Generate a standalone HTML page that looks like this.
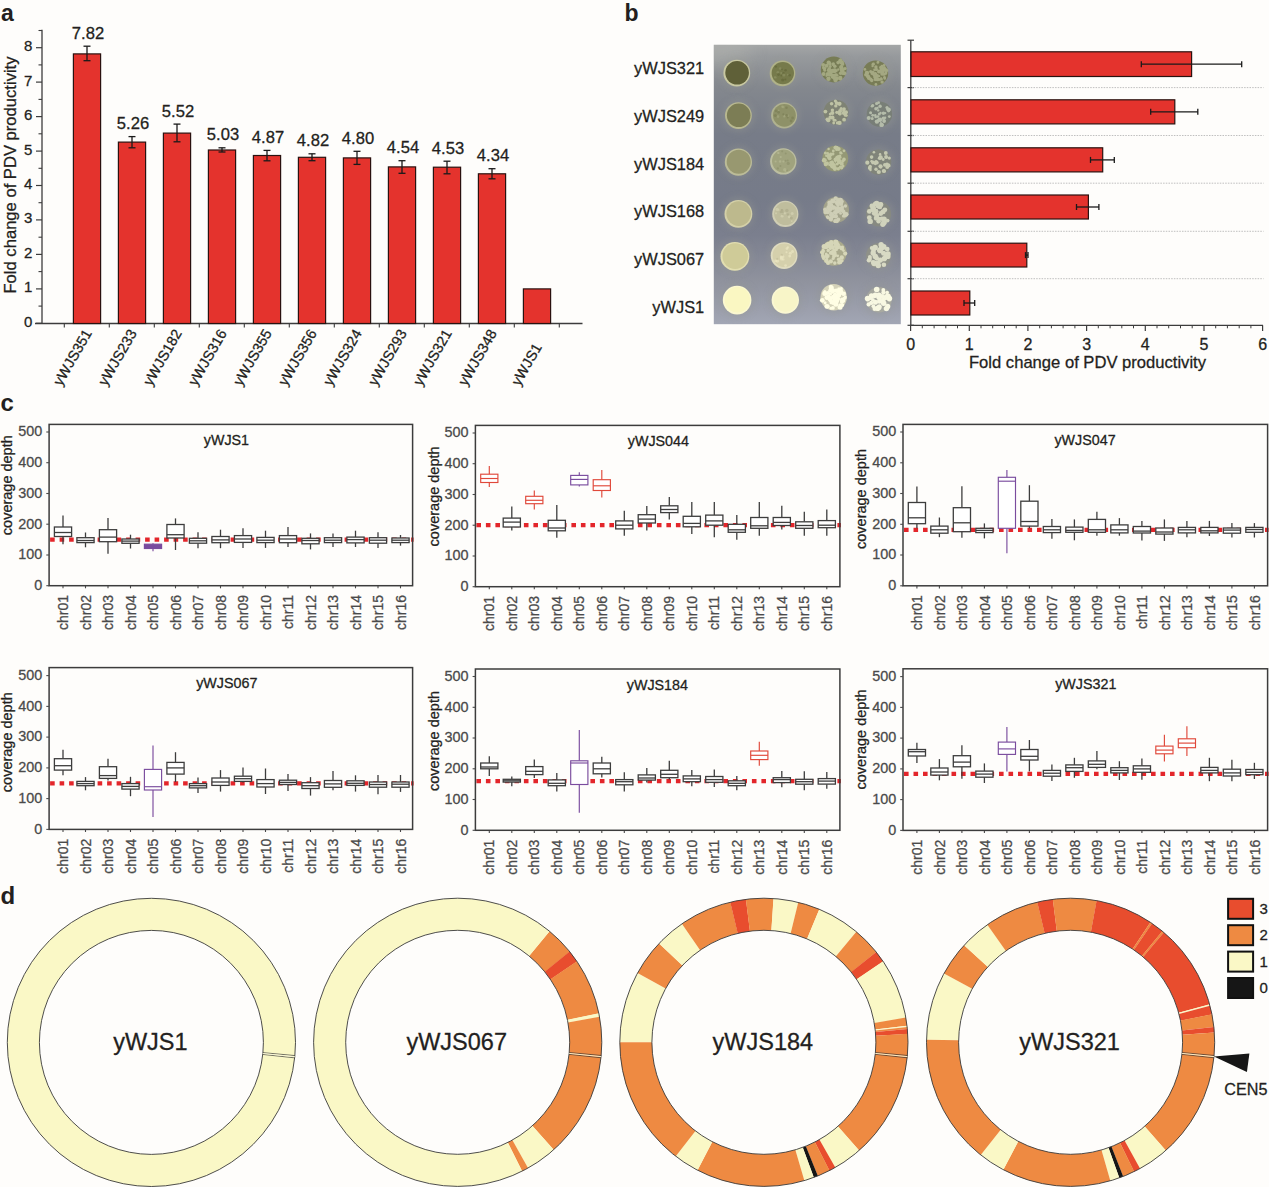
<!DOCTYPE html>
<html><head><meta charset="utf-8"><title>Figure</title>
<style>
html,body{margin:0;padding:0;background:#fefdfb;}
body{width:1269px;height:1187px;overflow:hidden;}
svg{display:block;font-family:"Liberation Sans", sans-serif;}
</style></head><body>
<svg width="1269" height="1187" viewBox="0 0 1269 1187">
<text x="1" y="20.8" font-size="23" font-weight="bold" fill="#231f20">a</text>
<line x1="42" y1="29.7" x2="42" y2="323.5" stroke="#3c3c3c" stroke-width="1.3"/>
<line x1="36" y1="323.3" x2="42" y2="323.3" stroke="#3c3c3c" stroke-width="1.2"/>
<text x="32.3" y="326.8" font-size="15" text-anchor="end" fill="#231f20" stroke="#231f20" stroke-width="0.28">0</text>
<line x1="38.5" y1="306.1" x2="42" y2="306.1" stroke="#3c3c3c" stroke-width="1.1"/>
<line x1="36" y1="288.9" x2="42" y2="288.9" stroke="#3c3c3c" stroke-width="1.2"/>
<text x="32.3" y="292.4" font-size="15" text-anchor="end" fill="#231f20" stroke="#231f20" stroke-width="0.28">1</text>
<line x1="38.5" y1="271.6" x2="42" y2="271.6" stroke="#3c3c3c" stroke-width="1.1"/>
<line x1="36" y1="254.4" x2="42" y2="254.4" stroke="#3c3c3c" stroke-width="1.2"/>
<text x="32.3" y="257.9" font-size="15" text-anchor="end" fill="#231f20" stroke="#231f20" stroke-width="0.28">2</text>
<line x1="38.5" y1="237.2" x2="42" y2="237.2" stroke="#3c3c3c" stroke-width="1.1"/>
<line x1="36" y1="219.9" x2="42" y2="219.9" stroke="#3c3c3c" stroke-width="1.2"/>
<text x="32.3" y="223.4" font-size="15" text-anchor="end" fill="#231f20" stroke="#231f20" stroke-width="0.28">3</text>
<line x1="38.5" y1="202.7" x2="42" y2="202.7" stroke="#3c3c3c" stroke-width="1.1"/>
<line x1="36" y1="185.5" x2="42" y2="185.5" stroke="#3c3c3c" stroke-width="1.2"/>
<text x="32.3" y="189.0" font-size="15" text-anchor="end" fill="#231f20" stroke="#231f20" stroke-width="0.28">4</text>
<line x1="38.5" y1="168.3" x2="42" y2="168.3" stroke="#3c3c3c" stroke-width="1.1"/>
<line x1="36" y1="151.1" x2="42" y2="151.1" stroke="#3c3c3c" stroke-width="1.2"/>
<text x="32.3" y="154.6" font-size="15" text-anchor="end" fill="#231f20" stroke="#231f20" stroke-width="0.28">5</text>
<line x1="38.5" y1="133.8" x2="42" y2="133.8" stroke="#3c3c3c" stroke-width="1.1"/>
<line x1="36" y1="116.6" x2="42" y2="116.6" stroke="#3c3c3c" stroke-width="1.2"/>
<text x="32.3" y="120.1" font-size="15" text-anchor="end" fill="#231f20" stroke="#231f20" stroke-width="0.28">6</text>
<line x1="38.5" y1="99.4" x2="42" y2="99.4" stroke="#3c3c3c" stroke-width="1.1"/>
<line x1="36" y1="82.1" x2="42" y2="82.1" stroke="#3c3c3c" stroke-width="1.2"/>
<text x="32.3" y="85.6" font-size="15" text-anchor="end" fill="#231f20" stroke="#231f20" stroke-width="0.28">7</text>
<line x1="38.5" y1="64.9" x2="42" y2="64.9" stroke="#3c3c3c" stroke-width="1.1"/>
<line x1="36" y1="47.7" x2="42" y2="47.7" stroke="#3c3c3c" stroke-width="1.2"/>
<text x="32.3" y="51.2" font-size="15" text-anchor="end" fill="#231f20" stroke="#231f20" stroke-width="0.28">8</text>
<line x1="38.5" y1="30.5" x2="42" y2="30.5" stroke="#3c3c3c" stroke-width="1.1"/>
<text transform="translate(15.5,175) rotate(-90)" font-size="16.6" text-anchor="middle" fill="#231f20" stroke="#231f20" stroke-width="0.28">Fold change of PDV productivity</text>
<line x1="35" y1="323.5" x2="582.5" y2="323.5" stroke="#3c3c3c" stroke-width="1.4"/>
<rect x="73.4" y="53.9" width="27.2" height="269.6" fill="#e4332d" stroke="#2a1210" stroke-width="1.2"/>
<line x1="87.0" y1="46.2" x2="87.0" y2="60.7" stroke="#1a1a1a" stroke-width="1.3"/>
<line x1="83.5" y1="46.2" x2="90.5" y2="46.2" stroke="#1a1a1a" stroke-width="1.3"/>
<line x1="83.5" y1="60.7" x2="90.5" y2="60.7" stroke="#1a1a1a" stroke-width="1.3"/>
<text x="88.0" y="38.7" font-size="16.6" text-anchor="middle" fill="#231f20" stroke="#231f20" stroke-width="0.28">7.82</text>
<text transform="translate(61.3,386.7) rotate(-60)" font-size="14.5" text-anchor="start" fill="#231f20" stroke="#231f20" stroke-width="0.28">yWJS351</text>
<rect x="118.4" y="142.1" width="27.2" height="181.4" fill="#e4332d" stroke="#2a1210" stroke-width="1.2"/>
<line x1="132.0" y1="136.6" x2="132.0" y2="147.8" stroke="#1a1a1a" stroke-width="1.3"/>
<line x1="128.5" y1="136.6" x2="135.5" y2="136.6" stroke="#1a1a1a" stroke-width="1.3"/>
<line x1="128.5" y1="147.8" x2="135.5" y2="147.8" stroke="#1a1a1a" stroke-width="1.3"/>
<text x="133.0" y="129.1" font-size="16.6" text-anchor="middle" fill="#231f20" stroke="#231f20" stroke-width="0.28">5.26</text>
<text transform="translate(106.3,386.7) rotate(-60)" font-size="14.5" text-anchor="start" fill="#231f20" stroke="#231f20" stroke-width="0.28">yWJS233</text>
<rect x="163.4" y="133.1" width="27.2" height="190.4" fill="#e4332d" stroke="#2a1210" stroke-width="1.2"/>
<line x1="177.0" y1="124.1" x2="177.0" y2="141.8" stroke="#1a1a1a" stroke-width="1.3"/>
<line x1="173.5" y1="124.1" x2="180.5" y2="124.1" stroke="#1a1a1a" stroke-width="1.3"/>
<line x1="173.5" y1="141.8" x2="180.5" y2="141.8" stroke="#1a1a1a" stroke-width="1.3"/>
<text x="178.0" y="116.6" font-size="16.6" text-anchor="middle" fill="#231f20" stroke="#231f20" stroke-width="0.28">5.52</text>
<text transform="translate(151.3,386.7) rotate(-60)" font-size="14.5" text-anchor="start" fill="#231f20" stroke="#231f20" stroke-width="0.28">yWJS182</text>
<rect x="208.4" y="150.0" width="27.2" height="173.5" fill="#e4332d" stroke="#2a1210" stroke-width="1.2"/>
<line x1="222.0" y1="147.8" x2="222.0" y2="152.0" stroke="#1a1a1a" stroke-width="1.3"/>
<line x1="218.5" y1="147.8" x2="225.5" y2="147.8" stroke="#1a1a1a" stroke-width="1.3"/>
<line x1="218.5" y1="152.0" x2="225.5" y2="152.0" stroke="#1a1a1a" stroke-width="1.3"/>
<text x="223.0" y="140.3" font-size="16.6" text-anchor="middle" fill="#231f20" stroke="#231f20" stroke-width="0.28">5.03</text>
<text transform="translate(196.3,386.7) rotate(-60)" font-size="14.5" text-anchor="start" fill="#231f20" stroke="#231f20" stroke-width="0.28">yWJS316</text>
<rect x="253.4" y="155.5" width="27.2" height="168.0" fill="#e4332d" stroke="#2a1210" stroke-width="1.2"/>
<line x1="267.0" y1="150.4" x2="267.0" y2="160.8" stroke="#1a1a1a" stroke-width="1.3"/>
<line x1="263.5" y1="150.4" x2="270.5" y2="150.4" stroke="#1a1a1a" stroke-width="1.3"/>
<line x1="263.5" y1="160.8" x2="270.5" y2="160.8" stroke="#1a1a1a" stroke-width="1.3"/>
<text x="268.0" y="142.9" font-size="16.6" text-anchor="middle" fill="#231f20" stroke="#231f20" stroke-width="0.28">4.87</text>
<text transform="translate(241.3,386.7) rotate(-60)" font-size="14.5" text-anchor="start" fill="#231f20" stroke="#231f20" stroke-width="0.28">yWJS355</text>
<rect x="298.4" y="157.3" width="27.2" height="166.2" fill="#e4332d" stroke="#2a1210" stroke-width="1.2"/>
<line x1="312.0" y1="153.8" x2="312.0" y2="160.7" stroke="#1a1a1a" stroke-width="1.3"/>
<line x1="308.5" y1="153.8" x2="315.5" y2="153.8" stroke="#1a1a1a" stroke-width="1.3"/>
<line x1="308.5" y1="160.7" x2="315.5" y2="160.7" stroke="#1a1a1a" stroke-width="1.3"/>
<text x="313.0" y="146.3" font-size="16.6" text-anchor="middle" fill="#231f20" stroke="#231f20" stroke-width="0.28">4.82</text>
<text transform="translate(286.3,386.7) rotate(-60)" font-size="14.5" text-anchor="start" fill="#231f20" stroke="#231f20" stroke-width="0.28">yWJS356</text>
<rect x="343.4" y="157.9" width="27.2" height="165.6" fill="#e4332d" stroke="#2a1210" stroke-width="1.2"/>
<line x1="357.0" y1="151.3" x2="357.0" y2="164.4" stroke="#1a1a1a" stroke-width="1.3"/>
<line x1="353.5" y1="151.3" x2="360.5" y2="151.3" stroke="#1a1a1a" stroke-width="1.3"/>
<line x1="353.5" y1="164.4" x2="360.5" y2="164.4" stroke="#1a1a1a" stroke-width="1.3"/>
<text x="358.0" y="143.8" font-size="16.6" text-anchor="middle" fill="#231f20" stroke="#231f20" stroke-width="0.28">4.80</text>
<text transform="translate(331.3,386.7) rotate(-60)" font-size="14.5" text-anchor="start" fill="#231f20" stroke="#231f20" stroke-width="0.28">yWJS324</text>
<rect x="388.4" y="166.9" width="27.2" height="156.6" fill="#e4332d" stroke="#2a1210" stroke-width="1.2"/>
<line x1="402.0" y1="160.7" x2="402.0" y2="173.3" stroke="#1a1a1a" stroke-width="1.3"/>
<line x1="398.5" y1="160.7" x2="405.5" y2="160.7" stroke="#1a1a1a" stroke-width="1.3"/>
<line x1="398.5" y1="173.3" x2="405.5" y2="173.3" stroke="#1a1a1a" stroke-width="1.3"/>
<text x="403.0" y="153.2" font-size="16.6" text-anchor="middle" fill="#231f20" stroke="#231f20" stroke-width="0.28">4.54</text>
<text transform="translate(376.3,386.7) rotate(-60)" font-size="14.5" text-anchor="start" fill="#231f20" stroke="#231f20" stroke-width="0.28">yWJS293</text>
<rect x="433.4" y="167.2" width="27.2" height="156.3" fill="#e4332d" stroke="#2a1210" stroke-width="1.2"/>
<line x1="447.0" y1="161.2" x2="447.0" y2="173.8" stroke="#1a1a1a" stroke-width="1.3"/>
<line x1="443.5" y1="161.2" x2="450.5" y2="161.2" stroke="#1a1a1a" stroke-width="1.3"/>
<line x1="443.5" y1="173.8" x2="450.5" y2="173.8" stroke="#1a1a1a" stroke-width="1.3"/>
<text x="448.0" y="153.7" font-size="16.6" text-anchor="middle" fill="#231f20" stroke="#231f20" stroke-width="0.28">4.53</text>
<text transform="translate(421.3,386.7) rotate(-60)" font-size="14.5" text-anchor="start" fill="#231f20" stroke="#231f20" stroke-width="0.28">yWJS321</text>
<rect x="478.4" y="173.8" width="27.2" height="149.7" fill="#e4332d" stroke="#2a1210" stroke-width="1.2"/>
<line x1="492.0" y1="168.7" x2="492.0" y2="178.8" stroke="#1a1a1a" stroke-width="1.3"/>
<line x1="488.5" y1="168.7" x2="495.5" y2="168.7" stroke="#1a1a1a" stroke-width="1.3"/>
<line x1="488.5" y1="178.8" x2="495.5" y2="178.8" stroke="#1a1a1a" stroke-width="1.3"/>
<text x="493.0" y="161.2" font-size="16.6" text-anchor="middle" fill="#231f20" stroke="#231f20" stroke-width="0.28">4.34</text>
<text transform="translate(466.3,386.7) rotate(-60)" font-size="14.5" text-anchor="start" fill="#231f20" stroke="#231f20" stroke-width="0.28">yWJS348</text>
<rect x="523.4" y="288.9" width="27.2" height="34.6" fill="#e4332d" stroke="#2a1210" stroke-width="1.2"/>
<text transform="translate(519.4,386.7) rotate(-60)" font-size="14.5" text-anchor="start" fill="#231f20" stroke="#231f20" stroke-width="0.28">yWJS1</text>
<line x1="64.3" y1="323.5" x2="64.3" y2="327.5" stroke="#3c3c3c" stroke-width="1.1"/>
<line x1="109.3" y1="323.5" x2="109.3" y2="327.5" stroke="#3c3c3c" stroke-width="1.1"/>
<line x1="154.3" y1="323.5" x2="154.3" y2="327.5" stroke="#3c3c3c" stroke-width="1.1"/>
<line x1="199.3" y1="323.5" x2="199.3" y2="327.5" stroke="#3c3c3c" stroke-width="1.1"/>
<line x1="244.3" y1="323.5" x2="244.3" y2="327.5" stroke="#3c3c3c" stroke-width="1.1"/>
<line x1="289.3" y1="323.5" x2="289.3" y2="327.5" stroke="#3c3c3c" stroke-width="1.1"/>
<line x1="334.3" y1="323.5" x2="334.3" y2="327.5" stroke="#3c3c3c" stroke-width="1.1"/>
<line x1="379.3" y1="323.5" x2="379.3" y2="327.5" stroke="#3c3c3c" stroke-width="1.1"/>
<line x1="424.3" y1="323.5" x2="424.3" y2="327.5" stroke="#3c3c3c" stroke-width="1.1"/>
<line x1="469.3" y1="323.5" x2="469.3" y2="327.5" stroke="#3c3c3c" stroke-width="1.1"/>
<line x1="514.3" y1="323.5" x2="514.3" y2="327.5" stroke="#3c3c3c" stroke-width="1.1"/>
<line x1="559.3" y1="323.5" x2="559.3" y2="327.5" stroke="#3c3c3c" stroke-width="1.1"/>
<text x="624.5" y="20.7" font-size="23" font-weight="bold" fill="#231f20">b</text>
<defs><filter id="blur3" x="-50%" y="-50%" width="200%" height="200%"><feGaussianBlur stdDeviation="3"/></filter><filter id="blur8" x="-50%" y="-50%" width="200%" height="200%"><feGaussianBlur stdDeviation="8"/></filter><filter id="blur05" x="-50%" y="-50%" width="200%" height="200%"><feGaussianBlur stdDeviation="0.4"/></filter><filter id="blur07" x="-50%" y="-50%" width="200%" height="200%"><feGaussianBlur stdDeviation="0.7"/></filter><clipPath id="photoclip"><rect x="713.8" y="44.8" width="187" height="279.4"/></clipPath><linearGradient id="bgv" x1="0" y1="0" x2="0" y2="1"><stop offset="0" stop-color="#a4a6a6"/><stop offset="0.04" stop-color="#979a9d"/><stop offset="0.15" stop-color="#84888e"/><stop offset="0.32" stop-color="#777c88"/><stop offset="0.55" stop-color="#767b89"/><stop offset="0.68" stop-color="#7b7f8e"/><stop offset="0.85" stop-color="#90939e"/><stop offset="1" stop-color="#a2a6b4"/></linearGradient></defs>
<rect x="713.8" y="44.8" width="187" height="279.4" fill="url(#bgv)"/>
<g clip-path="url(#photoclip)">
<ellipse cx="722" cy="52" rx="30" ry="14" fill="#b4b5b0" opacity="0.5" filter="url(#blur8)"/>
<circle cx="736.8" cy="73.1" r="16.4" fill="#959892" opacity="0.35" filter="url(#blur3)"/>
<circle cx="782.5" cy="73.4" r="15.8" fill="#959892" opacity="0.35" filter="url(#blur3)"/>
<circle cx="833.7" cy="69.5" r="16.4" fill="#959892" opacity="0.35" filter="url(#blur3)"/>
<circle cx="875.5" cy="73.1" r="16.2" fill="#959892" opacity="0.35" filter="url(#blur3)"/>
<circle cx="738.4" cy="115.6" r="16.4" fill="#959892" opacity="0.35" filter="url(#blur3)"/>
<circle cx="784.1" cy="115.6" r="16" fill="#959892" opacity="0.35" filter="url(#blur3)"/>
<circle cx="836.1" cy="112.2" r="16" fill="#959892" opacity="0.35" filter="url(#blur3)"/>
<circle cx="879.4" cy="114.1" r="16.2" fill="#959892" opacity="0.35" filter="url(#blur3)"/>
<circle cx="738.4" cy="162.1" r="16.6" fill="#959892" opacity="0.35" filter="url(#blur3)"/>
<circle cx="783.3" cy="161.4" r="16.2" fill="#959892" opacity="0.35" filter="url(#blur3)"/>
<circle cx="835.3" cy="158.6" r="16.4" fill="#959892" opacity="0.35" filter="url(#blur3)"/>
<circle cx="878.6" cy="162.1" r="16.2" fill="#959892" opacity="0.35" filter="url(#blur3)"/>
<circle cx="738.4" cy="213.9" r="16.9" fill="#959892" opacity="0.35" filter="url(#blur3)"/>
<circle cx="785.3" cy="213.9" r="16.1" fill="#959892" opacity="0.35" filter="url(#blur3)"/>
<circle cx="836.1" cy="209.9" r="16.4" fill="#959892" opacity="0.35" filter="url(#blur3)"/>
<circle cx="878.6" cy="213.9" r="16" fill="#959892" opacity="0.35" filter="url(#blur3)"/>
<circle cx="734.9" cy="256.4" r="17.4" fill="#959892" opacity="0.35" filter="url(#blur3)"/>
<circle cx="784.1" cy="255.6" r="16.4" fill="#959892" opacity="0.35" filter="url(#blur3)"/>
<circle cx="833.7" cy="252.8" r="16.4" fill="#959892" opacity="0.35" filter="url(#blur3)"/>
<circle cx="878.6" cy="255.6" r="16" fill="#959892" opacity="0.35" filter="url(#blur3)"/>
<circle cx="737.1" cy="300.1" r="17.3" fill="#959892" opacity="0.35" filter="url(#blur3)"/>
<circle cx="785.3" cy="300.1" r="16.7" fill="#959892" opacity="0.35" filter="url(#blur3)"/>
<circle cx="833.7" cy="297.2" r="16.7" fill="#959892" opacity="0.35" filter="url(#blur3)"/>
<circle cx="879" cy="299.8" r="16.3" fill="#959892" opacity="0.35" filter="url(#blur3)"/>
<circle cx="736.8" cy="73.1" r="13.4" fill="#c9c9a2" filter="url(#blur05)"/>
<circle cx="737.0999999999999" cy="72.8" r="11.8" fill="#5f6039" filter="url(#blur05)"/>
<circle cx="782.5" cy="73.4" r="12.8" fill="#b0b288" filter="url(#blur05)"/>
<circle cx="782.8" cy="73.10000000000001" r="11.200000000000001" fill="#767a4c" filter="url(#blur05)"/>
<circle cx="781.3" cy="75.7" r="0.9" fill="#64683a" opacity="0.7" filter="url(#blur05)"/>
<circle cx="777.8" cy="72.3" r="1.3" fill="#8c9062" opacity="0.7" filter="url(#blur05)"/>
<circle cx="787.8" cy="74.7" r="0.9" fill="#8c9062" opacity="0.7" filter="url(#blur05)"/>
<circle cx="774.9" cy="77.3" r="1.0" fill="#8c9062" opacity="0.7" filter="url(#blur05)"/>
<circle cx="775.9" cy="66.6" r="1.2" fill="#64683a" opacity="0.7" filter="url(#blur05)"/>
<circle cx="783.6" cy="73.2" r="1.1" fill="#64683a" opacity="0.7" filter="url(#blur05)"/>
<circle cx="783.9" cy="75.1" r="1.5" fill="#8c9062" opacity="0.7" filter="url(#blur05)"/>
<circle cx="785.3" cy="79.5" r="1.1" fill="#64683a" opacity="0.7" filter="url(#blur05)"/>
<circle cx="781.2" cy="73.0" r="1.0" fill="#8c9062" opacity="0.7" filter="url(#blur05)"/>
<circle cx="780.2" cy="68.5" r="1.3" fill="#8c9062" opacity="0.7" filter="url(#blur05)"/>
<circle cx="778.5" cy="74.6" r="1.4" fill="#64683a" opacity="0.7" filter="url(#blur05)"/>
<circle cx="782.7" cy="80.0" r="1.6" fill="#64683a" opacity="0.7" filter="url(#blur05)"/>
<circle cx="782.0" cy="69.3" r="0.9" fill="#64683a" opacity="0.7" filter="url(#blur05)"/>
<circle cx="775.5" cy="77.4" r="1.2" fill="#8c9062" opacity="0.7" filter="url(#blur05)"/>
<circle cx="789.7" cy="75.2" r="1.3" fill="#64683a" opacity="0.7" filter="url(#blur05)"/>
<circle cx="785.6" cy="70.3" r="1.3" fill="#64683a" opacity="0.7" filter="url(#blur05)"/>
<circle cx="833.7" cy="69.5" r="12.9" fill="#777c54" filter="url(#blur05)"/>
<circle cx="826.7" cy="65.7" r="2.0" fill="#a3a880" filter="url(#blur05)"/>
<circle cx="841.3" cy="66.7" r="1.8" fill="#a3a880" filter="url(#blur05)"/>
<circle cx="842.9" cy="73.2" r="1.8" fill="#a3a880" filter="url(#blur05)"/>
<circle cx="844.4" cy="69.0" r="1.4" fill="#a3a880" filter="url(#blur05)"/>
<circle cx="826.4" cy="75.8" r="1.1" fill="#a3a880" filter="url(#blur05)"/>
<circle cx="829.0" cy="70.7" r="1.2" fill="#a3a880" filter="url(#blur05)"/>
<circle cx="843.3" cy="73.2" r="1.2" fill="#a3a880" filter="url(#blur05)"/>
<circle cx="833.8" cy="76.9" r="2.1" fill="#a3a880" filter="url(#blur05)"/>
<circle cx="840.6" cy="73.3" r="1.7" fill="#a3a880" filter="url(#blur05)"/>
<circle cx="841.6" cy="62.4" r="2.1" fill="#a3a880" filter="url(#blur05)"/>
<circle cx="832.3" cy="77.0" r="1.5" fill="#a3a880" filter="url(#blur05)"/>
<circle cx="842.3" cy="61.8" r="1.3" fill="#a3a880" filter="url(#blur05)"/>
<circle cx="836.2" cy="74.6" r="1.4" fill="#a3a880" filter="url(#blur05)"/>
<circle cx="824.7" cy="70.4" r="1.4" fill="#a3a880" filter="url(#blur05)"/>
<circle cx="841.3" cy="69.7" r="1.5" fill="#a3a880" filter="url(#blur05)"/>
<circle cx="823.2" cy="64.8" r="1.9" fill="#a3a880" filter="url(#blur05)"/>
<circle cx="824.5" cy="68.6" r="1.8" fill="#a3a880" filter="url(#blur05)"/>
<circle cx="844.3" cy="73.2" r="2.0" fill="#a3a880" filter="url(#blur05)"/>
<circle cx="841.1" cy="62.0" r="1.5" fill="#a3a880" filter="url(#blur05)"/>
<circle cx="830.6" cy="71.8" r="1.8" fill="#a3a880" filter="url(#blur05)"/>
<circle cx="836.5" cy="70.7" r="1.3" fill="#a3a880" filter="url(#blur05)"/>
<circle cx="837.3" cy="75.4" r="1.2" fill="#a3a880" filter="url(#blur05)"/>
<circle cx="838.3" cy="69.5" r="1.2" fill="#a3a880" filter="url(#blur05)"/>
<circle cx="832.5" cy="70.9" r="2.1" fill="#a3a880" filter="url(#blur05)"/>
<circle cx="830.3" cy="66.5" r="1.4" fill="#a3a880" filter="url(#blur05)"/>
<circle cx="829.6" cy="75.3" r="1.2" fill="#a3a880" filter="url(#blur05)"/>
<circle cx="840.5" cy="59.9" r="1.6" fill="#a3a880" filter="url(#blur05)"/>
<circle cx="830.3" cy="69.9" r="1.2" fill="#a3a880" filter="url(#blur05)"/>
<circle cx="830.4" cy="74.6" r="2.0" fill="#a3a880" filter="url(#blur05)"/>
<circle cx="834.6" cy="71.0" r="2.1" fill="#a3a880" filter="url(#blur05)"/>
<circle cx="829.3" cy="68.7" r="1.7" fill="#a3a880" filter="url(#blur05)"/>
<circle cx="842.2" cy="71.0" r="2.2" fill="#a3a880" filter="url(#blur05)"/>
<circle cx="840.1" cy="62.0" r="1.4" fill="#a3a880" filter="url(#blur05)"/>
<circle cx="830.5" cy="73.1" r="1.9" fill="#a3a880" filter="url(#blur05)"/>
<circle cx="823.5" cy="67.4" r="1.5" fill="#a3a880" filter="url(#blur05)"/>
<circle cx="835.5" cy="80.0" r="2.2" fill="#a3a880" filter="url(#blur05)"/>
<circle cx="840.1" cy="61.0" r="2.0" fill="#a3a880" filter="url(#blur05)"/>
<circle cx="833.3" cy="63.9" r="1.7" fill="#a3a880" filter="url(#blur05)"/>
<circle cx="832.5" cy="71.1" r="1.1" fill="#a3a880" filter="url(#blur05)"/>
<circle cx="832.6" cy="75.4" r="1.9" fill="#a3a880" filter="url(#blur05)"/>
<circle cx="841.3" cy="67.4" r="2.1" fill="#a3a880" filter="url(#blur05)"/>
<circle cx="845.2" cy="68.6" r="1.5" fill="#a3a880" filter="url(#blur05)"/>
<circle cx="834.7" cy="75.0" r="1.3" fill="#a3a880" filter="url(#blur05)"/>
<circle cx="836.3" cy="78.4" r="2.1" fill="#a3a880" filter="url(#blur05)"/>
<circle cx="838.1" cy="62.6" r="1.8" fill="#a3a880" filter="url(#blur05)"/>
<circle cx="834.8" cy="66.2" r="1.8" fill="#a3a880" filter="url(#blur05)"/>
<circle cx="842.5" cy="63.9" r="1.9" fill="#a3a880" filter="url(#blur05)"/>
<circle cx="828.8" cy="70.2" r="2.0" fill="#a3a880" filter="url(#blur05)"/>
<circle cx="828.5" cy="78.7" r="2.2" fill="#a3a880" filter="url(#blur05)"/>
<circle cx="827.8" cy="74.1" r="2.1" fill="#a3a880" filter="url(#blur05)"/>
<circle cx="832.9" cy="64.7" r="1.2" fill="#a3a880" filter="url(#blur05)"/>
<circle cx="840.2" cy="78.6" r="2.0" fill="#a3a880" filter="url(#blur05)"/>
<circle cx="840.2" cy="78.0" r="2.2" fill="#a3a880" filter="url(#blur05)"/>
<circle cx="829.9" cy="63.7" r="1.7" fill="#a3a880" filter="url(#blur05)"/>
<circle cx="834.7" cy="70.5" r="2.2" fill="#a3a880" filter="url(#blur05)"/>
<circle cx="828.7" cy="62.6" r="2.1" fill="#a3a880" filter="url(#blur05)"/>
<circle cx="823.6" cy="74.0" r="2.0" fill="#a3a880" filter="url(#blur05)"/>
<circle cx="835.1" cy="75.2" r="1.4" fill="#a3a880" filter="url(#blur05)"/>
<circle cx="834.2" cy="78.5" r="1.4" fill="#a3a880" filter="url(#blur05)"/>
<circle cx="830.0" cy="71.6" r="2.1" fill="#a3a880" filter="url(#blur05)"/>
<circle cx="875.5" cy="73.1" r="12.7" fill="#787c56" filter="url(#blur05)"/>
<circle cx="870.7" cy="79.3" r="1.7" fill="#a4a882" filter="url(#blur05)"/>
<circle cx="881.7" cy="68.8" r="2.1" fill="#a4a882" filter="url(#blur05)"/>
<circle cx="867.0" cy="73.0" r="1.7" fill="#a4a882" filter="url(#blur05)"/>
<circle cx="883.1" cy="74.0" r="1.3" fill="#a4a882" filter="url(#blur05)"/>
<circle cx="885.9" cy="73.4" r="1.3" fill="#a4a882" filter="url(#blur05)"/>
<circle cx="865.8" cy="74.7" r="1.7" fill="#a4a882" filter="url(#blur05)"/>
<circle cx="871.7" cy="80.5" r="1.7" fill="#a4a882" filter="url(#blur05)"/>
<circle cx="876.3" cy="69.4" r="1.7" fill="#a4a882" filter="url(#blur05)"/>
<circle cx="875.6" cy="79.2" r="1.9" fill="#a4a882" filter="url(#blur05)"/>
<circle cx="866.8" cy="72.7" r="1.9" fill="#a4a882" filter="url(#blur05)"/>
<circle cx="882.1" cy="69.1" r="1.8" fill="#a4a882" filter="url(#blur05)"/>
<circle cx="867.2" cy="72.8" r="1.9" fill="#a4a882" filter="url(#blur05)"/>
<circle cx="867.4" cy="75.6" r="1.6" fill="#a4a882" filter="url(#blur05)"/>
<circle cx="884.6" cy="69.6" r="2.1" fill="#a4a882" filter="url(#blur05)"/>
<circle cx="881.0" cy="71.0" r="1.7" fill="#a4a882" filter="url(#blur05)"/>
<circle cx="885.5" cy="69.4" r="1.3" fill="#a4a882" filter="url(#blur05)"/>
<circle cx="881.1" cy="78.4" r="1.2" fill="#a4a882" filter="url(#blur05)"/>
<circle cx="875.7" cy="76.2" r="1.8" fill="#a4a882" filter="url(#blur05)"/>
<circle cx="877.8" cy="62.4" r="1.3" fill="#a4a882" filter="url(#blur05)"/>
<circle cx="873.5" cy="63.9" r="1.3" fill="#a4a882" filter="url(#blur05)"/>
<circle cx="884.0" cy="65.4" r="1.3" fill="#a4a882" filter="url(#blur05)"/>
<circle cx="882.5" cy="70.9" r="1.6" fill="#a4a882" filter="url(#blur05)"/>
<circle cx="886.1" cy="72.4" r="1.3" fill="#a4a882" filter="url(#blur05)"/>
<circle cx="867.9" cy="76.6" r="1.5" fill="#a4a882" filter="url(#blur05)"/>
<circle cx="877.7" cy="79.3" r="1.9" fill="#a4a882" filter="url(#blur05)"/>
<circle cx="884.1" cy="74.2" r="1.6" fill="#a4a882" filter="url(#blur05)"/>
<circle cx="882.1" cy="73.9" r="1.8" fill="#a4a882" filter="url(#blur05)"/>
<circle cx="872.6" cy="72.9" r="2.2" fill="#a4a882" filter="url(#blur05)"/>
<circle cx="878.2" cy="62.0" r="1.2" fill="#a4a882" filter="url(#blur05)"/>
<circle cx="875.3" cy="75.4" r="2.0" fill="#a4a882" filter="url(#blur05)"/>
<circle cx="875.0" cy="77.2" r="1.6" fill="#a4a882" filter="url(#blur05)"/>
<circle cx="884.4" cy="67.6" r="1.4" fill="#a4a882" filter="url(#blur05)"/>
<circle cx="882.1" cy="82.1" r="1.7" fill="#a4a882" filter="url(#blur05)"/>
<circle cx="874.4" cy="69.8" r="1.2" fill="#a4a882" filter="url(#blur05)"/>
<circle cx="872.6" cy="66.1" r="1.2" fill="#a4a882" filter="url(#blur05)"/>
<circle cx="884.1" cy="69.6" r="2.0" fill="#a4a882" filter="url(#blur05)"/>
<circle cx="884.8" cy="78.5" r="1.2" fill="#a4a882" filter="url(#blur05)"/>
<circle cx="880.6" cy="67.2" r="1.5" fill="#a4a882" filter="url(#blur05)"/>
<circle cx="864.9" cy="69.4" r="1.4" fill="#a4a882" filter="url(#blur05)"/>
<circle cx="881.3" cy="79.2" r="1.4" fill="#a4a882" filter="url(#blur05)"/>
<circle cx="879.1" cy="76.1" r="1.2" fill="#a4a882" filter="url(#blur05)"/>
<circle cx="877.4" cy="79.3" r="1.4" fill="#a4a882" filter="url(#blur05)"/>
<circle cx="875.9" cy="66.9" r="1.7" fill="#a4a882" filter="url(#blur05)"/>
<circle cx="878.5" cy="79.2" r="1.1" fill="#a4a882" filter="url(#blur05)"/>
<circle cx="875.5" cy="74.5" r="1.9" fill="#a4a882" filter="url(#blur05)"/>
<circle cx="870.7" cy="71.5" r="1.6" fill="#a4a882" filter="url(#blur05)"/>
<circle cx="879.0" cy="71.6" r="2.0" fill="#a4a882" filter="url(#blur05)"/>
<circle cx="868.1" cy="76.5" r="2.0" fill="#a4a882" filter="url(#blur05)"/>
<circle cx="869.0" cy="78.2" r="1.9" fill="#a4a882" filter="url(#blur05)"/>
<circle cx="882.2" cy="72.4" r="2.0" fill="#a4a882" filter="url(#blur05)"/>
<circle cx="873.0" cy="64.2" r="1.5" fill="#a4a882" filter="url(#blur05)"/>
<circle cx="873.9" cy="75.3" r="1.2" fill="#a4a882" filter="url(#blur05)"/>
<circle cx="884.5" cy="77.4" r="1.4" fill="#a4a882" filter="url(#blur05)"/>
<circle cx="877.2" cy="76.0" r="2.0" fill="#a4a882" filter="url(#blur05)"/>
<circle cx="882.0" cy="66.2" r="1.4" fill="#a4a882" filter="url(#blur05)"/>
<circle cx="875.8" cy="79.4" r="1.6" fill="#a4a882" filter="url(#blur05)"/>
<circle cx="879.8" cy="79.6" r="1.4" fill="#a4a882" filter="url(#blur05)"/>
<circle cx="886.6" cy="70.4" r="1.7" fill="#a4a882" filter="url(#blur05)"/>
<circle cx="875.9" cy="84.5" r="1.4" fill="#a4a882" filter="url(#blur05)"/>
<circle cx="875.3" cy="73.4" r="1.5" fill="#a4a882" filter="url(#blur05)"/>
<circle cx="738.4" cy="115.6" r="13.4" fill="#b8b890" filter="url(#blur05)"/>
<circle cx="738.6999999999999" cy="115.3" r="11.8" fill="#7c7d55" filter="url(#blur05)"/>
<circle cx="784.1" cy="115.6" r="13" fill="#b0b290" filter="url(#blur05)"/>
<circle cx="784.4" cy="115.3" r="11.4" fill="#8e9168" filter="url(#blur05)"/>
<circle cx="778.0" cy="116.6" r="1.3" fill="#a4a77e" opacity="0.7" filter="url(#blur05)"/>
<circle cx="788.0" cy="115.7" r="1.2" fill="#a4a77e" opacity="0.7" filter="url(#blur05)"/>
<circle cx="784.8" cy="115.8" r="1.0" fill="#a4a77e" opacity="0.7" filter="url(#blur05)"/>
<circle cx="778.6" cy="112.3" r="1.4" fill="#7c7f56" opacity="0.7" filter="url(#blur05)"/>
<circle cx="782.2" cy="106.7" r="1.1" fill="#a4a77e" opacity="0.7" filter="url(#blur05)"/>
<circle cx="786.7" cy="115.3" r="1.4" fill="#7c7f56" opacity="0.7" filter="url(#blur05)"/>
<circle cx="792.6" cy="118.0" r="1.4" fill="#7c7f56" opacity="0.7" filter="url(#blur05)"/>
<circle cx="783.2" cy="107.0" r="1.3" fill="#a4a77e" opacity="0.7" filter="url(#blur05)"/>
<circle cx="775.3" cy="115.4" r="1.5" fill="#7c7f56" opacity="0.7" filter="url(#blur05)"/>
<circle cx="776.1" cy="110.9" r="1.4" fill="#7c7f56" opacity="0.7" filter="url(#blur05)"/>
<circle cx="784.2" cy="116.5" r="1.1" fill="#a4a77e" opacity="0.7" filter="url(#blur05)"/>
<circle cx="791.1" cy="121.0" r="1.4" fill="#7c7f56" opacity="0.7" filter="url(#blur05)"/>
<circle cx="778.7" cy="110.2" r="0.8" fill="#a4a77e" opacity="0.7" filter="url(#blur05)"/>
<circle cx="786.5" cy="107.8" r="1.3" fill="#7c7f56" opacity="0.7" filter="url(#blur05)"/>
<circle cx="783.3" cy="114.3" r="1.0" fill="#7c7f56" opacity="0.7" filter="url(#blur05)"/>
<circle cx="787.6" cy="117.4" r="1.0" fill="#7c7f56" opacity="0.7" filter="url(#blur05)"/>
<circle cx="836.1" cy="112.2" r="12.5" fill="#7a7e60" opacity="0.55" filter="url(#blur05)"/>
<circle cx="835.4" cy="101.0" r="1.6" fill="#bec2a4" filter="url(#blur05)"/>
<circle cx="830.3" cy="117.5" r="1.9" fill="#bec2a4" filter="url(#blur05)"/>
<circle cx="837.1" cy="103.3" r="1.8" fill="#bec2a4" filter="url(#blur05)"/>
<circle cx="840.0" cy="114.2" r="1.4" fill="#bec2a4" filter="url(#blur05)"/>
<circle cx="835.8" cy="105.9" r="1.7" fill="#bec2a4" filter="url(#blur05)"/>
<circle cx="838.9" cy="112.4" r="1.4" fill="#bec2a4" filter="url(#blur05)"/>
<circle cx="831.6" cy="103.8" r="1.8" fill="#bec2a4" filter="url(#blur05)"/>
<circle cx="834.0" cy="120.1" r="1.6" fill="#bec2a4" filter="url(#blur05)"/>
<circle cx="832.3" cy="113.0" r="2.1" fill="#bec2a4" filter="url(#blur05)"/>
<circle cx="839.6" cy="122.9" r="2.1" fill="#bec2a4" filter="url(#blur05)"/>
<circle cx="843.8" cy="113.0" r="2.0" fill="#bec2a4" filter="url(#blur05)"/>
<circle cx="843.6" cy="110.7" r="1.4" fill="#bec2a4" filter="url(#blur05)"/>
<circle cx="838.9" cy="122.9" r="1.3" fill="#bec2a4" filter="url(#blur05)"/>
<circle cx="832.4" cy="110.1" r="1.7" fill="#bec2a4" filter="url(#blur05)"/>
<circle cx="840.1" cy="111.0" r="2.0" fill="#bec2a4" filter="url(#blur05)"/>
<circle cx="825.4" cy="111.6" r="1.9" fill="#bec2a4" filter="url(#blur05)"/>
<circle cx="837.4" cy="122.9" r="1.6" fill="#bec2a4" filter="url(#blur05)"/>
<circle cx="836.8" cy="112.3" r="1.6" fill="#bec2a4" filter="url(#blur05)"/>
<circle cx="830.1" cy="114.1" r="1.3" fill="#bec2a4" filter="url(#blur05)"/>
<circle cx="832.5" cy="117.5" r="2.0" fill="#bec2a4" filter="url(#blur05)"/>
<circle cx="846.0" cy="112.3" r="2.0" fill="#bec2a4" filter="url(#blur05)"/>
<circle cx="844.1" cy="119.7" r="1.9" fill="#bec2a4" filter="url(#blur05)"/>
<circle cx="841.1" cy="108.6" r="1.5" fill="#bec2a4" filter="url(#blur05)"/>
<circle cx="827.2" cy="119.3" r="1.7" fill="#bec2a4" filter="url(#blur05)"/>
<circle cx="831.3" cy="117.9" r="1.4" fill="#bec2a4" filter="url(#blur05)"/>
<circle cx="839.6" cy="113.3" r="2.0" fill="#bec2a4" filter="url(#blur05)"/>
<circle cx="833.7" cy="123.0" r="1.4" fill="#bec2a4" filter="url(#blur05)"/>
<circle cx="835.3" cy="120.3" r="1.3" fill="#bec2a4" filter="url(#blur05)"/>
<circle cx="828.3" cy="120.2" r="2.1" fill="#bec2a4" filter="url(#blur05)"/>
<circle cx="839.5" cy="103.8" r="2.1" fill="#bec2a4" filter="url(#blur05)"/>
<circle cx="844.0" cy="109.1" r="1.9" fill="#bec2a4" filter="url(#blur05)"/>
<circle cx="845.4" cy="115.2" r="1.6" fill="#bec2a4" filter="url(#blur05)"/>
<circle cx="836.3" cy="103.0" r="1.4" fill="#bec2a4" filter="url(#blur05)"/>
<circle cx="846.6" cy="115.5" r="1.2" fill="#bec2a4" filter="url(#blur05)"/>
<circle cx="879.4" cy="114.1" r="12.7" fill="#707866" opacity="0.55" filter="url(#blur05)"/>
<circle cx="872.7" cy="115.3" r="1.4" fill="#b4bcaa" filter="url(#blur05)"/>
<circle cx="878.6" cy="102.7" r="1.4" fill="#b4bcaa" filter="url(#blur05)"/>
<circle cx="875.9" cy="108.8" r="1.7" fill="#b4bcaa" filter="url(#blur05)"/>
<circle cx="875.7" cy="117.0" r="1.3" fill="#b4bcaa" filter="url(#blur05)"/>
<circle cx="882.3" cy="124.8" r="1.6" fill="#b4bcaa" filter="url(#blur05)"/>
<circle cx="881.5" cy="124.9" r="2.2" fill="#b4bcaa" filter="url(#blur05)"/>
<circle cx="875.3" cy="115.4" r="1.3" fill="#b4bcaa" filter="url(#blur05)"/>
<circle cx="885.1" cy="117.8" r="1.2" fill="#b4bcaa" filter="url(#blur05)"/>
<circle cx="879.8" cy="120.0" r="1.7" fill="#b4bcaa" filter="url(#blur05)"/>
<circle cx="887.0" cy="107.6" r="1.6" fill="#b4bcaa" filter="url(#blur05)"/>
<circle cx="872.2" cy="118.4" r="1.5" fill="#b4bcaa" filter="url(#blur05)"/>
<circle cx="877.9" cy="116.6" r="1.4" fill="#b4bcaa" filter="url(#blur05)"/>
<circle cx="883.4" cy="113.3" r="1.7" fill="#b4bcaa" filter="url(#blur05)"/>
<circle cx="872.0" cy="106.3" r="1.3" fill="#b4bcaa" filter="url(#blur05)"/>
<circle cx="878.6" cy="119.8" r="1.5" fill="#b4bcaa" filter="url(#blur05)"/>
<circle cx="868.7" cy="117.9" r="2.0" fill="#b4bcaa" filter="url(#blur05)"/>
<circle cx="880.6" cy="112.9" r="1.1" fill="#b4bcaa" filter="url(#blur05)"/>
<circle cx="876.6" cy="103.5" r="1.6" fill="#b4bcaa" filter="url(#blur05)"/>
<circle cx="879.3" cy="114.0" r="1.5" fill="#b4bcaa" filter="url(#blur05)"/>
<circle cx="888.8" cy="109.4" r="2.0" fill="#b4bcaa" filter="url(#blur05)"/>
<circle cx="885.1" cy="113.1" r="1.2" fill="#b4bcaa" filter="url(#blur05)"/>
<circle cx="884.1" cy="121.0" r="1.9" fill="#b4bcaa" filter="url(#blur05)"/>
<circle cx="888.6" cy="110.6" r="1.8" fill="#b4bcaa" filter="url(#blur05)"/>
<circle cx="880.1" cy="106.3" r="1.7" fill="#b4bcaa" filter="url(#blur05)"/>
<circle cx="889.3" cy="116.6" r="1.4" fill="#b4bcaa" filter="url(#blur05)"/>
<circle cx="887.6" cy="109.6" r="1.4" fill="#b4bcaa" filter="url(#blur05)"/>
<circle cx="883.4" cy="118.3" r="1.8" fill="#b4bcaa" filter="url(#blur05)"/>
<circle cx="878.2" cy="110.4" r="1.2" fill="#b4bcaa" filter="url(#blur05)"/>
<circle cx="870.6" cy="112.7" r="1.5" fill="#b4bcaa" filter="url(#blur05)"/>
<circle cx="880.9" cy="123.0" r="1.1" fill="#b4bcaa" filter="url(#blur05)"/>
<circle cx="876.9" cy="121.6" r="2.2" fill="#b4bcaa" filter="url(#blur05)"/>
<circle cx="872.7" cy="105.5" r="1.6" fill="#b4bcaa" filter="url(#blur05)"/>
<circle cx="880.0" cy="119.8" r="2.2" fill="#b4bcaa" filter="url(#blur05)"/>
<circle cx="877.6" cy="107.9" r="1.1" fill="#b4bcaa" filter="url(#blur05)"/>
<circle cx="738.4" cy="162.1" r="13.6" fill="#bcbc98" filter="url(#blur05)"/>
<circle cx="738.6999999999999" cy="161.79999999999998" r="12.0" fill="#989870" filter="url(#blur05)"/>
<circle cx="783.3" cy="161.4" r="13.2" fill="#bcbea0" filter="url(#blur05)"/>
<circle cx="783.5999999999999" cy="161.1" r="11.6" fill="#a0a37e" filter="url(#blur05)"/>
<circle cx="775.6" cy="161.5" r="1.0" fill="#b6b994" opacity="0.7" filter="url(#blur05)"/>
<circle cx="778.5" cy="153.0" r="0.8" fill="#b6b994" opacity="0.7" filter="url(#blur05)"/>
<circle cx="780.4" cy="166.1" r="1.0" fill="#8e916c" opacity="0.7" filter="url(#blur05)"/>
<circle cx="785.7" cy="153.5" r="1.0" fill="#8e916c" opacity="0.7" filter="url(#blur05)"/>
<circle cx="787.7" cy="160.6" r="1.0" fill="#8e916c" opacity="0.7" filter="url(#blur05)"/>
<circle cx="784.8" cy="169.7" r="1.7" fill="#b6b994" opacity="0.7" filter="url(#blur05)"/>
<circle cx="780.1" cy="161.5" r="1.2" fill="#b6b994" opacity="0.7" filter="url(#blur05)"/>
<circle cx="778.3" cy="152.9" r="1.2" fill="#b6b994" opacity="0.7" filter="url(#blur05)"/>
<circle cx="785.6" cy="171.1" r="0.8" fill="#b6b994" opacity="0.7" filter="url(#blur05)"/>
<circle cx="788.2" cy="163.4" r="1.6" fill="#8e916c" opacity="0.7" filter="url(#blur05)"/>
<circle cx="782.2" cy="151.3" r="1.1" fill="#8e916c" opacity="0.7" filter="url(#blur05)"/>
<circle cx="787.1" cy="170.3" r="0.8" fill="#8e916c" opacity="0.7" filter="url(#blur05)"/>
<circle cx="780.7" cy="157.0" r="1.1" fill="#b6b994" opacity="0.7" filter="url(#blur05)"/>
<circle cx="783.4" cy="161.5" r="1.1" fill="#b6b994" opacity="0.7" filter="url(#blur05)"/>
<circle cx="785.6" cy="160.7" r="1.0" fill="#8e916c" opacity="0.7" filter="url(#blur05)"/>
<circle cx="777.8" cy="168.4" r="1.2" fill="#8e916c" opacity="0.7" filter="url(#blur05)"/>
<circle cx="835.3" cy="158.6" r="12.9" fill="#949874" filter="url(#blur05)"/>
<circle cx="843.0" cy="161.1" r="1.5" fill="#c0c4a0" filter="url(#blur05)"/>
<circle cx="839.8" cy="156.1" r="1.5" fill="#c0c4a0" filter="url(#blur05)"/>
<circle cx="836.9" cy="157.4" r="1.6" fill="#c0c4a0" filter="url(#blur05)"/>
<circle cx="839.2" cy="149.0" r="1.1" fill="#c0c4a0" filter="url(#blur05)"/>
<circle cx="838.2" cy="159.2" r="2.1" fill="#c0c4a0" filter="url(#blur05)"/>
<circle cx="834.9" cy="168.8" r="2.1" fill="#c0c4a0" filter="url(#blur05)"/>
<circle cx="832.0" cy="163.8" r="2.2" fill="#c0c4a0" filter="url(#blur05)"/>
<circle cx="830.8" cy="154.5" r="1.9" fill="#c0c4a0" filter="url(#blur05)"/>
<circle cx="832.8" cy="164.3" r="1.1" fill="#c0c4a0" filter="url(#blur05)"/>
<circle cx="835.7" cy="147.3" r="1.8" fill="#c0c4a0" filter="url(#blur05)"/>
<circle cx="837.0" cy="158.0" r="1.4" fill="#c0c4a0" filter="url(#blur05)"/>
<circle cx="823.9" cy="160.4" r="2.1" fill="#c0c4a0" filter="url(#blur05)"/>
<circle cx="830.8" cy="162.5" r="1.6" fill="#c0c4a0" filter="url(#blur05)"/>
<circle cx="823.9" cy="159.1" r="1.3" fill="#c0c4a0" filter="url(#blur05)"/>
<circle cx="838.6" cy="149.0" r="2.0" fill="#c0c4a0" filter="url(#blur05)"/>
<circle cx="836.6" cy="149.5" r="1.5" fill="#c0c4a0" filter="url(#blur05)"/>
<circle cx="832.3" cy="165.0" r="2.0" fill="#c0c4a0" filter="url(#blur05)"/>
<circle cx="839.9" cy="161.1" r="1.9" fill="#c0c4a0" filter="url(#blur05)"/>
<circle cx="835.4" cy="161.6" r="1.1" fill="#c0c4a0" filter="url(#blur05)"/>
<circle cx="828.9" cy="156.4" r="2.2" fill="#c0c4a0" filter="url(#blur05)"/>
<circle cx="844.0" cy="150.8" r="1.4" fill="#c0c4a0" filter="url(#blur05)"/>
<circle cx="838.5" cy="160.4" r="1.6" fill="#c0c4a0" filter="url(#blur05)"/>
<circle cx="833.3" cy="151.0" r="1.4" fill="#c0c4a0" filter="url(#blur05)"/>
<circle cx="827.2" cy="163.2" r="1.8" fill="#c0c4a0" filter="url(#blur05)"/>
<circle cx="835.2" cy="147.7" r="1.8" fill="#c0c4a0" filter="url(#blur05)"/>
<circle cx="843.1" cy="166.1" r="1.4" fill="#c0c4a0" filter="url(#blur05)"/>
<circle cx="828.7" cy="155.7" r="1.9" fill="#c0c4a0" filter="url(#blur05)"/>
<circle cx="837.1" cy="164.2" r="1.4" fill="#c0c4a0" filter="url(#blur05)"/>
<circle cx="841.6" cy="167.7" r="1.7" fill="#c0c4a0" filter="url(#blur05)"/>
<circle cx="831.9" cy="165.2" r="2.2" fill="#c0c4a0" filter="url(#blur05)"/>
<circle cx="829.6" cy="158.3" r="2.0" fill="#c0c4a0" filter="url(#blur05)"/>
<circle cx="828.6" cy="149.0" r="1.2" fill="#c0c4a0" filter="url(#blur05)"/>
<circle cx="824.8" cy="160.3" r="2.0" fill="#c0c4a0" filter="url(#blur05)"/>
<circle cx="837.3" cy="157.4" r="1.4" fill="#c0c4a0" filter="url(#blur05)"/>
<circle cx="839.1" cy="162.1" r="2.2" fill="#c0c4a0" filter="url(#blur05)"/>
<circle cx="825.4" cy="152.9" r="1.5" fill="#c0c4a0" filter="url(#blur05)"/>
<circle cx="840.6" cy="152.7" r="1.4" fill="#c0c4a0" filter="url(#blur05)"/>
<circle cx="837.3" cy="147.3" r="1.2" fill="#c0c4a0" filter="url(#blur05)"/>
<circle cx="827.7" cy="153.3" r="1.3" fill="#c0c4a0" filter="url(#blur05)"/>
<circle cx="832.3" cy="161.9" r="1.3" fill="#c0c4a0" filter="url(#blur05)"/>
<circle cx="835.0" cy="167.7" r="1.8" fill="#c0c4a0" filter="url(#blur05)"/>
<circle cx="835.7" cy="159.8" r="1.5" fill="#c0c4a0" filter="url(#blur05)"/>
<circle cx="833.1" cy="154.0" r="1.4" fill="#c0c4a0" filter="url(#blur05)"/>
<circle cx="838.3" cy="168.7" r="1.7" fill="#c0c4a0" filter="url(#blur05)"/>
<circle cx="838.8" cy="160.1" r="1.5" fill="#c0c4a0" filter="url(#blur05)"/>
<circle cx="826.3" cy="155.7" r="1.2" fill="#c0c4a0" filter="url(#blur05)"/>
<circle cx="840.4" cy="167.0" r="1.6" fill="#c0c4a0" filter="url(#blur05)"/>
<circle cx="833.9" cy="165.0" r="2.1" fill="#c0c4a0" filter="url(#blur05)"/>
<circle cx="831.9" cy="166.8" r="1.5" fill="#c0c4a0" filter="url(#blur05)"/>
<circle cx="825.8" cy="164.1" r="2.2" fill="#c0c4a0" filter="url(#blur05)"/>
<circle cx="831.9" cy="162.6" r="1.9" fill="#c0c4a0" filter="url(#blur05)"/>
<circle cx="835.6" cy="159.5" r="2.1" fill="#c0c4a0" filter="url(#blur05)"/>
<circle cx="825.8" cy="163.5" r="1.5" fill="#c0c4a0" filter="url(#blur05)"/>
<circle cx="841.2" cy="153.2" r="1.3" fill="#c0c4a0" filter="url(#blur05)"/>
<circle cx="844.0" cy="159.4" r="1.8" fill="#c0c4a0" filter="url(#blur05)"/>
<circle cx="838.3" cy="156.7" r="1.8" fill="#c0c4a0" filter="url(#blur05)"/>
<circle cx="829.5" cy="164.7" r="1.3" fill="#c0c4a0" filter="url(#blur05)"/>
<circle cx="833.5" cy="166.9" r="2.1" fill="#c0c4a0" filter="url(#blur05)"/>
<circle cx="841.7" cy="163.8" r="2.0" fill="#c0c4a0" filter="url(#blur05)"/>
<circle cx="840.4" cy="157.5" r="1.2" fill="#c0c4a0" filter="url(#blur05)"/>
<circle cx="878.6" cy="162.1" r="12.7" fill="#80846c" opacity="0.55" filter="url(#blur05)"/>
<circle cx="889.3" cy="158.1" r="1.6" fill="#c4c8b0" filter="url(#blur05)"/>
<circle cx="889.1" cy="165.8" r="1.5" fill="#c4c8b0" filter="url(#blur05)"/>
<circle cx="886.1" cy="156.9" r="2.0" fill="#c4c8b0" filter="url(#blur05)"/>
<circle cx="884.1" cy="170.8" r="1.3" fill="#c4c8b0" filter="url(#blur05)"/>
<circle cx="869.8" cy="168.1" r="2.0" fill="#c4c8b0" filter="url(#blur05)"/>
<circle cx="880.8" cy="167.0" r="1.5" fill="#c4c8b0" filter="url(#blur05)"/>
<circle cx="871.5" cy="161.3" r="1.2" fill="#c4c8b0" filter="url(#blur05)"/>
<circle cx="878.8" cy="172.0" r="2.1" fill="#c4c8b0" filter="url(#blur05)"/>
<circle cx="887.0" cy="164.3" r="1.9" fill="#c4c8b0" filter="url(#blur05)"/>
<circle cx="888.9" cy="164.6" r="1.2" fill="#c4c8b0" filter="url(#blur05)"/>
<circle cx="871.6" cy="157.1" r="1.8" fill="#c4c8b0" filter="url(#blur05)"/>
<circle cx="876.0" cy="169.2" r="1.7" fill="#c4c8b0" filter="url(#blur05)"/>
<circle cx="870.2" cy="166.3" r="1.6" fill="#c4c8b0" filter="url(#blur05)"/>
<circle cx="877.0" cy="162.8" r="1.8" fill="#c4c8b0" filter="url(#blur05)"/>
<circle cx="873.0" cy="162.5" r="1.9" fill="#c4c8b0" filter="url(#blur05)"/>
<circle cx="880.1" cy="154.4" r="1.3" fill="#c4c8b0" filter="url(#blur05)"/>
<circle cx="874.9" cy="162.7" r="1.2" fill="#c4c8b0" filter="url(#blur05)"/>
<circle cx="875.4" cy="163.6" r="1.6" fill="#c4c8b0" filter="url(#blur05)"/>
<circle cx="876.3" cy="162.0" r="1.8" fill="#c4c8b0" filter="url(#blur05)"/>
<circle cx="887.2" cy="167.0" r="2.0" fill="#c4c8b0" filter="url(#blur05)"/>
<circle cx="875.9" cy="161.9" r="1.7" fill="#c4c8b0" filter="url(#blur05)"/>
<circle cx="870.5" cy="170.0" r="1.2" fill="#c4c8b0" filter="url(#blur05)"/>
<circle cx="885.8" cy="153.0" r="1.9" fill="#c4c8b0" filter="url(#blur05)"/>
<circle cx="880.6" cy="157.4" r="2.2" fill="#c4c8b0" filter="url(#blur05)"/>
<circle cx="867.3" cy="162.7" r="2.1" fill="#c4c8b0" filter="url(#blur05)"/>
<circle cx="883.8" cy="171.0" r="2.1" fill="#c4c8b0" filter="url(#blur05)"/>
<circle cx="884.9" cy="164.8" r="1.9" fill="#c4c8b0" filter="url(#blur05)"/>
<circle cx="884.6" cy="171.3" r="1.4" fill="#c4c8b0" filter="url(#blur05)"/>
<circle cx="880.4" cy="158.1" r="1.7" fill="#c4c8b0" filter="url(#blur05)"/>
<circle cx="883.2" cy="159.5" r="1.4" fill="#c4c8b0" filter="url(#blur05)"/>
<circle cx="872.1" cy="161.9" r="1.1" fill="#c4c8b0" filter="url(#blur05)"/>
<circle cx="880.5" cy="166.3" r="2.1" fill="#c4c8b0" filter="url(#blur05)"/>
<circle cx="873.9" cy="152.2" r="1.3" fill="#c4c8b0" filter="url(#blur05)"/>
<circle cx="879.5" cy="158.3" r="1.7" fill="#c4c8b0" filter="url(#blur05)"/>
<circle cx="738.4" cy="213.9" r="13.9" fill="#d4d0a8" filter="url(#blur05)"/>
<circle cx="738.6999999999999" cy="213.6" r="12.3" fill="#bdb98d" filter="url(#blur05)"/>
<circle cx="785.3" cy="213.9" r="13.1" fill="#d0ceb4" filter="url(#blur05)"/>
<circle cx="785.5999999999999" cy="213.6" r="11.5" fill="#bfbd9d" filter="url(#blur05)"/>
<circle cx="782.1" cy="210.2" r="1.3" fill="#adab8b" opacity="0.7" filter="url(#blur05)"/>
<circle cx="777.2" cy="209.4" r="1.7" fill="#d5d3b3" opacity="0.7" filter="url(#blur05)"/>
<circle cx="781.7" cy="210.1" r="1.0" fill="#adab8b" opacity="0.7" filter="url(#blur05)"/>
<circle cx="792.2" cy="213.5" r="1.5" fill="#d5d3b3" opacity="0.7" filter="url(#blur05)"/>
<circle cx="782.5" cy="215.0" r="0.8" fill="#adab8b" opacity="0.7" filter="url(#blur05)"/>
<circle cx="786.9" cy="210.4" r="1.7" fill="#adab8b" opacity="0.7" filter="url(#blur05)"/>
<circle cx="778.8" cy="210.0" r="0.8" fill="#d5d3b3" opacity="0.7" filter="url(#blur05)"/>
<circle cx="787.9" cy="214.5" r="1.2" fill="#adab8b" opacity="0.7" filter="url(#blur05)"/>
<circle cx="776.0" cy="213.2" r="1.0" fill="#d5d3b3" opacity="0.7" filter="url(#blur05)"/>
<circle cx="784.9" cy="213.3" r="1.1" fill="#d5d3b3" opacity="0.7" filter="url(#blur05)"/>
<circle cx="789.2" cy="216.9" r="1.3" fill="#d5d3b3" opacity="0.7" filter="url(#blur05)"/>
<circle cx="782.5" cy="212.1" r="1.2" fill="#adab8b" opacity="0.7" filter="url(#blur05)"/>
<circle cx="791.7" cy="221.1" r="0.9" fill="#d5d3b3" opacity="0.7" filter="url(#blur05)"/>
<circle cx="791.4" cy="218.1" r="1.5" fill="#adab8b" opacity="0.7" filter="url(#blur05)"/>
<circle cx="782.1" cy="216.2" r="1.4" fill="#d5d3b3" opacity="0.7" filter="url(#blur05)"/>
<circle cx="780.8" cy="212.0" r="1.2" fill="#adab8b" opacity="0.7" filter="url(#blur05)"/>
<circle cx="836.1" cy="209.9" r="12.9" fill="#a2a28a" filter="url(#blur05)"/>
<circle cx="845.4" cy="206.0" r="1.7" fill="#ceceb6" filter="url(#blur05)"/>
<circle cx="838.1" cy="208.5" r="2.0" fill="#ceceb6" filter="url(#blur05)"/>
<circle cx="831.3" cy="213.1" r="1.5" fill="#ceceb6" filter="url(#blur05)"/>
<circle cx="836.3" cy="208.6" r="2.0" fill="#ceceb6" filter="url(#blur05)"/>
<circle cx="840.2" cy="208.3" r="1.6" fill="#ceceb6" filter="url(#blur05)"/>
<circle cx="829.6" cy="204.6" r="2.1" fill="#ceceb6" filter="url(#blur05)"/>
<circle cx="838.0" cy="205.4" r="1.7" fill="#ceceb6" filter="url(#blur05)"/>
<circle cx="835.3" cy="212.4" r="2.4" fill="#ceceb6" filter="url(#blur05)"/>
<circle cx="838.2" cy="200.1" r="1.4" fill="#ceceb6" filter="url(#blur05)"/>
<circle cx="841.8" cy="201.5" r="1.9" fill="#ceceb6" filter="url(#blur05)"/>
<circle cx="835.7" cy="202.0" r="1.6" fill="#ceceb6" filter="url(#blur05)"/>
<circle cx="840.6" cy="213.4" r="1.4" fill="#ceceb6" filter="url(#blur05)"/>
<circle cx="830.9" cy="218.7" r="2.2" fill="#ceceb6" filter="url(#blur05)"/>
<circle cx="841.7" cy="201.7" r="1.7" fill="#ceceb6" filter="url(#blur05)"/>
<circle cx="828.7" cy="207.3" r="2.3" fill="#ceceb6" filter="url(#blur05)"/>
<circle cx="830.1" cy="209.0" r="2.1" fill="#ceceb6" filter="url(#blur05)"/>
<circle cx="841.5" cy="208.7" r="2.4" fill="#ceceb6" filter="url(#blur05)"/>
<circle cx="842.1" cy="210.5" r="1.7" fill="#ceceb6" filter="url(#blur05)"/>
<circle cx="835.7" cy="198.4" r="2.2" fill="#ceceb6" filter="url(#blur05)"/>
<circle cx="831.0" cy="219.7" r="1.8" fill="#ceceb6" filter="url(#blur05)"/>
<circle cx="836.9" cy="221.1" r="2.1" fill="#ceceb6" filter="url(#blur05)"/>
<circle cx="832.7" cy="200.9" r="2.5" fill="#ceceb6" filter="url(#blur05)"/>
<circle cx="825.5" cy="212.0" r="2.2" fill="#ceceb6" filter="url(#blur05)"/>
<circle cx="841.0" cy="203.8" r="2.2" fill="#ceceb6" filter="url(#blur05)"/>
<circle cx="830.2" cy="207.1" r="1.6" fill="#ceceb6" filter="url(#blur05)"/>
<circle cx="833.7" cy="207.6" r="2.4" fill="#ceceb6" filter="url(#blur05)"/>
<circle cx="837.3" cy="211.4" r="1.5" fill="#ceceb6" filter="url(#blur05)"/>
<circle cx="842.4" cy="206.9" r="1.6" fill="#ceceb6" filter="url(#blur05)"/>
<circle cx="838.5" cy="210.3" r="2.2" fill="#ceceb6" filter="url(#blur05)"/>
<circle cx="829.5" cy="202.6" r="2.2" fill="#ceceb6" filter="url(#blur05)"/>
<circle cx="844.4" cy="213.5" r="1.8" fill="#ceceb6" filter="url(#blur05)"/>
<circle cx="840.5" cy="200.2" r="2.4" fill="#ceceb6" filter="url(#blur05)"/>
<circle cx="846.2" cy="214.3" r="2.4" fill="#ceceb6" filter="url(#blur05)"/>
<circle cx="839.7" cy="208.6" r="1.6" fill="#ceceb6" filter="url(#blur05)"/>
<circle cx="837.8" cy="211.3" r="2.3" fill="#ceceb6" filter="url(#blur05)"/>
<circle cx="839.7" cy="201.2" r="2.3" fill="#ceceb6" filter="url(#blur05)"/>
<circle cx="831.8" cy="205.2" r="1.5" fill="#ceceb6" filter="url(#blur05)"/>
<circle cx="844.5" cy="215.8" r="1.6" fill="#ceceb6" filter="url(#blur05)"/>
<circle cx="832.9" cy="216.9" r="1.4" fill="#ceceb6" filter="url(#blur05)"/>
<circle cx="835.8" cy="216.2" r="2.2" fill="#ceceb6" filter="url(#blur05)"/>
<circle cx="831.6" cy="214.8" r="2.5" fill="#ceceb6" filter="url(#blur05)"/>
<circle cx="825.2" cy="209.6" r="2.1" fill="#ceceb6" filter="url(#blur05)"/>
<circle cx="843.5" cy="211.4" r="1.9" fill="#ceceb6" filter="url(#blur05)"/>
<circle cx="837.1" cy="203.0" r="2.2" fill="#ceceb6" filter="url(#blur05)"/>
<circle cx="830.8" cy="208.6" r="2.3" fill="#ceceb6" filter="url(#blur05)"/>
<circle cx="845.1" cy="215.7" r="1.6" fill="#ceceb6" filter="url(#blur05)"/>
<circle cx="841.4" cy="209.9" r="2.2" fill="#ceceb6" filter="url(#blur05)"/>
<circle cx="836.9" cy="209.8" r="1.9" fill="#ceceb6" filter="url(#blur05)"/>
<circle cx="825.6" cy="210.5" r="1.6" fill="#ceceb6" filter="url(#blur05)"/>
<circle cx="829.2" cy="210.1" r="2.3" fill="#ceceb6" filter="url(#blur05)"/>
<circle cx="835.3" cy="221.3" r="1.7" fill="#ceceb6" filter="url(#blur05)"/>
<circle cx="838.3" cy="219.5" r="1.9" fill="#ceceb6" filter="url(#blur05)"/>
<circle cx="843.4" cy="215.9" r="1.5" fill="#ceceb6" filter="url(#blur05)"/>
<circle cx="838.4" cy="200.3" r="2.3" fill="#ceceb6" filter="url(#blur05)"/>
<circle cx="831.2" cy="204.8" r="1.8" fill="#ceceb6" filter="url(#blur05)"/>
<circle cx="827.3" cy="216.7" r="1.5" fill="#ceceb6" filter="url(#blur05)"/>
<circle cx="837.5" cy="208.7" r="1.6" fill="#ceceb6" filter="url(#blur05)"/>
<circle cx="835.2" cy="221.1" r="2.0" fill="#ceceb6" filter="url(#blur05)"/>
<circle cx="828.0" cy="217.5" r="1.7" fill="#ceceb6" filter="url(#blur05)"/>
<circle cx="827.8" cy="212.0" r="2.2" fill="#ceceb6" filter="url(#blur05)"/>
<circle cx="878.6" cy="213.9" r="12.5" fill="#8c8e78" opacity="0.55" filter="url(#blur05)"/>
<circle cx="878.8" cy="204.7" r="2.2" fill="#d0d2bc" filter="url(#blur05)"/>
<circle cx="876.5" cy="217.9" r="2.7" fill="#d0d2bc" filter="url(#blur05)"/>
<circle cx="873.4" cy="205.5" r="2.0" fill="#d0d2bc" filter="url(#blur05)"/>
<circle cx="869.3" cy="217.7" r="2.4" fill="#d0d2bc" filter="url(#blur05)"/>
<circle cx="884.0" cy="219.4" r="2.8" fill="#d0d2bc" filter="url(#blur05)"/>
<circle cx="879.0" cy="218.9" r="2.1" fill="#d0d2bc" filter="url(#blur05)"/>
<circle cx="875.6" cy="203.9" r="2.0" fill="#d0d2bc" filter="url(#blur05)"/>
<circle cx="881.8" cy="218.6" r="2.2" fill="#d0d2bc" filter="url(#blur05)"/>
<circle cx="874.1" cy="213.3" r="2.2" fill="#d0d2bc" filter="url(#blur05)"/>
<circle cx="882.8" cy="224.3" r="2.6" fill="#d0d2bc" filter="url(#blur05)"/>
<circle cx="887.6" cy="220.6" r="1.9" fill="#d0d2bc" filter="url(#blur05)"/>
<circle cx="870.2" cy="221.4" r="2.7" fill="#d0d2bc" filter="url(#blur05)"/>
<circle cx="877.8" cy="206.4" r="2.0" fill="#d0d2bc" filter="url(#blur05)"/>
<circle cx="876.2" cy="211.1" r="2.0" fill="#d0d2bc" filter="url(#blur05)"/>
<circle cx="877.0" cy="215.3" r="2.2" fill="#d0d2bc" filter="url(#blur05)"/>
<circle cx="881.0" cy="204.7" r="2.4" fill="#d0d2bc" filter="url(#blur05)"/>
<circle cx="873.4" cy="208.2" r="2.0" fill="#d0d2bc" filter="url(#blur05)"/>
<circle cx="872.8" cy="209.5" r="2.6" fill="#d0d2bc" filter="url(#blur05)"/>
<circle cx="884.9" cy="209.8" r="2.4" fill="#d0d2bc" filter="url(#blur05)"/>
<circle cx="878.6" cy="206.5" r="2.1" fill="#d0d2bc" filter="url(#blur05)"/>
<circle cx="876.7" cy="203.4" r="2.7" fill="#d0d2bc" filter="url(#blur05)"/>
<circle cx="875.4" cy="203.9" r="2.5" fill="#d0d2bc" filter="url(#blur05)"/>
<circle cx="873.8" cy="207.9" r="2.1" fill="#d0d2bc" filter="url(#blur05)"/>
<circle cx="876.1" cy="211.3" r="2.3" fill="#d0d2bc" filter="url(#blur05)"/>
<circle cx="880.5" cy="204.5" r="2.5" fill="#d0d2bc" filter="url(#blur05)"/>
<circle cx="878.6" cy="221.3" r="2.3" fill="#d0d2bc" filter="url(#blur05)"/>
<circle cx="873.3" cy="208.9" r="2.5" fill="#d0d2bc" filter="url(#blur05)"/>
<circle cx="883.0" cy="211.8" r="2.5" fill="#d0d2bc" filter="url(#blur05)"/>
<circle cx="879.9" cy="206.9" r="2.3" fill="#d0d2bc" filter="url(#blur05)"/>
<circle cx="880.8" cy="213.5" r="2.4" fill="#d0d2bc" filter="url(#blur05)"/>
<circle cx="884.0" cy="222.4" r="2.8" fill="#d0d2bc" filter="url(#blur05)"/>
<circle cx="875.0" cy="213.5" r="2.4" fill="#d0d2bc" filter="url(#blur05)"/>
<circle cx="869.3" cy="211.4" r="2.4" fill="#d0d2bc" filter="url(#blur05)"/>
<circle cx="871.9" cy="205.9" r="2.4" fill="#d0d2bc" filter="url(#blur05)"/>
<circle cx="734.9" cy="256.4" r="14.4" fill="#e2deb0" filter="url(#blur05)"/>
<circle cx="735.1999999999999" cy="256.09999999999997" r="12.8" fill="#cfcb98" filter="url(#blur05)"/>
<circle cx="784.1" cy="255.6" r="13.4" fill="#e0dcc0" filter="url(#blur05)"/>
<circle cx="784.4" cy="255.29999999999998" r="11.8" fill="#d5d0ac" filter="url(#blur05)"/>
<circle cx="775.6" cy="260.9" r="1.4" fill="#ebe6c2" opacity="0.7" filter="url(#blur05)"/>
<circle cx="777.4" cy="261.0" r="1.7" fill="#ebe6c2" opacity="0.7" filter="url(#blur05)"/>
<circle cx="783.2" cy="256.7" r="1.2" fill="#ebe6c2" opacity="0.7" filter="url(#blur05)"/>
<circle cx="789.7" cy="256.1" r="1.4" fill="#ebe6c2" opacity="0.7" filter="url(#blur05)"/>
<circle cx="781.6" cy="258.9" r="1.5" fill="#ebe6c2" opacity="0.7" filter="url(#blur05)"/>
<circle cx="790.3" cy="253.2" r="1.5" fill="#ebe6c2" opacity="0.7" filter="url(#blur05)"/>
<circle cx="781.4" cy="257.8" r="1.5" fill="#ebe6c2" opacity="0.7" filter="url(#blur05)"/>
<circle cx="786.9" cy="248.6" r="1.3" fill="#ebe6c2" opacity="0.7" filter="url(#blur05)"/>
<circle cx="785.6" cy="265.6" r="1.4" fill="#ebe6c2" opacity="0.7" filter="url(#blur05)"/>
<circle cx="787.9" cy="247.4" r="1.1" fill="#ebe6c2" opacity="0.7" filter="url(#blur05)"/>
<circle cx="781.8" cy="254.9" r="1.1" fill="#c3be9a" opacity="0.7" filter="url(#blur05)"/>
<circle cx="786.5" cy="252.3" r="1.0" fill="#ebe6c2" opacity="0.7" filter="url(#blur05)"/>
<circle cx="781.2" cy="257.0" r="1.4" fill="#ebe6c2" opacity="0.7" filter="url(#blur05)"/>
<circle cx="783.3" cy="259.4" r="1.2" fill="#ebe6c2" opacity="0.7" filter="url(#blur05)"/>
<circle cx="777.3" cy="258.9" r="1.1" fill="#c3be9a" opacity="0.7" filter="url(#blur05)"/>
<circle cx="792.5" cy="251.6" r="1.5" fill="#ebe6c2" opacity="0.7" filter="url(#blur05)"/>
<circle cx="833.7" cy="252.8" r="12.9" fill="#aaaa8c" filter="url(#blur05)"/>
<circle cx="842.4" cy="247.0" r="1.6" fill="#d6d6b8" filter="url(#blur05)"/>
<circle cx="838.3" cy="244.6" r="1.4" fill="#d6d6b8" filter="url(#blur05)"/>
<circle cx="845.2" cy="253.6" r="2.1" fill="#d6d6b8" filter="url(#blur05)"/>
<circle cx="833.7" cy="256.6" r="1.6" fill="#d6d6b8" filter="url(#blur05)"/>
<circle cx="834.8" cy="263.1" r="1.8" fill="#d6d6b8" filter="url(#blur05)"/>
<circle cx="840.1" cy="262.0" r="2.3" fill="#d6d6b8" filter="url(#blur05)"/>
<circle cx="839.2" cy="262.5" r="2.1" fill="#d6d6b8" filter="url(#blur05)"/>
<circle cx="835.6" cy="243.3" r="2.4" fill="#d6d6b8" filter="url(#blur05)"/>
<circle cx="836.3" cy="242.3" r="1.6" fill="#d6d6b8" filter="url(#blur05)"/>
<circle cx="830.7" cy="244.8" r="2.2" fill="#d6d6b8" filter="url(#blur05)"/>
<circle cx="823.4" cy="257.0" r="2.0" fill="#d6d6b8" filter="url(#blur05)"/>
<circle cx="833.2" cy="258.5" r="1.6" fill="#d6d6b8" filter="url(#blur05)"/>
<circle cx="830.8" cy="252.9" r="1.9" fill="#d6d6b8" filter="url(#blur05)"/>
<circle cx="838.8" cy="259.3" r="1.9" fill="#d6d6b8" filter="url(#blur05)"/>
<circle cx="823.1" cy="250.1" r="1.4" fill="#d6d6b8" filter="url(#blur05)"/>
<circle cx="838.1" cy="246.0" r="2.0" fill="#d6d6b8" filter="url(#blur05)"/>
<circle cx="828.2" cy="243.5" r="1.8" fill="#d6d6b8" filter="url(#blur05)"/>
<circle cx="823.6" cy="258.4" r="1.5" fill="#d6d6b8" filter="url(#blur05)"/>
<circle cx="827.6" cy="245.7" r="1.4" fill="#d6d6b8" filter="url(#blur05)"/>
<circle cx="826.2" cy="246.6" r="2.4" fill="#d6d6b8" filter="url(#blur05)"/>
<circle cx="828.0" cy="263.0" r="2.0" fill="#d6d6b8" filter="url(#blur05)"/>
<circle cx="822.6" cy="253.9" r="1.4" fill="#d6d6b8" filter="url(#blur05)"/>
<circle cx="831.8" cy="243.7" r="1.8" fill="#d6d6b8" filter="url(#blur05)"/>
<circle cx="838.3" cy="247.3" r="1.9" fill="#d6d6b8" filter="url(#blur05)"/>
<circle cx="823.5" cy="251.1" r="1.6" fill="#d6d6b8" filter="url(#blur05)"/>
<circle cx="826.7" cy="255.8" r="2.0" fill="#d6d6b8" filter="url(#blur05)"/>
<circle cx="836.7" cy="247.1" r="2.3" fill="#d6d6b8" filter="url(#blur05)"/>
<circle cx="826.8" cy="257.6" r="1.7" fill="#d6d6b8" filter="url(#blur05)"/>
<circle cx="822.1" cy="252.3" r="2.1" fill="#d6d6b8" filter="url(#blur05)"/>
<circle cx="835.5" cy="246.2" r="1.7" fill="#d6d6b8" filter="url(#blur05)"/>
<circle cx="830.9" cy="261.4" r="2.1" fill="#d6d6b8" filter="url(#blur05)"/>
<circle cx="834.2" cy="250.5" r="2.2" fill="#d6d6b8" filter="url(#blur05)"/>
<circle cx="840.3" cy="247.1" r="1.5" fill="#d6d6b8" filter="url(#blur05)"/>
<circle cx="833.4" cy="253.7" r="1.6" fill="#d6d6b8" filter="url(#blur05)"/>
<circle cx="841.8" cy="248.4" r="2.1" fill="#d6d6b8" filter="url(#blur05)"/>
<circle cx="836.4" cy="241.9" r="2.1" fill="#d6d6b8" filter="url(#blur05)"/>
<circle cx="826.8" cy="246.5" r="2.2" fill="#d6d6b8" filter="url(#blur05)"/>
<circle cx="825.7" cy="247.3" r="1.6" fill="#d6d6b8" filter="url(#blur05)"/>
<circle cx="829.7" cy="245.9" r="2.2" fill="#d6d6b8" filter="url(#blur05)"/>
<circle cx="837.7" cy="255.8" r="1.4" fill="#d6d6b8" filter="url(#blur05)"/>
<circle cx="835.4" cy="241.7" r="2.1" fill="#d6d6b8" filter="url(#blur05)"/>
<circle cx="826.4" cy="260.7" r="2.3" fill="#d6d6b8" filter="url(#blur05)"/>
<circle cx="828.2" cy="250.5" r="1.7" fill="#d6d6b8" filter="url(#blur05)"/>
<circle cx="827.8" cy="255.9" r="1.9" fill="#d6d6b8" filter="url(#blur05)"/>
<circle cx="826.5" cy="243.9" r="1.5" fill="#d6d6b8" filter="url(#blur05)"/>
<circle cx="831.6" cy="251.8" r="1.5" fill="#d6d6b8" filter="url(#blur05)"/>
<circle cx="837.0" cy="244.5" r="2.4" fill="#d6d6b8" filter="url(#blur05)"/>
<circle cx="832.4" cy="253.3" r="1.8" fill="#d6d6b8" filter="url(#blur05)"/>
<circle cx="824.1" cy="246.6" r="2.5" fill="#d6d6b8" filter="url(#blur05)"/>
<circle cx="826.2" cy="254.0" r="1.5" fill="#d6d6b8" filter="url(#blur05)"/>
<circle cx="830.4" cy="248.5" r="1.6" fill="#d6d6b8" filter="url(#blur05)"/>
<circle cx="834.5" cy="252.9" r="2.2" fill="#d6d6b8" filter="url(#blur05)"/>
<circle cx="842.1" cy="260.8" r="1.5" fill="#d6d6b8" filter="url(#blur05)"/>
<circle cx="836.6" cy="249.7" r="1.4" fill="#d6d6b8" filter="url(#blur05)"/>
<circle cx="832.6" cy="247.1" r="2.2" fill="#d6d6b8" filter="url(#blur05)"/>
<circle cx="834.7" cy="255.2" r="2.3" fill="#d6d6b8" filter="url(#blur05)"/>
<circle cx="831.2" cy="242.2" r="2.2" fill="#d6d6b8" filter="url(#blur05)"/>
<circle cx="841.8" cy="257.5" r="2.2" fill="#d6d6b8" filter="url(#blur05)"/>
<circle cx="822.7" cy="255.6" r="1.7" fill="#d6d6b8" filter="url(#blur05)"/>
<circle cx="843.4" cy="250.6" r="1.4" fill="#d6d6b8" filter="url(#blur05)"/>
<circle cx="878.6" cy="255.6" r="12.5" fill="#949680" opacity="0.55" filter="url(#blur05)"/>
<circle cx="887.8" cy="256.4" r="2.7" fill="#d8dac4" filter="url(#blur05)"/>
<circle cx="884.2" cy="258.7" r="2.6" fill="#d8dac4" filter="url(#blur05)"/>
<circle cx="883.9" cy="264.7" r="2.3" fill="#d8dac4" filter="url(#blur05)"/>
<circle cx="885.0" cy="258.1" r="2.4" fill="#d8dac4" filter="url(#blur05)"/>
<circle cx="869.9" cy="259.1" r="2.0" fill="#d8dac4" filter="url(#blur05)"/>
<circle cx="880.6" cy="249.0" r="2.5" fill="#d8dac4" filter="url(#blur05)"/>
<circle cx="873.5" cy="250.2" r="2.2" fill="#d8dac4" filter="url(#blur05)"/>
<circle cx="881.1" cy="244.8" r="2.7" fill="#d8dac4" filter="url(#blur05)"/>
<circle cx="873.0" cy="253.1" r="1.9" fill="#d8dac4" filter="url(#blur05)"/>
<circle cx="888.0" cy="254.0" r="2.7" fill="#d8dac4" filter="url(#blur05)"/>
<circle cx="874.2" cy="263.3" r="2.9" fill="#d8dac4" filter="url(#blur05)"/>
<circle cx="882.9" cy="247.9" r="2.1" fill="#d8dac4" filter="url(#blur05)"/>
<circle cx="868.9" cy="260.3" r="2.2" fill="#d8dac4" filter="url(#blur05)"/>
<circle cx="875.1" cy="247.5" r="2.8" fill="#d8dac4" filter="url(#blur05)"/>
<circle cx="880.7" cy="249.9" r="1.8" fill="#d8dac4" filter="url(#blur05)"/>
<circle cx="878.0" cy="263.0" r="2.4" fill="#d8dac4" filter="url(#blur05)"/>
<circle cx="882.9" cy="245.8" r="1.8" fill="#d8dac4" filter="url(#blur05)"/>
<circle cx="883.7" cy="246.7" r="2.8" fill="#d8dac4" filter="url(#blur05)"/>
<circle cx="873.2" cy="253.0" r="2.7" fill="#d8dac4" filter="url(#blur05)"/>
<circle cx="881.9" cy="246.8" r="2.8" fill="#d8dac4" filter="url(#blur05)"/>
<circle cx="876.7" cy="258.3" r="2.4" fill="#d8dac4" filter="url(#blur05)"/>
<circle cx="880.1" cy="250.7" r="2.6" fill="#d8dac4" filter="url(#blur05)"/>
<circle cx="883.6" cy="253.3" r="2.5" fill="#d8dac4" filter="url(#blur05)"/>
<circle cx="875.2" cy="248.6" r="2.0" fill="#d8dac4" filter="url(#blur05)"/>
<circle cx="878.3" cy="265.5" r="2.7" fill="#d8dac4" filter="url(#blur05)"/>
<circle cx="875.3" cy="256.4" r="2.7" fill="#d8dac4" filter="url(#blur05)"/>
<circle cx="879.4" cy="250.2" r="2.4" fill="#d8dac4" filter="url(#blur05)"/>
<circle cx="887.2" cy="249.1" r="2.4" fill="#d8dac4" filter="url(#blur05)"/>
<circle cx="869.9" cy="256.9" r="2.0" fill="#d8dac4" filter="url(#blur05)"/>
<circle cx="880.3" cy="260.1" r="2.6" fill="#d8dac4" filter="url(#blur05)"/>
<circle cx="873.0" cy="262.1" r="2.2" fill="#d8dac4" filter="url(#blur05)"/>
<circle cx="874.2" cy="255.1" r="1.8" fill="#d8dac4" filter="url(#blur05)"/>
<circle cx="885.6" cy="255.5" r="1.9" fill="#d8dac4" filter="url(#blur05)"/>
<circle cx="871.8" cy="248.1" r="2.0" fill="#d8dac4" filter="url(#blur05)"/>
<circle cx="737.1" cy="300.1" r="14.3" fill="#fbf8d0" filter="url(#blur05)"/>
<circle cx="737.4" cy="299.8" r="12.700000000000001" fill="#faf7c2" filter="url(#blur05)"/>
<circle cx="785.3" cy="300.1" r="13.7" fill="#faf7d2" filter="url(#blur05)"/>
<circle cx="785.5999999999999" cy="299.8" r="12.1" fill="#f8f5c8" filter="url(#blur05)"/>
<circle cx="833.7" cy="297.2" r="13.2" fill="#d4d2b8" filter="url(#blur05)"/>
<circle cx="827.9" cy="293.1" r="2.0" fill="#fffee4" filter="url(#blur05)"/>
<circle cx="835.9" cy="297.5" r="2.5" fill="#fffee4" filter="url(#blur05)"/>
<circle cx="839.3" cy="290.9" r="2.0" fill="#fffee4" filter="url(#blur05)"/>
<circle cx="832.9" cy="307.9" r="1.9" fill="#fffee4" filter="url(#blur05)"/>
<circle cx="843.7" cy="293.7" r="2.3" fill="#fffee4" filter="url(#blur05)"/>
<circle cx="839.6" cy="295.8" r="1.4" fill="#fffee4" filter="url(#blur05)"/>
<circle cx="835.3" cy="302.1" r="1.5" fill="#fffee4" filter="url(#blur05)"/>
<circle cx="842.3" cy="300.0" r="2.4" fill="#fffee4" filter="url(#blur05)"/>
<circle cx="822.3" cy="300.3" r="2.4" fill="#fffee4" filter="url(#blur05)"/>
<circle cx="842.3" cy="300.9" r="1.8" fill="#fffee4" filter="url(#blur05)"/>
<circle cx="842.3" cy="305.3" r="1.7" fill="#fffee4" filter="url(#blur05)"/>
<circle cx="824.8" cy="293.4" r="2.5" fill="#fffee4" filter="url(#blur05)"/>
<circle cx="830.0" cy="290.6" r="1.9" fill="#fffee4" filter="url(#blur05)"/>
<circle cx="840.1" cy="307.2" r="2.5" fill="#fffee4" filter="url(#blur05)"/>
<circle cx="834.1" cy="299.5" r="1.7" fill="#fffee4" filter="url(#blur05)"/>
<circle cx="826.8" cy="306.4" r="2.4" fill="#fffee4" filter="url(#blur05)"/>
<circle cx="835.1" cy="295.0" r="2.3" fill="#fffee4" filter="url(#blur05)"/>
<circle cx="831.3" cy="287.8" r="2.5" fill="#fffee4" filter="url(#blur05)"/>
<circle cx="838.0" cy="298.8" r="2.2" fill="#fffee4" filter="url(#blur05)"/>
<circle cx="842.9" cy="293.5" r="1.7" fill="#fffee4" filter="url(#blur05)"/>
<circle cx="824.9" cy="291.5" r="1.5" fill="#fffee4" filter="url(#blur05)"/>
<circle cx="831.0" cy="302.7" r="1.5" fill="#fffee4" filter="url(#blur05)"/>
<circle cx="828.8" cy="297.8" r="1.7" fill="#fffee4" filter="url(#blur05)"/>
<circle cx="839.9" cy="305.0" r="1.4" fill="#fffee4" filter="url(#blur05)"/>
<circle cx="832.6" cy="292.0" r="1.4" fill="#fffee4" filter="url(#blur05)"/>
<circle cx="838.8" cy="294.7" r="2.4" fill="#fffee4" filter="url(#blur05)"/>
<circle cx="841.3" cy="288.7" r="1.6" fill="#fffee4" filter="url(#blur05)"/>
<circle cx="830.1" cy="298.4" r="2.4" fill="#fffee4" filter="url(#blur05)"/>
<circle cx="839.0" cy="289.2" r="1.9" fill="#fffee4" filter="url(#blur05)"/>
<circle cx="827.8" cy="306.5" r="1.9" fill="#fffee4" filter="url(#blur05)"/>
<circle cx="830.5" cy="293.9" r="1.6" fill="#fffee4" filter="url(#blur05)"/>
<circle cx="843.3" cy="300.8" r="2.0" fill="#fffee4" filter="url(#blur05)"/>
<circle cx="840.6" cy="306.1" r="1.7" fill="#fffee4" filter="url(#blur05)"/>
<circle cx="829.6" cy="299.7" r="1.7" fill="#fffee4" filter="url(#blur05)"/>
<circle cx="837.4" cy="291.3" r="1.6" fill="#fffee4" filter="url(#blur05)"/>
<circle cx="826.9" cy="297.6" r="2.4" fill="#fffee4" filter="url(#blur05)"/>
<circle cx="842.7" cy="305.1" r="1.5" fill="#fffee4" filter="url(#blur05)"/>
<circle cx="841.5" cy="291.1" r="1.6" fill="#fffee4" filter="url(#blur05)"/>
<circle cx="827.3" cy="298.1" r="1.7" fill="#fffee4" filter="url(#blur05)"/>
<circle cx="835.9" cy="304.2" r="2.5" fill="#fffee4" filter="url(#blur05)"/>
<circle cx="845.3" cy="297.1" r="1.5" fill="#fffee4" filter="url(#blur05)"/>
<circle cx="830.9" cy="308.3" r="1.5" fill="#fffee4" filter="url(#blur05)"/>
<circle cx="832.7" cy="290.7" r="2.5" fill="#fffee4" filter="url(#blur05)"/>
<circle cx="844.5" cy="298.3" r="1.8" fill="#fffee4" filter="url(#blur05)"/>
<circle cx="834.0" cy="297.6" r="2.3" fill="#fffee4" filter="url(#blur05)"/>
<circle cx="828.6" cy="296.3" r="1.9" fill="#fffee4" filter="url(#blur05)"/>
<circle cx="838.5" cy="294.2" r="2.0" fill="#fffee4" filter="url(#blur05)"/>
<circle cx="837.0" cy="301.1" r="2.2" fill="#fffee4" filter="url(#blur05)"/>
<circle cx="832.4" cy="292.0" r="1.5" fill="#fffee4" filter="url(#blur05)"/>
<circle cx="841.8" cy="302.1" r="1.9" fill="#fffee4" filter="url(#blur05)"/>
<circle cx="832.9" cy="302.6" r="2.1" fill="#fffee4" filter="url(#blur05)"/>
<circle cx="830.8" cy="286.7" r="2.0" fill="#fffee4" filter="url(#blur05)"/>
<circle cx="834.6" cy="300.2" r="2.2" fill="#fffee4" filter="url(#blur05)"/>
<circle cx="825.1" cy="302.8" r="1.5" fill="#fffee4" filter="url(#blur05)"/>
<circle cx="836.3" cy="290.7" r="2.3" fill="#fffee4" filter="url(#blur05)"/>
<circle cx="839.3" cy="290.8" r="1.4" fill="#fffee4" filter="url(#blur05)"/>
<circle cx="840.8" cy="292.7" r="2.4" fill="#fffee4" filter="url(#blur05)"/>
<circle cx="833.2" cy="302.4" r="2.3" fill="#fffee4" filter="url(#blur05)"/>
<circle cx="830.4" cy="300.8" r="1.8" fill="#fffee4" filter="url(#blur05)"/>
<circle cx="833.0" cy="296.7" r="2.0" fill="#fffee4" filter="url(#blur05)"/>
<circle cx="879" cy="299.8" r="12.8" fill="#b4b49e" opacity="0.55" filter="url(#blur05)"/>
<circle cx="871.1" cy="302.6" r="1.9" fill="#f8f8e2" filter="url(#blur05)"/>
<circle cx="876.7" cy="289.5" r="2.8" fill="#f8f8e2" filter="url(#blur05)"/>
<circle cx="874.7" cy="308.7" r="2.2" fill="#f8f8e2" filter="url(#blur05)"/>
<circle cx="879.0" cy="296.9" r="2.8" fill="#f8f8e2" filter="url(#blur05)"/>
<circle cx="886.9" cy="297.5" r="2.4" fill="#f8f8e2" filter="url(#blur05)"/>
<circle cx="870.6" cy="298.2" r="1.8" fill="#f8f8e2" filter="url(#blur05)"/>
<circle cx="884.4" cy="298.7" r="2.0" fill="#f8f8e2" filter="url(#blur05)"/>
<circle cx="883.7" cy="303.3" r="2.7" fill="#f8f8e2" filter="url(#blur05)"/>
<circle cx="882.6" cy="300.5" r="2.6" fill="#f8f8e2" filter="url(#blur05)"/>
<circle cx="879.5" cy="301.3" r="2.5" fill="#f8f8e2" filter="url(#blur05)"/>
<circle cx="871.5" cy="295.9" r="2.6" fill="#f8f8e2" filter="url(#blur05)"/>
<circle cx="887.7" cy="306.4" r="2.6" fill="#f8f8e2" filter="url(#blur05)"/>
<circle cx="882.9" cy="300.9" r="2.3" fill="#f8f8e2" filter="url(#blur05)"/>
<circle cx="872.8" cy="299.8" r="1.9" fill="#f8f8e2" filter="url(#blur05)"/>
<circle cx="875.4" cy="302.2" r="2.5" fill="#f8f8e2" filter="url(#blur05)"/>
<circle cx="881.9" cy="296.4" r="2.4" fill="#f8f8e2" filter="url(#blur05)"/>
<circle cx="878.9" cy="295.1" r="2.7" fill="#f8f8e2" filter="url(#blur05)"/>
<circle cx="885.7" cy="297.0" r="2.3" fill="#f8f8e2" filter="url(#blur05)"/>
<circle cx="883.5" cy="292.6" r="2.2" fill="#f8f8e2" filter="url(#blur05)"/>
<circle cx="888.6" cy="296.1" r="2.2" fill="#f8f8e2" filter="url(#blur05)"/>
<circle cx="879.4" cy="306.6" r="2.3" fill="#f8f8e2" filter="url(#blur05)"/>
<circle cx="889.4" cy="298.6" r="2.8" fill="#f8f8e2" filter="url(#blur05)"/>
<circle cx="883.3" cy="289.9" r="1.9" fill="#f8f8e2" filter="url(#blur05)"/>
<circle cx="867.6" cy="298.6" r="2.8" fill="#f8f8e2" filter="url(#blur05)"/>
<circle cx="879.0" cy="307.4" r="2.5" fill="#f8f8e2" filter="url(#blur05)"/>
<circle cx="873.4" cy="306.2" r="1.9" fill="#f8f8e2" filter="url(#blur05)"/>
<circle cx="871.4" cy="303.2" r="1.8" fill="#f8f8e2" filter="url(#blur05)"/>
<circle cx="886.4" cy="308.6" r="2.7" fill="#f8f8e2" filter="url(#blur05)"/>
<circle cx="887.6" cy="296.2" r="2.7" fill="#f8f8e2" filter="url(#blur05)"/>
<circle cx="887.2" cy="292.5" r="1.8" fill="#f8f8e2" filter="url(#blur05)"/>
<circle cx="875.2" cy="295.1" r="2.5" fill="#f8f8e2" filter="url(#blur05)"/>
<circle cx="877.7" cy="308.3" r="2.8" fill="#f8f8e2" filter="url(#blur05)"/>
<circle cx="874.8" cy="295.8" r="2.4" fill="#f8f8e2" filter="url(#blur05)"/>
<circle cx="868.6" cy="304.4" r="2.1" fill="#f8f8e2" filter="url(#blur05)"/>
</g>
<line x1="910.8" y1="40.2" x2="910.8" y2="325.5" stroke="#3c3c3c" stroke-width="1.3"/>
<line x1="907.5" y1="40.2" x2="914" y2="40.2" stroke="#3c3c3c" stroke-width="1.2"/>
<line x1="907.5" y1="87.6" x2="914" y2="87.6" stroke="#3c3c3c" stroke-width="1.2"/>
<line x1="907.5" y1="135.5" x2="914" y2="135.5" stroke="#3c3c3c" stroke-width="1.2"/>
<line x1="907.5" y1="183.2" x2="914" y2="183.2" stroke="#3c3c3c" stroke-width="1.2"/>
<line x1="907.5" y1="231.3" x2="914" y2="231.3" stroke="#3c3c3c" stroke-width="1.2"/>
<line x1="907.5" y1="278.7" x2="914" y2="278.7" stroke="#3c3c3c" stroke-width="1.2"/>
<line x1="907.5" y1="325.3" x2="914" y2="325.3" stroke="#3c3c3c" stroke-width="1.2"/>
<line x1="912" y1="87.6" x2="1263.5" y2="87.6" stroke="#b8b8b8" stroke-width="0.9" stroke-dasharray="1.5,1.2"/>
<line x1="912" y1="135.5" x2="1263.5" y2="135.5" stroke="#b8b8b8" stroke-width="0.9" stroke-dasharray="1.5,1.2"/>
<line x1="912" y1="183.2" x2="1263.5" y2="183.2" stroke="#b8b8b8" stroke-width="0.9" stroke-dasharray="1.5,1.2"/>
<line x1="912" y1="231.3" x2="1263.5" y2="231.3" stroke="#b8b8b8" stroke-width="0.9" stroke-dasharray="1.5,1.2"/>
<line x1="912" y1="278.7" x2="1263.5" y2="278.7" stroke="#b8b8b8" stroke-width="0.9" stroke-dasharray="1.5,1.2"/>
<line x1="910.6" y1="325.3" x2="1263" y2="325.3" stroke="#3c3c3c" stroke-width="1.3"/>
<line x1="910.6" y1="325.3" x2="910.6" y2="331" stroke="#3c3c3c" stroke-width="1.2"/>
<text x="910.6" y="350" font-size="16" text-anchor="middle" fill="#231f20" stroke="#231f20" stroke-width="0.28">0</text>
<line x1="922.3" y1="325.3" x2="922.3" y2="328.3" stroke="#3c3c3c" stroke-width="1"/>
<line x1="934.1" y1="325.3" x2="934.1" y2="328.3" stroke="#3c3c3c" stroke-width="1"/>
<line x1="945.8" y1="325.3" x2="945.8" y2="328.3" stroke="#3c3c3c" stroke-width="1"/>
<line x1="957.5" y1="325.3" x2="957.5" y2="328.3" stroke="#3c3c3c" stroke-width="1"/>
<line x1="969.3" y1="325.3" x2="969.3" y2="331" stroke="#3c3c3c" stroke-width="1.2"/>
<text x="969.3" y="350" font-size="16" text-anchor="middle" fill="#231f20" stroke="#231f20" stroke-width="0.28">1</text>
<line x1="981.0" y1="325.3" x2="981.0" y2="328.3" stroke="#3c3c3c" stroke-width="1"/>
<line x1="992.7" y1="325.3" x2="992.7" y2="328.3" stroke="#3c3c3c" stroke-width="1"/>
<line x1="1004.5" y1="325.3" x2="1004.5" y2="328.3" stroke="#3c3c3c" stroke-width="1"/>
<line x1="1016.2" y1="325.3" x2="1016.2" y2="328.3" stroke="#3c3c3c" stroke-width="1"/>
<line x1="1027.9" y1="325.3" x2="1027.9" y2="331" stroke="#3c3c3c" stroke-width="1.2"/>
<text x="1027.9" y="350" font-size="16" text-anchor="middle" fill="#231f20" stroke="#231f20" stroke-width="0.28">2</text>
<line x1="1039.7" y1="325.3" x2="1039.7" y2="328.3" stroke="#3c3c3c" stroke-width="1"/>
<line x1="1051.4" y1="325.3" x2="1051.4" y2="328.3" stroke="#3c3c3c" stroke-width="1"/>
<line x1="1063.1" y1="325.3" x2="1063.1" y2="328.3" stroke="#3c3c3c" stroke-width="1"/>
<line x1="1074.9" y1="325.3" x2="1074.9" y2="328.3" stroke="#3c3c3c" stroke-width="1"/>
<line x1="1086.6" y1="325.3" x2="1086.6" y2="331" stroke="#3c3c3c" stroke-width="1.2"/>
<text x="1086.6" y="350" font-size="16" text-anchor="middle" fill="#231f20" stroke="#231f20" stroke-width="0.28">3</text>
<line x1="1098.3" y1="325.3" x2="1098.3" y2="328.3" stroke="#3c3c3c" stroke-width="1"/>
<line x1="1110.1" y1="325.3" x2="1110.1" y2="328.3" stroke="#3c3c3c" stroke-width="1"/>
<line x1="1121.8" y1="325.3" x2="1121.8" y2="328.3" stroke="#3c3c3c" stroke-width="1"/>
<line x1="1133.5" y1="325.3" x2="1133.5" y2="328.3" stroke="#3c3c3c" stroke-width="1"/>
<line x1="1145.3" y1="325.3" x2="1145.3" y2="331" stroke="#3c3c3c" stroke-width="1.2"/>
<text x="1145.3" y="350" font-size="16" text-anchor="middle" fill="#231f20" stroke="#231f20" stroke-width="0.28">4</text>
<line x1="1157.0" y1="325.3" x2="1157.0" y2="328.3" stroke="#3c3c3c" stroke-width="1"/>
<line x1="1168.7" y1="325.3" x2="1168.7" y2="328.3" stroke="#3c3c3c" stroke-width="1"/>
<line x1="1180.5" y1="325.3" x2="1180.5" y2="328.3" stroke="#3c3c3c" stroke-width="1"/>
<line x1="1192.2" y1="325.3" x2="1192.2" y2="328.3" stroke="#3c3c3c" stroke-width="1"/>
<line x1="1204.0" y1="325.3" x2="1204.0" y2="331" stroke="#3c3c3c" stroke-width="1.2"/>
<text x="1204.0" y="350" font-size="16" text-anchor="middle" fill="#231f20" stroke="#231f20" stroke-width="0.28">5</text>
<line x1="1215.7" y1="325.3" x2="1215.7" y2="328.3" stroke="#3c3c3c" stroke-width="1"/>
<line x1="1227.4" y1="325.3" x2="1227.4" y2="328.3" stroke="#3c3c3c" stroke-width="1"/>
<line x1="1239.2" y1="325.3" x2="1239.2" y2="328.3" stroke="#3c3c3c" stroke-width="1"/>
<line x1="1250.9" y1="325.3" x2="1250.9" y2="328.3" stroke="#3c3c3c" stroke-width="1"/>
<line x1="1262.6" y1="325.3" x2="1262.6" y2="331" stroke="#3c3c3c" stroke-width="1.2"/>
<text x="1262.6" y="350" font-size="16" text-anchor="middle" fill="#231f20" stroke="#231f20" stroke-width="0.28">6</text>
<text x="1087.5" y="368" font-size="16.6" text-anchor="middle" fill="#231f20" stroke="#231f20" stroke-width="0.28">Fold change of PDV productivity</text>
<rect x="911" y="51.8" width="280.6" height="24.7" fill="#e4332d" stroke="#2a1210" stroke-width="1.2"/>
<line x1="1141.3" y1="64.2" x2="1241.7" y2="64.2" stroke="#1a1a1a" stroke-width="1.3"/>
<line x1="1141.3" y1="61.2" x2="1141.3" y2="67.2" stroke="#1a1a1a" stroke-width="1.3"/>
<line x1="1241.7" y1="61.2" x2="1241.7" y2="67.2" stroke="#1a1a1a" stroke-width="1.3"/>
<text x="704.2" y="74.4" font-size="16.4" text-anchor="end" fill="#231f20" stroke="#231f20" stroke-width="0.28">yWJS321</text>
<rect x="911" y="99.8" width="263.8" height="24.1" fill="#e4332d" stroke="#2a1210" stroke-width="1.2"/>
<line x1="1150.7" y1="111.8" x2="1197.8" y2="111.8" stroke="#1a1a1a" stroke-width="1.3"/>
<line x1="1150.7" y1="108.8" x2="1150.7" y2="114.8" stroke="#1a1a1a" stroke-width="1.3"/>
<line x1="1197.8" y1="108.8" x2="1197.8" y2="114.8" stroke="#1a1a1a" stroke-width="1.3"/>
<text x="704.2" y="122.0" font-size="16.4" text-anchor="end" fill="#231f20" stroke="#231f20" stroke-width="0.28">yWJS249</text>
<rect x="911" y="147.8" width="191.7" height="24.1" fill="#e4332d" stroke="#2a1210" stroke-width="1.2"/>
<line x1="1090.5" y1="159.9" x2="1114.3" y2="159.9" stroke="#1a1a1a" stroke-width="1.3"/>
<line x1="1090.5" y1="156.9" x2="1090.5" y2="162.9" stroke="#1a1a1a" stroke-width="1.3"/>
<line x1="1114.3" y1="156.9" x2="1114.3" y2="162.9" stroke="#1a1a1a" stroke-width="1.3"/>
<text x="704.2" y="170.1" font-size="16.4" text-anchor="end" fill="#231f20" stroke="#231f20" stroke-width="0.28">yWJS184</text>
<rect x="911" y="195.0" width="177.4" height="24.0" fill="#e4332d" stroke="#2a1210" stroke-width="1.2"/>
<line x1="1076.5" y1="207.0" x2="1098.9" y2="207.0" stroke="#1a1a1a" stroke-width="1.3"/>
<line x1="1076.5" y1="204.0" x2="1076.5" y2="210.0" stroke="#1a1a1a" stroke-width="1.3"/>
<line x1="1098.9" y1="204.0" x2="1098.9" y2="210.0" stroke="#1a1a1a" stroke-width="1.3"/>
<text x="704.2" y="217.2" font-size="16.4" text-anchor="end" fill="#231f20" stroke="#231f20" stroke-width="0.28">yWJS168</text>
<rect x="911" y="243.2" width="115.8" height="23.8" fill="#e4332d" stroke="#2a1210" stroke-width="1.2"/>
<line x1="1025.5" y1="255.1" x2="1028" y2="255.1" stroke="#1a1a1a" stroke-width="1.3"/>
<line x1="1025.5" y1="252.1" x2="1025.5" y2="258.1" stroke="#1a1a1a" stroke-width="1.3"/>
<line x1="1028" y1="252.1" x2="1028" y2="258.1" stroke="#1a1a1a" stroke-width="1.3"/>
<text x="704.2" y="265.3" font-size="16.4" text-anchor="end" fill="#231f20" stroke="#231f20" stroke-width="0.28">yWJS067</text>
<rect x="911" y="291.0" width="58.8" height="24.0" fill="#e4332d" stroke="#2a1210" stroke-width="1.2"/>
<line x1="964" y1="303.0" x2="974.7" y2="303.0" stroke="#1a1a1a" stroke-width="1.3"/>
<line x1="964" y1="300.0" x2="964" y2="306.0" stroke="#1a1a1a" stroke-width="1.3"/>
<line x1="974.7" y1="300.0" x2="974.7" y2="306.0" stroke="#1a1a1a" stroke-width="1.3"/>
<text x="704.2" y="313.2" font-size="16.4" text-anchor="end" fill="#231f20" stroke="#231f20" stroke-width="0.28">yWJS1</text>
<text x="0.6" y="411" font-size="24" font-weight="bold" fill="#231f20">c</text>
<line x1="50.1" y1="539.6" x2="413.6" y2="539.6" stroke="#e3262b" stroke-width="4.2" stroke-dasharray="4.6,4.9"/>
<line x1="63.0" y1="515.6" x2="63.0" y2="527.0" stroke="#3d3d3d" stroke-width="1.3"/>
<line x1="63.0" y1="536.5" x2="63.0" y2="544.2" stroke="#3d3d3d" stroke-width="1.3"/>
<rect x="54.4" y="527.0" width="17.2" height="9.5" fill="#ffffff" stroke="#3d3d3d" stroke-width="1.3"/>
<line x1="54.4" y1="532.5" x2="71.6" y2="532.5" stroke="#3d3d3d" stroke-width="1.3"/>
<line x1="63.0" y1="585.7" x2="63.0" y2="588.3000000000001" stroke="#4a4a4a" stroke-width="1.1"/>
<text transform="translate(68.1,595.0) rotate(-90)" font-size="14" text-anchor="end" fill="#4a4a4a" stroke="#4a4a4a" stroke-width="0.28">chr01</text>
<line x1="85.5" y1="532.5" x2="85.5" y2="537.7" stroke="#3d3d3d" stroke-width="1.3"/>
<line x1="85.5" y1="542.7" x2="85.5" y2="547.3" stroke="#3d3d3d" stroke-width="1.3"/>
<rect x="76.9" y="537.7" width="17.2" height="4.9" fill="#ffffff" stroke="#3d3d3d" stroke-width="1.3"/>
<line x1="76.9" y1="540.5" x2="94.1" y2="540.5" stroke="#3d3d3d" stroke-width="1.3"/>
<line x1="85.5" y1="585.7" x2="85.5" y2="588.3000000000001" stroke="#4a4a4a" stroke-width="1.1"/>
<text transform="translate(90.6,595.0) rotate(-90)" font-size="14" text-anchor="end" fill="#4a4a4a" stroke="#4a4a4a" stroke-width="0.28">chr02</text>
<line x1="108.0" y1="518.1" x2="108.0" y2="529.7" stroke="#3d3d3d" stroke-width="1.3"/>
<line x1="108.0" y1="541.7" x2="108.0" y2="553.7" stroke="#3d3d3d" stroke-width="1.3"/>
<rect x="99.4" y="529.7" width="17.2" height="12.0" fill="#ffffff" stroke="#3d3d3d" stroke-width="1.3"/>
<line x1="99.4" y1="537.1" x2="116.6" y2="537.1" stroke="#3d3d3d" stroke-width="1.3"/>
<line x1="108.0" y1="585.7" x2="108.0" y2="588.3000000000001" stroke="#4a4a4a" stroke-width="1.1"/>
<text transform="translate(113.1,595.0) rotate(-90)" font-size="14" text-anchor="end" fill="#4a4a4a" stroke="#4a4a4a" stroke-width="0.28">chr03</text>
<line x1="130.5" y1="534.7" x2="130.5" y2="539.0" stroke="#3d3d3d" stroke-width="1.3"/>
<line x1="130.5" y1="543.3" x2="130.5" y2="548.5" stroke="#3d3d3d" stroke-width="1.3"/>
<rect x="121.9" y="539.0" width="17.2" height="4.3" fill="#ffffff" stroke="#3d3d3d" stroke-width="1.3"/>
<line x1="121.9" y1="541.1" x2="139.1" y2="541.1" stroke="#3d3d3d" stroke-width="1.3"/>
<line x1="130.5" y1="585.7" x2="130.5" y2="588.3000000000001" stroke="#4a4a4a" stroke-width="1.1"/>
<text transform="translate(135.6,595.0) rotate(-90)" font-size="14" text-anchor="end" fill="#4a4a4a" stroke="#4a4a4a" stroke-width="0.28">chr04</text>
<line x1="153.0" y1="543.3" x2="153.0" y2="544.2" stroke="#7a4c9e" stroke-width="1.15"/>
<line x1="153.0" y1="548.5" x2="153.0" y2="551.3" stroke="#7a4c9e" stroke-width="1.15"/>
<rect x="144.4" y="544.2" width="17.2" height="4.3" fill="#7a4c9e" stroke="#7a4c9e" stroke-width="1.15"/>
<line x1="144.4" y1="546.3" x2="161.6" y2="546.3" stroke="#7a4c9e" stroke-width="1.15"/>
<line x1="153.0" y1="585.7" x2="153.0" y2="588.3000000000001" stroke="#4a4a4a" stroke-width="1.1"/>
<text transform="translate(158.1,595.0) rotate(-90)" font-size="14" text-anchor="end" fill="#4a4a4a" stroke="#4a4a4a" stroke-width="0.28">chr05</text>
<line x1="175.5" y1="518.4" x2="175.5" y2="524.5" stroke="#3d3d3d" stroke-width="1.3"/>
<line x1="175.5" y1="538.0" x2="175.5" y2="550.0" stroke="#3d3d3d" stroke-width="1.3"/>
<rect x="166.9" y="524.5" width="17.2" height="13.5" fill="#ffffff" stroke="#3d3d3d" stroke-width="1.3"/>
<line x1="166.9" y1="534.7" x2="184.1" y2="534.7" stroke="#3d3d3d" stroke-width="1.3"/>
<line x1="175.5" y1="585.7" x2="175.5" y2="588.3000000000001" stroke="#4a4a4a" stroke-width="1.1"/>
<text transform="translate(180.6,595.0) rotate(-90)" font-size="14" text-anchor="end" fill="#4a4a4a" stroke="#4a4a4a" stroke-width="0.28">chr06</text>
<line x1="198.0" y1="532.2" x2="198.0" y2="538.3" stroke="#3d3d3d" stroke-width="1.3"/>
<line x1="198.0" y1="543.3" x2="198.0" y2="548.2" stroke="#3d3d3d" stroke-width="1.3"/>
<rect x="189.4" y="538.3" width="17.2" height="4.9" fill="#ffffff" stroke="#3d3d3d" stroke-width="1.3"/>
<line x1="189.4" y1="540.8" x2="206.6" y2="540.8" stroke="#3d3d3d" stroke-width="1.3"/>
<line x1="198.0" y1="585.7" x2="198.0" y2="588.3000000000001" stroke="#4a4a4a" stroke-width="1.1"/>
<text transform="translate(203.1,595.0) rotate(-90)" font-size="14" text-anchor="end" fill="#4a4a4a" stroke="#4a4a4a" stroke-width="0.28">chr07</text>
<line x1="220.5" y1="529.7" x2="220.5" y2="536.5" stroke="#3d3d3d" stroke-width="1.3"/>
<line x1="220.5" y1="542.7" x2="220.5" y2="548.2" stroke="#3d3d3d" stroke-width="1.3"/>
<rect x="211.9" y="536.5" width="17.2" height="6.2" fill="#ffffff" stroke="#3d3d3d" stroke-width="1.3"/>
<line x1="211.9" y1="539.9" x2="229.1" y2="539.9" stroke="#3d3d3d" stroke-width="1.3"/>
<line x1="220.5" y1="585.7" x2="220.5" y2="588.3000000000001" stroke="#4a4a4a" stroke-width="1.1"/>
<text transform="translate(225.6,595.0) rotate(-90)" font-size="14" text-anchor="end" fill="#4a4a4a" stroke="#4a4a4a" stroke-width="0.28">chr08</text>
<line x1="243.0" y1="528.2" x2="243.0" y2="535.6" stroke="#3d3d3d" stroke-width="1.3"/>
<line x1="243.0" y1="542.3" x2="243.0" y2="547.9" stroke="#3d3d3d" stroke-width="1.3"/>
<rect x="234.4" y="535.6" width="17.2" height="6.8" fill="#ffffff" stroke="#3d3d3d" stroke-width="1.3"/>
<line x1="234.4" y1="539.0" x2="251.6" y2="539.0" stroke="#3d3d3d" stroke-width="1.3"/>
<line x1="243.0" y1="585.7" x2="243.0" y2="588.3000000000001" stroke="#4a4a4a" stroke-width="1.1"/>
<text transform="translate(248.1,595.0) rotate(-90)" font-size="14" text-anchor="end" fill="#4a4a4a" stroke="#4a4a4a" stroke-width="0.28">chr09</text>
<line x1="265.5" y1="530.7" x2="265.5" y2="537.4" stroke="#3d3d3d" stroke-width="1.3"/>
<line x1="265.5" y1="542.7" x2="265.5" y2="547.9" stroke="#3d3d3d" stroke-width="1.3"/>
<rect x="256.9" y="537.4" width="17.2" height="5.2" fill="#ffffff" stroke="#3d3d3d" stroke-width="1.3"/>
<line x1="256.9" y1="540.2" x2="274.1" y2="540.2" stroke="#3d3d3d" stroke-width="1.3"/>
<line x1="265.5" y1="585.7" x2="265.5" y2="588.3000000000001" stroke="#4a4a4a" stroke-width="1.1"/>
<text transform="translate(270.6,595.0) rotate(-90)" font-size="14" text-anchor="end" fill="#4a4a4a" stroke="#4a4a4a" stroke-width="0.28">chr10</text>
<line x1="288.0" y1="527.0" x2="288.0" y2="535.6" stroke="#3d3d3d" stroke-width="1.3"/>
<line x1="288.0" y1="542.7" x2="288.0" y2="547.0" stroke="#3d3d3d" stroke-width="1.3"/>
<rect x="279.4" y="535.6" width="17.2" height="7.1" fill="#ffffff" stroke="#3d3d3d" stroke-width="1.3"/>
<line x1="279.4" y1="539.0" x2="296.6" y2="539.0" stroke="#3d3d3d" stroke-width="1.3"/>
<line x1="288.0" y1="585.7" x2="288.0" y2="588.3000000000001" stroke="#4a4a4a" stroke-width="1.1"/>
<text transform="translate(293.1,595.0) rotate(-90)" font-size="14" text-anchor="end" fill="#4a4a4a" stroke="#4a4a4a" stroke-width="0.28">chr11</text>
<line x1="310.5" y1="533.4" x2="310.5" y2="538.3" stroke="#3d3d3d" stroke-width="1.3"/>
<line x1="310.5" y1="543.9" x2="310.5" y2="549.4" stroke="#3d3d3d" stroke-width="1.3"/>
<rect x="301.9" y="538.3" width="17.2" height="5.5" fill="#ffffff" stroke="#3d3d3d" stroke-width="1.3"/>
<line x1="301.9" y1="540.5" x2="319.1" y2="540.5" stroke="#3d3d3d" stroke-width="1.3"/>
<line x1="310.5" y1="585.7" x2="310.5" y2="588.3000000000001" stroke="#4a4a4a" stroke-width="1.1"/>
<text transform="translate(315.6,595.0) rotate(-90)" font-size="14" text-anchor="end" fill="#4a4a4a" stroke="#4a4a4a" stroke-width="0.28">chr12</text>
<line x1="333.0" y1="533.4" x2="333.0" y2="537.7" stroke="#3d3d3d" stroke-width="1.3"/>
<line x1="333.0" y1="542.7" x2="333.0" y2="547.0" stroke="#3d3d3d" stroke-width="1.3"/>
<rect x="324.4" y="537.7" width="17.2" height="4.9" fill="#ffffff" stroke="#3d3d3d" stroke-width="1.3"/>
<line x1="324.4" y1="540.2" x2="341.6" y2="540.2" stroke="#3d3d3d" stroke-width="1.3"/>
<line x1="333.0" y1="585.7" x2="333.0" y2="588.3000000000001" stroke="#4a4a4a" stroke-width="1.1"/>
<text transform="translate(338.1,595.0) rotate(-90)" font-size="14" text-anchor="end" fill="#4a4a4a" stroke="#4a4a4a" stroke-width="0.28">chr13</text>
<line x1="355.5" y1="530.7" x2="355.5" y2="537.1" stroke="#3d3d3d" stroke-width="1.3"/>
<line x1="355.5" y1="543.0" x2="355.5" y2="547.0" stroke="#3d3d3d" stroke-width="1.3"/>
<rect x="346.9" y="537.1" width="17.2" height="5.8" fill="#ffffff" stroke="#3d3d3d" stroke-width="1.3"/>
<line x1="346.9" y1="539.6" x2="364.1" y2="539.6" stroke="#3d3d3d" stroke-width="1.3"/>
<line x1="355.5" y1="585.7" x2="355.5" y2="588.3000000000001" stroke="#4a4a4a" stroke-width="1.1"/>
<text transform="translate(360.6,595.0) rotate(-90)" font-size="14" text-anchor="end" fill="#4a4a4a" stroke="#4a4a4a" stroke-width="0.28">chr14</text>
<line x1="378.0" y1="532.2" x2="378.0" y2="537.7" stroke="#3d3d3d" stroke-width="1.3"/>
<line x1="378.0" y1="543.3" x2="378.0" y2="547.9" stroke="#3d3d3d" stroke-width="1.3"/>
<rect x="369.4" y="537.7" width="17.2" height="5.5" fill="#ffffff" stroke="#3d3d3d" stroke-width="1.3"/>
<line x1="369.4" y1="540.2" x2="386.6" y2="540.2" stroke="#3d3d3d" stroke-width="1.3"/>
<line x1="378.0" y1="585.7" x2="378.0" y2="588.3000000000001" stroke="#4a4a4a" stroke-width="1.1"/>
<text transform="translate(383.1,595.0) rotate(-90)" font-size="14" text-anchor="end" fill="#4a4a4a" stroke="#4a4a4a" stroke-width="0.28">chr15</text>
<line x1="400.5" y1="535.0" x2="400.5" y2="538.0" stroke="#3d3d3d" stroke-width="1.3"/>
<line x1="400.5" y1="542.7" x2="400.5" y2="545.7" stroke="#3d3d3d" stroke-width="1.3"/>
<rect x="391.9" y="538.0" width="17.2" height="4.6" fill="#ffffff" stroke="#3d3d3d" stroke-width="1.3"/>
<line x1="391.9" y1="540.2" x2="409.1" y2="540.2" stroke="#3d3d3d" stroke-width="1.3"/>
<line x1="400.5" y1="585.7" x2="400.5" y2="588.3000000000001" stroke="#4a4a4a" stroke-width="1.1"/>
<text transform="translate(405.6,595.0) rotate(-90)" font-size="14" text-anchor="end" fill="#4a4a4a" stroke="#4a4a4a" stroke-width="0.28">chr16</text>
<rect x="49.1" y="424.4" width="363.5" height="161.30000000000007" fill="none" stroke="#3c3c3c" stroke-width="1.5"/>
<line x1="46.3" y1="585.7" x2="49.1" y2="585.7" stroke="#4a4a4a" stroke-width="1.1"/>
<text x="42.3" y="590.0" font-size="14.4" text-anchor="end" fill="#4a4a4a" stroke="#4a4a4a" stroke-width="0.28">0</text>
<line x1="46.3" y1="555.0" x2="49.1" y2="555.0" stroke="#4a4a4a" stroke-width="1.1"/>
<text x="42.3" y="559.2" font-size="14.4" text-anchor="end" fill="#4a4a4a" stroke="#4a4a4a" stroke-width="0.28">100</text>
<line x1="46.3" y1="524.2" x2="49.1" y2="524.2" stroke="#4a4a4a" stroke-width="1.1"/>
<text x="42.3" y="528.5" font-size="14.4" text-anchor="end" fill="#4a4a4a" stroke="#4a4a4a" stroke-width="0.28">200</text>
<line x1="46.3" y1="493.5" x2="49.1" y2="493.5" stroke="#4a4a4a" stroke-width="1.1"/>
<text x="42.3" y="497.8" font-size="14.4" text-anchor="end" fill="#4a4a4a" stroke="#4a4a4a" stroke-width="0.28">300</text>
<line x1="46.3" y1="462.7" x2="49.1" y2="462.7" stroke="#4a4a4a" stroke-width="1.1"/>
<text x="42.3" y="467.0" font-size="14.4" text-anchor="end" fill="#4a4a4a" stroke="#4a4a4a" stroke-width="0.28">400</text>
<line x1="46.3" y1="432.0" x2="49.1" y2="432.0" stroke="#4a4a4a" stroke-width="1.1"/>
<text x="42.3" y="436.3" font-size="14.4" text-anchor="end" fill="#4a4a4a" stroke="#4a4a4a" stroke-width="0.28">500</text>
<text transform="translate(12.2,485.2) rotate(-90)" font-size="14.5" text-anchor="middle" fill="#231f20" stroke="#231f20" stroke-width="0.28">coverage depth</text>
<text x="226.4" y="444.9" font-size="14.3" text-anchor="middle" fill="#231f20" stroke="#231f20" stroke-width="0.28">yWJS1</text>
<line x1="476.4" y1="525.2" x2="840.9" y2="525.2" stroke="#e3262b" stroke-width="4.2" stroke-dasharray="4.6,4.9"/>
<line x1="489.3" y1="465.9" x2="489.3" y2="474.2" stroke="#e0483a" stroke-width="1.15"/>
<line x1="489.3" y1="482.5" x2="489.3" y2="487.1" stroke="#e0483a" stroke-width="1.15"/>
<rect x="480.7" y="474.2" width="17.2" height="8.3" fill="#ffffff" stroke="#e0483a" stroke-width="1.15"/>
<line x1="480.7" y1="478.5" x2="497.9" y2="478.5" stroke="#e0483a" stroke-width="1.15"/>
<line x1="489.3" y1="586.7" x2="489.3" y2="589.3000000000001" stroke="#4a4a4a" stroke-width="1.1"/>
<text transform="translate(494.4,596.0) rotate(-90)" font-size="14" text-anchor="end" fill="#4a4a4a" stroke="#4a4a4a" stroke-width="0.28">chr01</text>
<line x1="511.8" y1="506.4" x2="511.8" y2="518.1" stroke="#3d3d3d" stroke-width="1.3"/>
<line x1="511.8" y1="527.0" x2="511.8" y2="530.4" stroke="#3d3d3d" stroke-width="1.3"/>
<rect x="503.2" y="518.1" width="17.2" height="8.9" fill="#ffffff" stroke="#3d3d3d" stroke-width="1.3"/>
<line x1="503.2" y1="522.1" x2="520.4" y2="522.1" stroke="#3d3d3d" stroke-width="1.3"/>
<line x1="511.8" y1="586.7" x2="511.8" y2="589.3000000000001" stroke="#4a4a4a" stroke-width="1.1"/>
<text transform="translate(516.9,596.0) rotate(-90)" font-size="14" text-anchor="end" fill="#4a4a4a" stroke="#4a4a4a" stroke-width="0.28">chr02</text>
<line x1="534.3" y1="490.5" x2="534.3" y2="496.3" stroke="#e0483a" stroke-width="1.15"/>
<line x1="534.3" y1="503.7" x2="534.3" y2="509.5" stroke="#e0483a" stroke-width="1.15"/>
<rect x="525.7" y="496.3" width="17.2" height="7.4" fill="#ffffff" stroke="#e0483a" stroke-width="1.15"/>
<line x1="525.7" y1="500.3" x2="542.9" y2="500.3" stroke="#e0483a" stroke-width="1.15"/>
<line x1="534.3" y1="586.7" x2="534.3" y2="589.3000000000001" stroke="#4a4a4a" stroke-width="1.1"/>
<text transform="translate(539.4,596.0) rotate(-90)" font-size="14" text-anchor="end" fill="#4a4a4a" stroke="#4a4a4a" stroke-width="0.28">chr03</text>
<line x1="556.8" y1="504.9" x2="556.8" y2="520.3" stroke="#3d3d3d" stroke-width="1.3"/>
<line x1="556.8" y1="530.7" x2="556.8" y2="537.8" stroke="#3d3d3d" stroke-width="1.3"/>
<rect x="548.2" y="520.3" width="17.2" height="10.5" fill="#ffffff" stroke="#3d3d3d" stroke-width="1.3"/>
<line x1="548.2" y1="528.0" x2="565.4" y2="528.0" stroke="#3d3d3d" stroke-width="1.3"/>
<line x1="556.8" y1="586.7" x2="556.8" y2="589.3000000000001" stroke="#4a4a4a" stroke-width="1.1"/>
<text transform="translate(561.9,596.0) rotate(-90)" font-size="14" text-anchor="end" fill="#4a4a4a" stroke="#4a4a4a" stroke-width="0.28">chr04</text>
<line x1="579.3" y1="472.3" x2="579.3" y2="475.4" stroke="#7a4c9e" stroke-width="1.15"/>
<line x1="579.3" y1="484.9" x2="579.3" y2="486.5" stroke="#7a4c9e" stroke-width="1.15"/>
<rect x="570.7" y="475.4" width="17.2" height="9.5" fill="#ffffff" stroke="#7a4c9e" stroke-width="1.15"/>
<line x1="570.7" y1="479.4" x2="587.9" y2="479.4" stroke="#7a4c9e" stroke-width="1.15"/>
<line x1="579.3" y1="586.7" x2="579.3" y2="589.3000000000001" stroke="#4a4a4a" stroke-width="1.1"/>
<text transform="translate(584.4,596.0) rotate(-90)" font-size="14" text-anchor="end" fill="#4a4a4a" stroke="#4a4a4a" stroke-width="0.28">chr05</text>
<line x1="601.8" y1="469.9" x2="601.8" y2="479.7" stroke="#e0483a" stroke-width="1.15"/>
<line x1="601.8" y1="490.5" x2="601.8" y2="497.5" stroke="#e0483a" stroke-width="1.15"/>
<rect x="593.2" y="479.7" width="17.2" height="10.8" fill="#ffffff" stroke="#e0483a" stroke-width="1.15"/>
<line x1="593.2" y1="485.8" x2="610.4" y2="485.8" stroke="#e0483a" stroke-width="1.15"/>
<line x1="601.8" y1="586.7" x2="601.8" y2="589.3000000000001" stroke="#4a4a4a" stroke-width="1.1"/>
<text transform="translate(606.9,596.0) rotate(-90)" font-size="14" text-anchor="end" fill="#4a4a4a" stroke="#4a4a4a" stroke-width="0.28">chr06</text>
<line x1="624.3" y1="510.7" x2="624.3" y2="520.9" stroke="#3d3d3d" stroke-width="1.3"/>
<line x1="624.3" y1="528.9" x2="624.3" y2="535.7" stroke="#3d3d3d" stroke-width="1.3"/>
<rect x="615.7" y="520.9" width="17.2" height="8.0" fill="#ffffff" stroke="#3d3d3d" stroke-width="1.3"/>
<line x1="615.7" y1="525.2" x2="632.9" y2="525.2" stroke="#3d3d3d" stroke-width="1.3"/>
<line x1="624.3" y1="586.7" x2="624.3" y2="589.3000000000001" stroke="#4a4a4a" stroke-width="1.1"/>
<text transform="translate(629.4,596.0) rotate(-90)" font-size="14" text-anchor="end" fill="#4a4a4a" stroke="#4a4a4a" stroke-width="0.28">chr07</text>
<line x1="646.8" y1="506.1" x2="646.8" y2="514.7" stroke="#3d3d3d" stroke-width="1.3"/>
<line x1="646.8" y1="523.0" x2="646.8" y2="530.4" stroke="#3d3d3d" stroke-width="1.3"/>
<rect x="638.2" y="514.7" width="17.2" height="8.3" fill="#ffffff" stroke="#3d3d3d" stroke-width="1.3"/>
<line x1="638.2" y1="519.1" x2="655.4" y2="519.1" stroke="#3d3d3d" stroke-width="1.3"/>
<line x1="646.8" y1="586.7" x2="646.8" y2="589.3000000000001" stroke="#4a4a4a" stroke-width="1.1"/>
<text transform="translate(651.9,596.0) rotate(-90)" font-size="14" text-anchor="end" fill="#4a4a4a" stroke="#4a4a4a" stroke-width="0.28">chr08</text>
<line x1="669.3" y1="496.9" x2="669.3" y2="505.8" stroke="#3d3d3d" stroke-width="1.3"/>
<line x1="669.3" y1="512.6" x2="669.3" y2="519.4" stroke="#3d3d3d" stroke-width="1.3"/>
<rect x="660.7" y="505.8" width="17.2" height="6.8" fill="#ffffff" stroke="#3d3d3d" stroke-width="1.3"/>
<line x1="660.7" y1="509.5" x2="677.9" y2="509.5" stroke="#3d3d3d" stroke-width="1.3"/>
<line x1="669.3" y1="586.7" x2="669.3" y2="589.3000000000001" stroke="#4a4a4a" stroke-width="1.1"/>
<text transform="translate(674.4,596.0) rotate(-90)" font-size="14" text-anchor="end" fill="#4a4a4a" stroke="#4a4a4a" stroke-width="0.28">chr09</text>
<line x1="691.8" y1="502.1" x2="691.8" y2="516.3" stroke="#3d3d3d" stroke-width="1.3"/>
<line x1="691.8" y1="526.7" x2="691.8" y2="534.1" stroke="#3d3d3d" stroke-width="1.3"/>
<rect x="683.2" y="516.3" width="17.2" height="10.5" fill="#ffffff" stroke="#3d3d3d" stroke-width="1.3"/>
<line x1="683.2" y1="523.4" x2="700.4" y2="523.4" stroke="#3d3d3d" stroke-width="1.3"/>
<line x1="691.8" y1="586.7" x2="691.8" y2="589.3000000000001" stroke="#4a4a4a" stroke-width="1.1"/>
<text transform="translate(696.9,596.0) rotate(-90)" font-size="14" text-anchor="end" fill="#4a4a4a" stroke="#4a4a4a" stroke-width="0.28">chr10</text>
<line x1="714.3" y1="502.1" x2="714.3" y2="515.1" stroke="#3d3d3d" stroke-width="1.3"/>
<line x1="714.3" y1="525.2" x2="714.3" y2="537.2" stroke="#3d3d3d" stroke-width="1.3"/>
<rect x="705.7" y="515.1" width="17.2" height="10.1" fill="#ffffff" stroke="#3d3d3d" stroke-width="1.3"/>
<line x1="705.7" y1="520.9" x2="722.9" y2="520.9" stroke="#3d3d3d" stroke-width="1.3"/>
<line x1="714.3" y1="586.7" x2="714.3" y2="589.3000000000001" stroke="#4a4a4a" stroke-width="1.1"/>
<text transform="translate(719.4,596.0) rotate(-90)" font-size="14" text-anchor="end" fill="#4a4a4a" stroke="#4a4a4a" stroke-width="0.28">chr11</text>
<line x1="736.8" y1="515.1" x2="736.8" y2="524.3" stroke="#3d3d3d" stroke-width="1.3"/>
<line x1="736.8" y1="532.3" x2="736.8" y2="539.7" stroke="#3d3d3d" stroke-width="1.3"/>
<rect x="728.2" y="524.3" width="17.2" height="8.0" fill="#ffffff" stroke="#3d3d3d" stroke-width="1.3"/>
<line x1="728.2" y1="529.8" x2="745.4" y2="529.8" stroke="#3d3d3d" stroke-width="1.3"/>
<line x1="736.8" y1="586.7" x2="736.8" y2="589.3000000000001" stroke="#4a4a4a" stroke-width="1.1"/>
<text transform="translate(741.9,596.0) rotate(-90)" font-size="14" text-anchor="end" fill="#4a4a4a" stroke="#4a4a4a" stroke-width="0.28">chr12</text>
<line x1="759.3" y1="502.1" x2="759.3" y2="517.5" stroke="#3d3d3d" stroke-width="1.3"/>
<line x1="759.3" y1="528.3" x2="759.3" y2="535.7" stroke="#3d3d3d" stroke-width="1.3"/>
<rect x="750.7" y="517.5" width="17.2" height="10.8" fill="#ffffff" stroke="#3d3d3d" stroke-width="1.3"/>
<line x1="750.7" y1="525.8" x2="767.9" y2="525.8" stroke="#3d3d3d" stroke-width="1.3"/>
<line x1="759.3" y1="586.7" x2="759.3" y2="589.3000000000001" stroke="#4a4a4a" stroke-width="1.1"/>
<text transform="translate(764.4,596.0) rotate(-90)" font-size="14" text-anchor="end" fill="#4a4a4a" stroke="#4a4a4a" stroke-width="0.28">chr13</text>
<line x1="781.8" y1="505.8" x2="781.8" y2="517.5" stroke="#3d3d3d" stroke-width="1.3"/>
<line x1="781.8" y1="525.5" x2="781.8" y2="529.5" stroke="#3d3d3d" stroke-width="1.3"/>
<rect x="773.2" y="517.5" width="17.2" height="8.0" fill="#ffffff" stroke="#3d3d3d" stroke-width="1.3"/>
<line x1="773.2" y1="522.4" x2="790.4" y2="522.4" stroke="#3d3d3d" stroke-width="1.3"/>
<line x1="781.8" y1="586.7" x2="781.8" y2="589.3000000000001" stroke="#4a4a4a" stroke-width="1.1"/>
<text transform="translate(786.9,596.0) rotate(-90)" font-size="14" text-anchor="end" fill="#4a4a4a" stroke="#4a4a4a" stroke-width="0.28">chr14</text>
<line x1="804.3" y1="511.7" x2="804.3" y2="521.8" stroke="#3d3d3d" stroke-width="1.3"/>
<line x1="804.3" y1="528.3" x2="804.3" y2="535.7" stroke="#3d3d3d" stroke-width="1.3"/>
<rect x="795.7" y="521.8" width="17.2" height="6.5" fill="#ffffff" stroke="#3d3d3d" stroke-width="1.3"/>
<line x1="795.7" y1="525.5" x2="812.9" y2="525.5" stroke="#3d3d3d" stroke-width="1.3"/>
<line x1="804.3" y1="586.7" x2="804.3" y2="589.3000000000001" stroke="#4a4a4a" stroke-width="1.1"/>
<text transform="translate(809.4,596.0) rotate(-90)" font-size="14" text-anchor="end" fill="#4a4a4a" stroke="#4a4a4a" stroke-width="0.28">chr15</text>
<line x1="826.8" y1="509.5" x2="826.8" y2="520.6" stroke="#3d3d3d" stroke-width="1.3"/>
<line x1="826.8" y1="527.7" x2="826.8" y2="535.7" stroke="#3d3d3d" stroke-width="1.3"/>
<rect x="818.2" y="520.6" width="17.2" height="7.1" fill="#ffffff" stroke="#3d3d3d" stroke-width="1.3"/>
<line x1="818.2" y1="525.2" x2="835.4" y2="525.2" stroke="#3d3d3d" stroke-width="1.3"/>
<line x1="826.8" y1="586.7" x2="826.8" y2="589.3000000000001" stroke="#4a4a4a" stroke-width="1.1"/>
<text transform="translate(831.9,596.0) rotate(-90)" font-size="14" text-anchor="end" fill="#4a4a4a" stroke="#4a4a4a" stroke-width="0.28">chr16</text>
<rect x="475.4" y="425.4" width="364.5" height="161.30000000000007" fill="none" stroke="#3c3c3c" stroke-width="1.5"/>
<line x1="472.6" y1="586.7" x2="475.4" y2="586.7" stroke="#4a4a4a" stroke-width="1.1"/>
<text x="468.6" y="591.0" font-size="14.4" text-anchor="end" fill="#4a4a4a" stroke="#4a4a4a" stroke-width="0.28">0</text>
<line x1="472.6" y1="556.0" x2="475.4" y2="556.0" stroke="#4a4a4a" stroke-width="1.1"/>
<text x="468.6" y="560.2" font-size="14.4" text-anchor="end" fill="#4a4a4a" stroke="#4a4a4a" stroke-width="0.28">100</text>
<line x1="472.6" y1="525.2" x2="475.4" y2="525.2" stroke="#4a4a4a" stroke-width="1.1"/>
<text x="468.6" y="529.5" font-size="14.4" text-anchor="end" fill="#4a4a4a" stroke="#4a4a4a" stroke-width="0.28">200</text>
<line x1="472.6" y1="494.5" x2="475.4" y2="494.5" stroke="#4a4a4a" stroke-width="1.1"/>
<text x="468.6" y="498.8" font-size="14.4" text-anchor="end" fill="#4a4a4a" stroke="#4a4a4a" stroke-width="0.28">300</text>
<line x1="472.6" y1="463.7" x2="475.4" y2="463.7" stroke="#4a4a4a" stroke-width="1.1"/>
<text x="468.6" y="468.0" font-size="14.4" text-anchor="end" fill="#4a4a4a" stroke="#4a4a4a" stroke-width="0.28">400</text>
<line x1="472.6" y1="433.0" x2="475.4" y2="433.0" stroke="#4a4a4a" stroke-width="1.1"/>
<text x="468.6" y="437.3" font-size="14.4" text-anchor="end" fill="#4a4a4a" stroke="#4a4a4a" stroke-width="0.28">500</text>
<text transform="translate(438.5,496.4) rotate(-90)" font-size="14.5" text-anchor="middle" fill="#231f20" stroke="#231f20" stroke-width="0.28">coverage depth</text>
<text x="658.4" y="445.9" font-size="14.3" text-anchor="middle" fill="#231f20" stroke="#231f20" stroke-width="0.28">yWJS044</text>
<line x1="904.0" y1="529.8" x2="1268.6" y2="529.8" stroke="#e3262b" stroke-width="4.2" stroke-dasharray="4.6,4.9"/>
<line x1="916.9" y1="486.5" x2="916.9" y2="502.5" stroke="#3d3d3d" stroke-width="1.3"/>
<line x1="916.9" y1="523.7" x2="916.9" y2="528.3" stroke="#3d3d3d" stroke-width="1.3"/>
<rect x="908.3" y="502.5" width="17.2" height="21.2" fill="#ffffff" stroke="#3d3d3d" stroke-width="1.3"/>
<line x1="908.3" y1="517.8" x2="925.5" y2="517.8" stroke="#3d3d3d" stroke-width="1.3"/>
<line x1="916.9" y1="585.8" x2="916.9" y2="588.4" stroke="#4a4a4a" stroke-width="1.1"/>
<text transform="translate(922.0,595.0999999999999) rotate(-90)" font-size="14" text-anchor="end" fill="#4a4a4a" stroke="#4a4a4a" stroke-width="0.28">chr01</text>
<line x1="939.4" y1="517.5" x2="939.4" y2="526.1" stroke="#3d3d3d" stroke-width="1.3"/>
<line x1="939.4" y1="533.2" x2="939.4" y2="537.2" stroke="#3d3d3d" stroke-width="1.3"/>
<rect x="930.8" y="526.1" width="17.2" height="7.1" fill="#ffffff" stroke="#3d3d3d" stroke-width="1.3"/>
<line x1="930.8" y1="529.8" x2="948.0" y2="529.8" stroke="#3d3d3d" stroke-width="1.3"/>
<line x1="939.4" y1="585.8" x2="939.4" y2="588.4" stroke="#4a4a4a" stroke-width="1.1"/>
<text transform="translate(944.5,595.0999999999999) rotate(-90)" font-size="14" text-anchor="end" fill="#4a4a4a" stroke="#4a4a4a" stroke-width="0.28">chr02</text>
<line x1="961.9" y1="486.2" x2="961.9" y2="507.7" stroke="#3d3d3d" stroke-width="1.3"/>
<line x1="961.9" y1="531.7" x2="961.9" y2="537.8" stroke="#3d3d3d" stroke-width="1.3"/>
<rect x="953.3" y="507.7" width="17.2" height="24.0" fill="#ffffff" stroke="#3d3d3d" stroke-width="1.3"/>
<line x1="953.3" y1="522.8" x2="970.5" y2="522.8" stroke="#3d3d3d" stroke-width="1.3"/>
<line x1="961.9" y1="585.8" x2="961.9" y2="588.4" stroke="#4a4a4a" stroke-width="1.1"/>
<text transform="translate(967.0,595.0999999999999) rotate(-90)" font-size="14" text-anchor="end" fill="#4a4a4a" stroke="#4a4a4a" stroke-width="0.28">chr03</text>
<line x1="984.4" y1="523.4" x2="984.4" y2="528.3" stroke="#3d3d3d" stroke-width="1.3"/>
<line x1="984.4" y1="532.6" x2="984.4" y2="538.4" stroke="#3d3d3d" stroke-width="1.3"/>
<rect x="975.8" y="528.3" width="17.2" height="4.3" fill="#ffffff" stroke="#3d3d3d" stroke-width="1.3"/>
<line x1="975.8" y1="530.4" x2="993.0" y2="530.4" stroke="#3d3d3d" stroke-width="1.3"/>
<line x1="984.4" y1="585.8" x2="984.4" y2="588.4" stroke="#4a4a4a" stroke-width="1.1"/>
<text transform="translate(989.5,595.0999999999999) rotate(-90)" font-size="14" text-anchor="end" fill="#4a4a4a" stroke="#4a4a4a" stroke-width="0.28">chr04</text>
<line x1="1006.9" y1="469.9" x2="1006.9" y2="477.3" stroke="#7a4c9e" stroke-width="1.15"/>
<line x1="1006.9" y1="528.3" x2="1006.9" y2="553.2" stroke="#7a4c9e" stroke-width="1.15"/>
<rect x="998.3" y="477.3" width="17.2" height="51.0" fill="#ffffff" stroke="#7a4c9e" stroke-width="1.15"/>
<line x1="998.3" y1="481.2" x2="1015.5" y2="481.2" stroke="#7a4c9e" stroke-width="1.15"/>
<line x1="1006.9" y1="585.8" x2="1006.9" y2="588.4" stroke="#4a4a4a" stroke-width="1.1"/>
<text transform="translate(1012.0,595.0999999999999) rotate(-90)" font-size="14" text-anchor="end" fill="#4a4a4a" stroke="#4a4a4a" stroke-width="0.28">chr05</text>
<line x1="1029.4" y1="485.2" x2="1029.4" y2="501.2" stroke="#3d3d3d" stroke-width="1.3"/>
<line x1="1029.4" y1="526.1" x2="1029.4" y2="528.3" stroke="#3d3d3d" stroke-width="1.3"/>
<rect x="1020.8" y="501.2" width="17.2" height="24.9" fill="#ffffff" stroke="#3d3d3d" stroke-width="1.3"/>
<line x1="1020.8" y1="521.5" x2="1038.0" y2="521.5" stroke="#3d3d3d" stroke-width="1.3"/>
<line x1="1029.4" y1="585.8" x2="1029.4" y2="588.4" stroke="#4a4a4a" stroke-width="1.1"/>
<text transform="translate(1034.5,595.0999999999999) rotate(-90)" font-size="14" text-anchor="end" fill="#4a4a4a" stroke="#4a4a4a" stroke-width="0.28">chr06</text>
<line x1="1051.9" y1="519.1" x2="1051.9" y2="526.5" stroke="#3d3d3d" stroke-width="1.3"/>
<line x1="1051.9" y1="532.6" x2="1051.9" y2="538.8" stroke="#3d3d3d" stroke-width="1.3"/>
<rect x="1043.3" y="526.5" width="17.2" height="6.1" fill="#ffffff" stroke="#3d3d3d" stroke-width="1.3"/>
<line x1="1043.3" y1="529.8" x2="1060.5" y2="529.8" stroke="#3d3d3d" stroke-width="1.3"/>
<line x1="1051.9" y1="585.8" x2="1051.9" y2="588.4" stroke="#4a4a4a" stroke-width="1.1"/>
<text transform="translate(1057.0,595.0999999999999) rotate(-90)" font-size="14" text-anchor="end" fill="#4a4a4a" stroke="#4a4a4a" stroke-width="0.28">chr07</text>
<line x1="1074.4" y1="519.4" x2="1074.4" y2="527.1" stroke="#3d3d3d" stroke-width="1.3"/>
<line x1="1074.4" y1="532.3" x2="1074.4" y2="540.3" stroke="#3d3d3d" stroke-width="1.3"/>
<rect x="1065.8" y="527.1" width="17.2" height="5.2" fill="#ffffff" stroke="#3d3d3d" stroke-width="1.3"/>
<line x1="1065.8" y1="530.4" x2="1083.0" y2="530.4" stroke="#3d3d3d" stroke-width="1.3"/>
<line x1="1074.4" y1="585.8" x2="1074.4" y2="588.4" stroke="#4a4a4a" stroke-width="1.1"/>
<text transform="translate(1079.5,595.0999999999999) rotate(-90)" font-size="14" text-anchor="end" fill="#4a4a4a" stroke="#4a4a4a" stroke-width="0.28">chr08</text>
<line x1="1096.9" y1="511.7" x2="1096.9" y2="519.4" stroke="#3d3d3d" stroke-width="1.3"/>
<line x1="1096.9" y1="532.3" x2="1096.9" y2="535.7" stroke="#3d3d3d" stroke-width="1.3"/>
<rect x="1088.3" y="519.4" width="17.2" height="12.9" fill="#ffffff" stroke="#3d3d3d" stroke-width="1.3"/>
<line x1="1088.3" y1="529.8" x2="1105.5" y2="529.8" stroke="#3d3d3d" stroke-width="1.3"/>
<line x1="1096.9" y1="585.8" x2="1096.9" y2="588.4" stroke="#4a4a4a" stroke-width="1.1"/>
<text transform="translate(1102.0,595.0999999999999) rotate(-90)" font-size="14" text-anchor="end" fill="#4a4a4a" stroke="#4a4a4a" stroke-width="0.28">chr09</text>
<line x1="1119.4" y1="518.1" x2="1119.4" y2="524.9" stroke="#3d3d3d" stroke-width="1.3"/>
<line x1="1119.4" y1="532.9" x2="1119.4" y2="535.7" stroke="#3d3d3d" stroke-width="1.3"/>
<rect x="1110.8" y="524.9" width="17.2" height="8.0" fill="#ffffff" stroke="#3d3d3d" stroke-width="1.3"/>
<line x1="1110.8" y1="529.8" x2="1128.0" y2="529.8" stroke="#3d3d3d" stroke-width="1.3"/>
<line x1="1119.4" y1="585.8" x2="1119.4" y2="588.4" stroke="#4a4a4a" stroke-width="1.1"/>
<text transform="translate(1124.5,595.0999999999999) rotate(-90)" font-size="14" text-anchor="end" fill="#4a4a4a" stroke="#4a4a4a" stroke-width="0.28">chr10</text>
<line x1="1141.9" y1="520.9" x2="1141.9" y2="526.5" stroke="#3d3d3d" stroke-width="1.3"/>
<line x1="1141.9" y1="532.9" x2="1141.9" y2="540.6" stroke="#3d3d3d" stroke-width="1.3"/>
<rect x="1133.3" y="526.5" width="17.2" height="6.5" fill="#ffffff" stroke="#3d3d3d" stroke-width="1.3"/>
<line x1="1133.3" y1="531.1" x2="1150.5" y2="531.1" stroke="#3d3d3d" stroke-width="1.3"/>
<line x1="1141.9" y1="585.8" x2="1141.9" y2="588.4" stroke="#4a4a4a" stroke-width="1.1"/>
<text transform="translate(1147.0,595.0999999999999) rotate(-90)" font-size="14" text-anchor="end" fill="#4a4a4a" stroke="#4a4a4a" stroke-width="0.28">chr11</text>
<line x1="1164.4" y1="519.4" x2="1164.4" y2="528.0" stroke="#3d3d3d" stroke-width="1.3"/>
<line x1="1164.4" y1="534.1" x2="1164.4" y2="540.9" stroke="#3d3d3d" stroke-width="1.3"/>
<rect x="1155.8" y="528.0" width="17.2" height="6.1" fill="#ffffff" stroke="#3d3d3d" stroke-width="1.3"/>
<line x1="1155.8" y1="532.0" x2="1173.0" y2="532.0" stroke="#3d3d3d" stroke-width="1.3"/>
<line x1="1164.4" y1="585.8" x2="1164.4" y2="588.4" stroke="#4a4a4a" stroke-width="1.1"/>
<text transform="translate(1169.5,595.0999999999999) rotate(-90)" font-size="14" text-anchor="end" fill="#4a4a4a" stroke="#4a4a4a" stroke-width="0.28">chr12</text>
<line x1="1186.9" y1="520.9" x2="1186.9" y2="527.4" stroke="#3d3d3d" stroke-width="1.3"/>
<line x1="1186.9" y1="532.9" x2="1186.9" y2="537.2" stroke="#3d3d3d" stroke-width="1.3"/>
<rect x="1178.3" y="527.4" width="17.2" height="5.5" fill="#ffffff" stroke="#3d3d3d" stroke-width="1.3"/>
<line x1="1178.3" y1="529.8" x2="1195.5" y2="529.8" stroke="#3d3d3d" stroke-width="1.3"/>
<line x1="1186.9" y1="585.8" x2="1186.9" y2="588.4" stroke="#4a4a4a" stroke-width="1.1"/>
<text transform="translate(1192.0,595.0999999999999) rotate(-90)" font-size="14" text-anchor="end" fill="#4a4a4a" stroke="#4a4a4a" stroke-width="0.28">chr13</text>
<line x1="1209.4" y1="520.9" x2="1209.4" y2="527.4" stroke="#3d3d3d" stroke-width="1.3"/>
<line x1="1209.4" y1="532.9" x2="1209.4" y2="536.0" stroke="#3d3d3d" stroke-width="1.3"/>
<rect x="1200.8" y="527.4" width="17.2" height="5.5" fill="#ffffff" stroke="#3d3d3d" stroke-width="1.3"/>
<line x1="1200.8" y1="530.8" x2="1218.0" y2="530.8" stroke="#3d3d3d" stroke-width="1.3"/>
<line x1="1209.4" y1="585.8" x2="1209.4" y2="588.4" stroke="#4a4a4a" stroke-width="1.1"/>
<text transform="translate(1214.5,595.0999999999999) rotate(-90)" font-size="14" text-anchor="end" fill="#4a4a4a" stroke="#4a4a4a" stroke-width="0.28">chr14</text>
<line x1="1231.9" y1="523.1" x2="1231.9" y2="528.0" stroke="#3d3d3d" stroke-width="1.3"/>
<line x1="1231.9" y1="533.2" x2="1231.9" y2="537.5" stroke="#3d3d3d" stroke-width="1.3"/>
<rect x="1223.3" y="528.0" width="17.2" height="5.2" fill="#ffffff" stroke="#3d3d3d" stroke-width="1.3"/>
<line x1="1223.3" y1="530.1" x2="1240.5" y2="530.1" stroke="#3d3d3d" stroke-width="1.3"/>
<line x1="1231.9" y1="585.8" x2="1231.9" y2="588.4" stroke="#4a4a4a" stroke-width="1.1"/>
<text transform="translate(1237.0,595.0999999999999) rotate(-90)" font-size="14" text-anchor="end" fill="#4a4a4a" stroke="#4a4a4a" stroke-width="0.28">chr15</text>
<line x1="1254.4" y1="523.1" x2="1254.4" y2="527.4" stroke="#3d3d3d" stroke-width="1.3"/>
<line x1="1254.4" y1="532.3" x2="1254.4" y2="537.5" stroke="#3d3d3d" stroke-width="1.3"/>
<rect x="1245.8" y="527.4" width="17.2" height="4.9" fill="#ffffff" stroke="#3d3d3d" stroke-width="1.3"/>
<line x1="1245.8" y1="529.5" x2="1263.0" y2="529.5" stroke="#3d3d3d" stroke-width="1.3"/>
<line x1="1254.4" y1="585.8" x2="1254.4" y2="588.4" stroke="#4a4a4a" stroke-width="1.1"/>
<text transform="translate(1259.5,595.0999999999999) rotate(-90)" font-size="14" text-anchor="end" fill="#4a4a4a" stroke="#4a4a4a" stroke-width="0.28">chr16</text>
<rect x="903.0" y="424.4" width="364.6" height="161.39999999999998" fill="none" stroke="#3c3c3c" stroke-width="1.5"/>
<line x1="900.2" y1="585.8" x2="903.0" y2="585.8" stroke="#4a4a4a" stroke-width="1.1"/>
<text x="896.2" y="590.1" font-size="14.4" text-anchor="end" fill="#4a4a4a" stroke="#4a4a4a" stroke-width="0.28">0</text>
<line x1="900.2" y1="555.0" x2="903.0" y2="555.0" stroke="#4a4a4a" stroke-width="1.1"/>
<text x="896.2" y="559.3" font-size="14.4" text-anchor="end" fill="#4a4a4a" stroke="#4a4a4a" stroke-width="0.28">100</text>
<line x1="900.2" y1="524.3" x2="903.0" y2="524.3" stroke="#4a4a4a" stroke-width="1.1"/>
<text x="896.2" y="528.6" font-size="14.4" text-anchor="end" fill="#4a4a4a" stroke="#4a4a4a" stroke-width="0.28">200</text>
<line x1="900.2" y1="493.5" x2="903.0" y2="493.5" stroke="#4a4a4a" stroke-width="1.1"/>
<text x="896.2" y="497.8" font-size="14.4" text-anchor="end" fill="#4a4a4a" stroke="#4a4a4a" stroke-width="0.28">300</text>
<line x1="900.2" y1="462.8" x2="903.0" y2="462.8" stroke="#4a4a4a" stroke-width="1.1"/>
<text x="896.2" y="467.1" font-size="14.4" text-anchor="end" fill="#4a4a4a" stroke="#4a4a4a" stroke-width="0.28">400</text>
<line x1="900.2" y1="432.0" x2="903.0" y2="432.0" stroke="#4a4a4a" stroke-width="1.1"/>
<text x="896.2" y="436.3" font-size="14.4" text-anchor="end" fill="#4a4a4a" stroke="#4a4a4a" stroke-width="0.28">500</text>
<text transform="translate(866.1,499.0) rotate(-90)" font-size="14.5" text-anchor="middle" fill="#231f20" stroke="#231f20" stroke-width="0.28">coverage depth</text>
<text x="1085.0" y="444.9" font-size="14.3" text-anchor="middle" fill="#231f20" stroke="#231f20" stroke-width="0.28">yWJS047</text>
<line x1="50.1" y1="783.3" x2="413.6" y2="783.3" stroke="#e3262b" stroke-width="4.2" stroke-dasharray="4.6,4.9"/>
<line x1="63.0" y1="749.8" x2="63.0" y2="758.7" stroke="#3d3d3d" stroke-width="1.3"/>
<line x1="63.0" y1="770.1" x2="63.0" y2="775.3" stroke="#3d3d3d" stroke-width="1.3"/>
<rect x="54.4" y="758.7" width="17.2" height="11.4" fill="#ffffff" stroke="#3d3d3d" stroke-width="1.3"/>
<line x1="54.4" y1="765.7" x2="71.6" y2="765.7" stroke="#3d3d3d" stroke-width="1.3"/>
<line x1="63.0" y1="829.4" x2="63.0" y2="832.0" stroke="#4a4a4a" stroke-width="1.1"/>
<text transform="translate(68.1,838.6999999999999) rotate(-90)" font-size="14" text-anchor="end" fill="#4a4a4a" stroke="#4a4a4a" stroke-width="0.28">chr01</text>
<line x1="85.5" y1="777.1" x2="85.5" y2="781.4" stroke="#3d3d3d" stroke-width="1.3"/>
<line x1="85.5" y1="785.7" x2="85.5" y2="790.3" stroke="#3d3d3d" stroke-width="1.3"/>
<rect x="76.9" y="781.4" width="17.2" height="4.3" fill="#ffffff" stroke="#3d3d3d" stroke-width="1.3"/>
<line x1="76.9" y1="783.6" x2="94.1" y2="783.6" stroke="#3d3d3d" stroke-width="1.3"/>
<line x1="85.5" y1="829.4" x2="85.5" y2="832.0" stroke="#4a4a4a" stroke-width="1.1"/>
<text transform="translate(90.6,838.6999999999999) rotate(-90)" font-size="14" text-anchor="end" fill="#4a4a4a" stroke="#4a4a4a" stroke-width="0.28">chr02</text>
<line x1="108.0" y1="758.7" x2="108.0" y2="766.7" stroke="#3d3d3d" stroke-width="1.3"/>
<line x1="108.0" y1="778.4" x2="108.0" y2="780.5" stroke="#3d3d3d" stroke-width="1.3"/>
<rect x="99.4" y="766.7" width="17.2" height="11.7" fill="#ffffff" stroke="#3d3d3d" stroke-width="1.3"/>
<line x1="99.4" y1="775.6" x2="116.6" y2="775.6" stroke="#3d3d3d" stroke-width="1.3"/>
<line x1="108.0" y1="829.4" x2="108.0" y2="832.0" stroke="#4a4a4a" stroke-width="1.1"/>
<text transform="translate(113.1,838.6999999999999) rotate(-90)" font-size="14" text-anchor="end" fill="#4a4a4a" stroke="#4a4a4a" stroke-width="0.28">chr03</text>
<line x1="130.5" y1="776.8" x2="130.5" y2="783.6" stroke="#3d3d3d" stroke-width="1.3"/>
<line x1="130.5" y1="789.1" x2="130.5" y2="796.2" stroke="#3d3d3d" stroke-width="1.3"/>
<rect x="121.9" y="783.6" width="17.2" height="5.5" fill="#ffffff" stroke="#3d3d3d" stroke-width="1.3"/>
<line x1="121.9" y1="786.4" x2="139.1" y2="786.4" stroke="#3d3d3d" stroke-width="1.3"/>
<line x1="130.5" y1="829.4" x2="130.5" y2="832.0" stroke="#4a4a4a" stroke-width="1.1"/>
<text transform="translate(135.6,838.6999999999999) rotate(-90)" font-size="14" text-anchor="end" fill="#4a4a4a" stroke="#4a4a4a" stroke-width="0.28">chr04</text>
<line x1="153.0" y1="745.5" x2="153.0" y2="769.4" stroke="#7a4c9e" stroke-width="1.15"/>
<line x1="153.0" y1="790.0" x2="153.0" y2="817.1" stroke="#7a4c9e" stroke-width="1.15"/>
<rect x="144.4" y="769.4" width="17.2" height="20.6" fill="#ffffff" stroke="#7a4c9e" stroke-width="1.15"/>
<line x1="144.4" y1="786.7" x2="161.6" y2="786.7" stroke="#7a4c9e" stroke-width="1.15"/>
<line x1="153.0" y1="829.4" x2="153.0" y2="832.0" stroke="#4a4a4a" stroke-width="1.1"/>
<text transform="translate(158.1,838.6999999999999) rotate(-90)" font-size="14" text-anchor="end" fill="#4a4a4a" stroke="#4a4a4a" stroke-width="0.28">chr05</text>
<line x1="175.5" y1="752.2" x2="175.5" y2="762.4" stroke="#3d3d3d" stroke-width="1.3"/>
<line x1="175.5" y1="774.0" x2="175.5" y2="782.0" stroke="#3d3d3d" stroke-width="1.3"/>
<rect x="166.9" y="762.4" width="17.2" height="11.7" fill="#ffffff" stroke="#3d3d3d" stroke-width="1.3"/>
<line x1="166.9" y1="767.9" x2="184.1" y2="767.9" stroke="#3d3d3d" stroke-width="1.3"/>
<line x1="175.5" y1="829.4" x2="175.5" y2="832.0" stroke="#4a4a4a" stroke-width="1.1"/>
<text transform="translate(180.6,838.6999999999999) rotate(-90)" font-size="14" text-anchor="end" fill="#4a4a4a" stroke="#4a4a4a" stroke-width="0.28">chr06</text>
<line x1="198.0" y1="777.4" x2="198.0" y2="783.6" stroke="#3d3d3d" stroke-width="1.3"/>
<line x1="198.0" y1="787.9" x2="198.0" y2="793.1" stroke="#3d3d3d" stroke-width="1.3"/>
<rect x="189.4" y="783.6" width="17.2" height="4.3" fill="#ffffff" stroke="#3d3d3d" stroke-width="1.3"/>
<line x1="189.4" y1="785.7" x2="206.6" y2="785.7" stroke="#3d3d3d" stroke-width="1.3"/>
<line x1="198.0" y1="829.4" x2="198.0" y2="832.0" stroke="#4a4a4a" stroke-width="1.1"/>
<text transform="translate(203.1,838.6999999999999) rotate(-90)" font-size="14" text-anchor="end" fill="#4a4a4a" stroke="#4a4a4a" stroke-width="0.28">chr07</text>
<line x1="220.5" y1="770.1" x2="220.5" y2="778.0" stroke="#3d3d3d" stroke-width="1.3"/>
<line x1="220.5" y1="785.4" x2="220.5" y2="791.6" stroke="#3d3d3d" stroke-width="1.3"/>
<rect x="211.9" y="778.0" width="17.2" height="7.4" fill="#ffffff" stroke="#3d3d3d" stroke-width="1.3"/>
<line x1="211.9" y1="782.0" x2="229.1" y2="782.0" stroke="#3d3d3d" stroke-width="1.3"/>
<line x1="220.5" y1="829.4" x2="220.5" y2="832.0" stroke="#4a4a4a" stroke-width="1.1"/>
<text transform="translate(225.6,838.6999999999999) rotate(-90)" font-size="14" text-anchor="end" fill="#4a4a4a" stroke="#4a4a4a" stroke-width="0.28">chr08</text>
<line x1="243.0" y1="767.6" x2="243.0" y2="776.2" stroke="#3d3d3d" stroke-width="1.3"/>
<line x1="243.0" y1="781.4" x2="243.0" y2="782.4" stroke="#3d3d3d" stroke-width="1.3"/>
<rect x="234.4" y="776.2" width="17.2" height="5.2" fill="#ffffff" stroke="#3d3d3d" stroke-width="1.3"/>
<line x1="234.4" y1="778.7" x2="251.6" y2="778.7" stroke="#3d3d3d" stroke-width="1.3"/>
<line x1="243.0" y1="829.4" x2="243.0" y2="832.0" stroke="#4a4a4a" stroke-width="1.1"/>
<text transform="translate(248.1,838.6999999999999) rotate(-90)" font-size="14" text-anchor="end" fill="#4a4a4a" stroke="#4a4a4a" stroke-width="0.28">chr09</text>
<line x1="265.5" y1="768.5" x2="265.5" y2="779.6" stroke="#3d3d3d" stroke-width="1.3"/>
<line x1="265.5" y1="787.0" x2="265.5" y2="794.0" stroke="#3d3d3d" stroke-width="1.3"/>
<rect x="256.9" y="779.6" width="17.2" height="7.4" fill="#ffffff" stroke="#3d3d3d" stroke-width="1.3"/>
<line x1="256.9" y1="783.6" x2="274.1" y2="783.6" stroke="#3d3d3d" stroke-width="1.3"/>
<line x1="265.5" y1="829.4" x2="265.5" y2="832.0" stroke="#4a4a4a" stroke-width="1.1"/>
<text transform="translate(270.6,838.6999999999999) rotate(-90)" font-size="14" text-anchor="end" fill="#4a4a4a" stroke="#4a4a4a" stroke-width="0.28">chr10</text>
<line x1="288.0" y1="774.0" x2="288.0" y2="780.2" stroke="#3d3d3d" stroke-width="1.3"/>
<line x1="288.0" y1="784.5" x2="288.0" y2="791.0" stroke="#3d3d3d" stroke-width="1.3"/>
<rect x="279.4" y="780.2" width="17.2" height="4.3" fill="#ffffff" stroke="#3d3d3d" stroke-width="1.3"/>
<line x1="279.4" y1="782.4" x2="296.6" y2="782.4" stroke="#3d3d3d" stroke-width="1.3"/>
<line x1="288.0" y1="829.4" x2="288.0" y2="832.0" stroke="#4a4a4a" stroke-width="1.1"/>
<text transform="translate(293.1,838.6999999999999) rotate(-90)" font-size="14" text-anchor="end" fill="#4a4a4a" stroke="#4a4a4a" stroke-width="0.28">chr11</text>
<line x1="310.5" y1="777.1" x2="310.5" y2="782.7" stroke="#3d3d3d" stroke-width="1.3"/>
<line x1="310.5" y1="788.5" x2="310.5" y2="795.6" stroke="#3d3d3d" stroke-width="1.3"/>
<rect x="301.9" y="782.7" width="17.2" height="5.8" fill="#ffffff" stroke="#3d3d3d" stroke-width="1.3"/>
<line x1="301.9" y1="785.7" x2="319.1" y2="785.7" stroke="#3d3d3d" stroke-width="1.3"/>
<line x1="310.5" y1="829.4" x2="310.5" y2="832.0" stroke="#4a4a4a" stroke-width="1.1"/>
<text transform="translate(315.6,838.6999999999999) rotate(-90)" font-size="14" text-anchor="end" fill="#4a4a4a" stroke="#4a4a4a" stroke-width="0.28">chr12</text>
<line x1="333.0" y1="771.0" x2="333.0" y2="780.5" stroke="#3d3d3d" stroke-width="1.3"/>
<line x1="333.0" y1="787.3" x2="333.0" y2="790.3" stroke="#3d3d3d" stroke-width="1.3"/>
<rect x="324.4" y="780.5" width="17.2" height="6.8" fill="#ffffff" stroke="#3d3d3d" stroke-width="1.3"/>
<line x1="324.4" y1="783.9" x2="341.6" y2="783.9" stroke="#3d3d3d" stroke-width="1.3"/>
<line x1="333.0" y1="829.4" x2="333.0" y2="832.0" stroke="#4a4a4a" stroke-width="1.1"/>
<text transform="translate(338.1,838.6999999999999) rotate(-90)" font-size="14" text-anchor="end" fill="#4a4a4a" stroke="#4a4a4a" stroke-width="0.28">chr13</text>
<line x1="355.5" y1="775.3" x2="355.5" y2="780.8" stroke="#3d3d3d" stroke-width="1.3"/>
<line x1="355.5" y1="785.4" x2="355.5" y2="791.6" stroke="#3d3d3d" stroke-width="1.3"/>
<rect x="346.9" y="780.8" width="17.2" height="4.6" fill="#ffffff" stroke="#3d3d3d" stroke-width="1.3"/>
<line x1="346.9" y1="783.3" x2="364.1" y2="783.3" stroke="#3d3d3d" stroke-width="1.3"/>
<line x1="355.5" y1="829.4" x2="355.5" y2="832.0" stroke="#4a4a4a" stroke-width="1.1"/>
<text transform="translate(360.6,838.6999999999999) rotate(-90)" font-size="14" text-anchor="end" fill="#4a4a4a" stroke="#4a4a4a" stroke-width="0.28">chr14</text>
<line x1="378.0" y1="775.0" x2="378.0" y2="782.0" stroke="#3d3d3d" stroke-width="1.3"/>
<line x1="378.0" y1="787.3" x2="378.0" y2="794.3" stroke="#3d3d3d" stroke-width="1.3"/>
<rect x="369.4" y="782.0" width="17.2" height="5.2" fill="#ffffff" stroke="#3d3d3d" stroke-width="1.3"/>
<line x1="369.4" y1="784.5" x2="386.6" y2="784.5" stroke="#3d3d3d" stroke-width="1.3"/>
<line x1="378.0" y1="829.4" x2="378.0" y2="832.0" stroke="#4a4a4a" stroke-width="1.1"/>
<text transform="translate(383.1,838.6999999999999) rotate(-90)" font-size="14" text-anchor="end" fill="#4a4a4a" stroke="#4a4a4a" stroke-width="0.28">chr15</text>
<line x1="400.5" y1="775.0" x2="400.5" y2="782.0" stroke="#3d3d3d" stroke-width="1.3"/>
<line x1="400.5" y1="787.3" x2="400.5" y2="791.9" stroke="#3d3d3d" stroke-width="1.3"/>
<rect x="391.9" y="782.0" width="17.2" height="5.2" fill="#ffffff" stroke="#3d3d3d" stroke-width="1.3"/>
<line x1="391.9" y1="784.2" x2="409.1" y2="784.2" stroke="#3d3d3d" stroke-width="1.3"/>
<line x1="400.5" y1="829.4" x2="400.5" y2="832.0" stroke="#4a4a4a" stroke-width="1.1"/>
<text transform="translate(405.6,838.6999999999999) rotate(-90)" font-size="14" text-anchor="end" fill="#4a4a4a" stroke="#4a4a4a" stroke-width="0.28">chr16</text>
<rect x="49.1" y="667.6" width="363.5" height="161.79999999999995" fill="none" stroke="#3c3c3c" stroke-width="1.5"/>
<line x1="46.3" y1="829.4" x2="49.1" y2="829.4" stroke="#4a4a4a" stroke-width="1.1"/>
<text x="42.3" y="833.7" font-size="14.4" text-anchor="end" fill="#4a4a4a" stroke="#4a4a4a" stroke-width="0.28">0</text>
<line x1="46.3" y1="798.6" x2="49.1" y2="798.6" stroke="#4a4a4a" stroke-width="1.1"/>
<text x="42.3" y="802.9" font-size="14.4" text-anchor="end" fill="#4a4a4a" stroke="#4a4a4a" stroke-width="0.28">100</text>
<line x1="46.3" y1="767.9" x2="49.1" y2="767.9" stroke="#4a4a4a" stroke-width="1.1"/>
<text x="42.3" y="772.2" font-size="14.4" text-anchor="end" fill="#4a4a4a" stroke="#4a4a4a" stroke-width="0.28">200</text>
<line x1="46.3" y1="737.1" x2="49.1" y2="737.1" stroke="#4a4a4a" stroke-width="1.1"/>
<text x="42.3" y="741.4" font-size="14.4" text-anchor="end" fill="#4a4a4a" stroke="#4a4a4a" stroke-width="0.28">300</text>
<line x1="46.3" y1="706.4" x2="49.1" y2="706.4" stroke="#4a4a4a" stroke-width="1.1"/>
<text x="42.3" y="710.7" font-size="14.4" text-anchor="end" fill="#4a4a4a" stroke="#4a4a4a" stroke-width="0.28">400</text>
<line x1="46.3" y1="675.6" x2="49.1" y2="675.6" stroke="#4a4a4a" stroke-width="1.1"/>
<text x="42.3" y="679.9" font-size="14.4" text-anchor="end" fill="#4a4a4a" stroke="#4a4a4a" stroke-width="0.28">500</text>
<text transform="translate(12.2,742.2) rotate(-90)" font-size="14.5" text-anchor="middle" fill="#231f20" stroke="#231f20" stroke-width="0.28">coverage depth</text>
<text x="226.8" y="688.1" font-size="14.3" text-anchor="middle" fill="#231f20" stroke="#231f20" stroke-width="0.28">yWJS067</text>
<line x1="476.4" y1="781.1" x2="840.9" y2="781.1" stroke="#e3262b" stroke-width="4.2" stroke-dasharray="4.6,4.9"/>
<line x1="489.3" y1="756.2" x2="489.3" y2="763.0" stroke="#3d3d3d" stroke-width="1.3"/>
<line x1="489.3" y1="768.8" x2="489.3" y2="775.9" stroke="#3d3d3d" stroke-width="1.3"/>
<rect x="480.7" y="763.0" width="17.2" height="5.8" fill="#ffffff" stroke="#3d3d3d" stroke-width="1.3"/>
<line x1="480.7" y1="767.0" x2="497.9" y2="767.0" stroke="#3d3d3d" stroke-width="1.3"/>
<line x1="489.3" y1="830.3" x2="489.3" y2="832.9" stroke="#4a4a4a" stroke-width="1.1"/>
<text transform="translate(494.4,839.5999999999999) rotate(-90)" font-size="14" text-anchor="end" fill="#4a4a4a" stroke="#4a4a4a" stroke-width="0.28">chr01</text>
<line x1="511.8" y1="776.5" x2="511.8" y2="779.3" stroke="#3d3d3d" stroke-width="1.3"/>
<line x1="511.8" y1="782.0" x2="511.8" y2="786.3" stroke="#3d3d3d" stroke-width="1.3"/>
<rect x="503.2" y="779.3" width="17.2" height="2.8" fill="#ffffff" stroke="#3d3d3d" stroke-width="1.3"/>
<line x1="503.2" y1="780.8" x2="520.4" y2="780.8" stroke="#3d3d3d" stroke-width="1.3"/>
<line x1="511.8" y1="830.3" x2="511.8" y2="832.9" stroke="#4a4a4a" stroke-width="1.1"/>
<text transform="translate(516.9,839.5999999999999) rotate(-90)" font-size="14" text-anchor="end" fill="#4a4a4a" stroke="#4a4a4a" stroke-width="0.28">chr02</text>
<line x1="534.3" y1="759.6" x2="534.3" y2="766.6" stroke="#3d3d3d" stroke-width="1.3"/>
<line x1="534.3" y1="774.6" x2="534.3" y2="778.0" stroke="#3d3d3d" stroke-width="1.3"/>
<rect x="525.7" y="766.6" width="17.2" height="8.0" fill="#ffffff" stroke="#3d3d3d" stroke-width="1.3"/>
<line x1="525.7" y1="771.3" x2="542.9" y2="771.3" stroke="#3d3d3d" stroke-width="1.3"/>
<line x1="534.3" y1="830.3" x2="534.3" y2="832.9" stroke="#4a4a4a" stroke-width="1.1"/>
<text transform="translate(539.4,839.5999999999999) rotate(-90)" font-size="14" text-anchor="end" fill="#4a4a4a" stroke="#4a4a4a" stroke-width="0.28">chr03</text>
<line x1="556.8" y1="773.1" x2="556.8" y2="779.9" stroke="#3d3d3d" stroke-width="1.3"/>
<line x1="556.8" y1="785.7" x2="556.8" y2="791.6" stroke="#3d3d3d" stroke-width="1.3"/>
<rect x="548.2" y="779.9" width="17.2" height="5.8" fill="#ffffff" stroke="#3d3d3d" stroke-width="1.3"/>
<line x1="548.2" y1="783.3" x2="565.4" y2="783.3" stroke="#3d3d3d" stroke-width="1.3"/>
<line x1="556.8" y1="830.3" x2="556.8" y2="832.9" stroke="#4a4a4a" stroke-width="1.1"/>
<text transform="translate(561.9,839.5999999999999) rotate(-90)" font-size="14" text-anchor="end" fill="#4a4a4a" stroke="#4a4a4a" stroke-width="0.28">chr04</text>
<line x1="579.3" y1="730.1" x2="579.3" y2="760.8" stroke="#7a4c9e" stroke-width="1.15"/>
<line x1="579.3" y1="784.5" x2="579.3" y2="812.8" stroke="#7a4c9e" stroke-width="1.15"/>
<rect x="570.7" y="760.8" width="17.2" height="23.7" fill="#ffffff" stroke="#7a4c9e" stroke-width="1.15"/>
<line x1="570.7" y1="763.0" x2="587.9" y2="763.0" stroke="#7a4c9e" stroke-width="1.15"/>
<line x1="579.3" y1="830.3" x2="579.3" y2="832.9" stroke="#4a4a4a" stroke-width="1.1"/>
<text transform="translate(584.4,839.5999999999999) rotate(-90)" font-size="14" text-anchor="end" fill="#4a4a4a" stroke="#4a4a4a" stroke-width="0.28">chr05</text>
<line x1="601.8" y1="756.8" x2="601.8" y2="763.0" stroke="#3d3d3d" stroke-width="1.3"/>
<line x1="601.8" y1="773.7" x2="601.8" y2="777.4" stroke="#3d3d3d" stroke-width="1.3"/>
<rect x="593.2" y="763.0" width="17.2" height="10.8" fill="#ffffff" stroke="#3d3d3d" stroke-width="1.3"/>
<line x1="593.2" y1="768.8" x2="610.4" y2="768.8" stroke="#3d3d3d" stroke-width="1.3"/>
<line x1="601.8" y1="830.3" x2="601.8" y2="832.9" stroke="#4a4a4a" stroke-width="1.1"/>
<text transform="translate(606.9,839.5999999999999) rotate(-90)" font-size="14" text-anchor="end" fill="#4a4a4a" stroke="#4a4a4a" stroke-width="0.28">chr06</text>
<line x1="624.3" y1="772.2" x2="624.3" y2="779.6" stroke="#3d3d3d" stroke-width="1.3"/>
<line x1="624.3" y1="784.8" x2="624.3" y2="791.6" stroke="#3d3d3d" stroke-width="1.3"/>
<rect x="615.7" y="779.6" width="17.2" height="5.2" fill="#ffffff" stroke="#3d3d3d" stroke-width="1.3"/>
<line x1="615.7" y1="781.7" x2="632.9" y2="781.7" stroke="#3d3d3d" stroke-width="1.3"/>
<line x1="624.3" y1="830.3" x2="624.3" y2="832.9" stroke="#4a4a4a" stroke-width="1.1"/>
<text transform="translate(629.4,839.5999999999999) rotate(-90)" font-size="14" text-anchor="end" fill="#4a4a4a" stroke="#4a4a4a" stroke-width="0.28">chr07</text>
<line x1="646.8" y1="767.9" x2="646.8" y2="774.9" stroke="#3d3d3d" stroke-width="1.3"/>
<line x1="646.8" y1="780.2" x2="646.8" y2="782.6" stroke="#3d3d3d" stroke-width="1.3"/>
<rect x="638.2" y="774.9" width="17.2" height="5.2" fill="#ffffff" stroke="#3d3d3d" stroke-width="1.3"/>
<line x1="638.2" y1="778.0" x2="655.4" y2="778.0" stroke="#3d3d3d" stroke-width="1.3"/>
<line x1="646.8" y1="830.3" x2="646.8" y2="832.9" stroke="#4a4a4a" stroke-width="1.1"/>
<text transform="translate(651.9,839.5999999999999) rotate(-90)" font-size="14" text-anchor="end" fill="#4a4a4a" stroke="#4a4a4a" stroke-width="0.28">chr08</text>
<line x1="669.3" y1="760.8" x2="669.3" y2="770.3" stroke="#3d3d3d" stroke-width="1.3"/>
<line x1="669.3" y1="777.7" x2="669.3" y2="779.6" stroke="#3d3d3d" stroke-width="1.3"/>
<rect x="660.7" y="770.3" width="17.2" height="7.4" fill="#ffffff" stroke="#3d3d3d" stroke-width="1.3"/>
<line x1="660.7" y1="774.3" x2="677.9" y2="774.3" stroke="#3d3d3d" stroke-width="1.3"/>
<line x1="669.3" y1="830.3" x2="669.3" y2="832.9" stroke="#4a4a4a" stroke-width="1.1"/>
<text transform="translate(674.4,839.5999999999999) rotate(-90)" font-size="14" text-anchor="end" fill="#4a4a4a" stroke="#4a4a4a" stroke-width="0.28">chr09</text>
<line x1="691.8" y1="770.0" x2="691.8" y2="775.9" stroke="#3d3d3d" stroke-width="1.3"/>
<line x1="691.8" y1="781.7" x2="691.8" y2="786.3" stroke="#3d3d3d" stroke-width="1.3"/>
<rect x="683.2" y="775.9" width="17.2" height="5.8" fill="#ffffff" stroke="#3d3d3d" stroke-width="1.3"/>
<line x1="683.2" y1="778.9" x2="700.4" y2="778.9" stroke="#3d3d3d" stroke-width="1.3"/>
<line x1="691.8" y1="830.3" x2="691.8" y2="832.9" stroke="#4a4a4a" stroke-width="1.1"/>
<text transform="translate(696.9,839.5999999999999) rotate(-90)" font-size="14" text-anchor="end" fill="#4a4a4a" stroke="#4a4a4a" stroke-width="0.28">chr10</text>
<line x1="714.3" y1="769.4" x2="714.3" y2="776.5" stroke="#3d3d3d" stroke-width="1.3"/>
<line x1="714.3" y1="782.3" x2="714.3" y2="786.9" stroke="#3d3d3d" stroke-width="1.3"/>
<rect x="705.7" y="776.5" width="17.2" height="5.8" fill="#ffffff" stroke="#3d3d3d" stroke-width="1.3"/>
<line x1="705.7" y1="779.6" x2="722.9" y2="779.6" stroke="#3d3d3d" stroke-width="1.3"/>
<line x1="714.3" y1="830.3" x2="714.3" y2="832.9" stroke="#4a4a4a" stroke-width="1.1"/>
<text transform="translate(719.4,839.5999999999999) rotate(-90)" font-size="14" text-anchor="end" fill="#4a4a4a" stroke="#4a4a4a" stroke-width="0.28">chr11</text>
<line x1="736.8" y1="775.9" x2="736.8" y2="780.8" stroke="#3d3d3d" stroke-width="1.3"/>
<line x1="736.8" y1="785.7" x2="736.8" y2="790.3" stroke="#3d3d3d" stroke-width="1.3"/>
<rect x="728.2" y="780.8" width="17.2" height="4.9" fill="#ffffff" stroke="#3d3d3d" stroke-width="1.3"/>
<line x1="728.2" y1="783.3" x2="745.4" y2="783.3" stroke="#3d3d3d" stroke-width="1.3"/>
<line x1="736.8" y1="830.3" x2="736.8" y2="832.9" stroke="#4a4a4a" stroke-width="1.1"/>
<text transform="translate(741.9,839.5999999999999) rotate(-90)" font-size="14" text-anchor="end" fill="#4a4a4a" stroke="#4a4a4a" stroke-width="0.28">chr12</text>
<line x1="759.3" y1="741.7" x2="759.3" y2="751.0" stroke="#e0483a" stroke-width="1.15"/>
<line x1="759.3" y1="759.6" x2="759.3" y2="765.7" stroke="#e0483a" stroke-width="1.15"/>
<rect x="750.7" y="751.0" width="17.2" height="8.6" fill="#ffffff" stroke="#e0483a" stroke-width="1.15"/>
<line x1="750.7" y1="755.3" x2="767.9" y2="755.3" stroke="#e0483a" stroke-width="1.15"/>
<line x1="759.3" y1="830.3" x2="759.3" y2="832.9" stroke="#4a4a4a" stroke-width="1.1"/>
<text transform="translate(764.4,839.5999999999999) rotate(-90)" font-size="14" text-anchor="end" fill="#4a4a4a" stroke="#4a4a4a" stroke-width="0.28">chr13</text>
<line x1="781.8" y1="771.0" x2="781.8" y2="777.7" stroke="#3d3d3d" stroke-width="1.3"/>
<line x1="781.8" y1="782.6" x2="781.8" y2="787.2" stroke="#3d3d3d" stroke-width="1.3"/>
<rect x="773.2" y="777.7" width="17.2" height="4.9" fill="#ffffff" stroke="#3d3d3d" stroke-width="1.3"/>
<line x1="773.2" y1="779.6" x2="790.4" y2="779.6" stroke="#3d3d3d" stroke-width="1.3"/>
<line x1="781.8" y1="830.3" x2="781.8" y2="832.9" stroke="#4a4a4a" stroke-width="1.1"/>
<text transform="translate(786.9,839.5999999999999) rotate(-90)" font-size="14" text-anchor="end" fill="#4a4a4a" stroke="#4a4a4a" stroke-width="0.28">chr14</text>
<line x1="804.3" y1="771.3" x2="804.3" y2="779.3" stroke="#3d3d3d" stroke-width="1.3"/>
<line x1="804.3" y1="784.2" x2="804.3" y2="790.3" stroke="#3d3d3d" stroke-width="1.3"/>
<rect x="795.7" y="779.3" width="17.2" height="4.9" fill="#ffffff" stroke="#3d3d3d" stroke-width="1.3"/>
<line x1="795.7" y1="781.7" x2="812.9" y2="781.7" stroke="#3d3d3d" stroke-width="1.3"/>
<line x1="804.3" y1="830.3" x2="804.3" y2="832.9" stroke="#4a4a4a" stroke-width="1.1"/>
<text transform="translate(809.4,839.5999999999999) rotate(-90)" font-size="14" text-anchor="end" fill="#4a4a4a" stroke="#4a4a4a" stroke-width="0.28">chr15</text>
<line x1="826.8" y1="771.9" x2="826.8" y2="778.6" stroke="#3d3d3d" stroke-width="1.3"/>
<line x1="826.8" y1="784.2" x2="826.8" y2="788.8" stroke="#3d3d3d" stroke-width="1.3"/>
<rect x="818.2" y="778.6" width="17.2" height="5.5" fill="#ffffff" stroke="#3d3d3d" stroke-width="1.3"/>
<line x1="818.2" y1="781.1" x2="835.4" y2="781.1" stroke="#3d3d3d" stroke-width="1.3"/>
<line x1="826.8" y1="830.3" x2="826.8" y2="832.9" stroke="#4a4a4a" stroke-width="1.1"/>
<text transform="translate(831.9,839.5999999999999) rotate(-90)" font-size="14" text-anchor="end" fill="#4a4a4a" stroke="#4a4a4a" stroke-width="0.28">chr16</text>
<rect x="475.4" y="669.0" width="364.5" height="161.29999999999995" fill="none" stroke="#3c3c3c" stroke-width="1.5"/>
<line x1="472.6" y1="830.3" x2="475.4" y2="830.3" stroke="#4a4a4a" stroke-width="1.1"/>
<text x="468.6" y="834.6" font-size="14.4" text-anchor="end" fill="#4a4a4a" stroke="#4a4a4a" stroke-width="0.28">0</text>
<line x1="472.6" y1="799.5" x2="475.4" y2="799.5" stroke="#4a4a4a" stroke-width="1.1"/>
<text x="468.6" y="803.8" font-size="14.4" text-anchor="end" fill="#4a4a4a" stroke="#4a4a4a" stroke-width="0.28">100</text>
<line x1="472.6" y1="768.8" x2="475.4" y2="768.8" stroke="#4a4a4a" stroke-width="1.1"/>
<text x="468.6" y="773.1" font-size="14.4" text-anchor="end" fill="#4a4a4a" stroke="#4a4a4a" stroke-width="0.28">200</text>
<line x1="472.6" y1="738.0" x2="475.4" y2="738.0" stroke="#4a4a4a" stroke-width="1.1"/>
<text x="468.6" y="742.3" font-size="14.4" text-anchor="end" fill="#4a4a4a" stroke="#4a4a4a" stroke-width="0.28">300</text>
<line x1="472.6" y1="707.3" x2="475.4" y2="707.3" stroke="#4a4a4a" stroke-width="1.1"/>
<text x="468.6" y="711.6" font-size="14.4" text-anchor="end" fill="#4a4a4a" stroke="#4a4a4a" stroke-width="0.28">400</text>
<line x1="472.6" y1="676.5" x2="475.4" y2="676.5" stroke="#4a4a4a" stroke-width="1.1"/>
<text x="468.6" y="680.8" font-size="14.4" text-anchor="end" fill="#4a4a4a" stroke="#4a4a4a" stroke-width="0.28">500</text>
<text transform="translate(438.5,741.0) rotate(-90)" font-size="14.5" text-anchor="middle" fill="#231f20" stroke="#231f20" stroke-width="0.28">coverage depth</text>
<text x="657.4" y="689.5" font-size="14.3" text-anchor="middle" fill="#231f20" stroke="#231f20" stroke-width="0.28">yWJS184</text>
<line x1="904.0" y1="773.8" x2="1268.6" y2="773.8" stroke="#e3262b" stroke-width="4.2" stroke-dasharray="4.6,4.9"/>
<line x1="916.9" y1="742.8" x2="916.9" y2="749.5" stroke="#3d3d3d" stroke-width="1.3"/>
<line x1="916.9" y1="756.0" x2="916.9" y2="763.1" stroke="#3d3d3d" stroke-width="1.3"/>
<rect x="908.3" y="749.5" width="17.2" height="6.5" fill="#ffffff" stroke="#3d3d3d" stroke-width="1.3"/>
<line x1="908.3" y1="751.7" x2="925.5" y2="751.7" stroke="#3d3d3d" stroke-width="1.3"/>
<line x1="916.9" y1="830.4" x2="916.9" y2="833.0" stroke="#4a4a4a" stroke-width="1.1"/>
<text transform="translate(922.0,839.6999999999999) rotate(-90)" font-size="14" text-anchor="end" fill="#4a4a4a" stroke="#4a4a4a" stroke-width="0.28">chr01</text>
<line x1="939.4" y1="759.1" x2="939.4" y2="768.0" stroke="#3d3d3d" stroke-width="1.3"/>
<line x1="939.4" y1="775.0" x2="939.4" y2="780.3" stroke="#3d3d3d" stroke-width="1.3"/>
<rect x="930.8" y="768.0" width="17.2" height="7.1" fill="#ffffff" stroke="#3d3d3d" stroke-width="1.3"/>
<line x1="930.8" y1="772.0" x2="948.0" y2="772.0" stroke="#3d3d3d" stroke-width="1.3"/>
<line x1="939.4" y1="830.4" x2="939.4" y2="833.0" stroke="#4a4a4a" stroke-width="1.1"/>
<text transform="translate(944.5,839.6999999999999) rotate(-90)" font-size="14" text-anchor="end" fill="#4a4a4a" stroke="#4a4a4a" stroke-width="0.28">chr02</text>
<line x1="961.9" y1="745.2" x2="961.9" y2="755.7" stroke="#3d3d3d" stroke-width="1.3"/>
<line x1="961.9" y1="766.7" x2="961.9" y2="778.7" stroke="#3d3d3d" stroke-width="1.3"/>
<rect x="953.3" y="755.7" width="17.2" height="11.1" fill="#ffffff" stroke="#3d3d3d" stroke-width="1.3"/>
<line x1="953.3" y1="762.1" x2="970.5" y2="762.1" stroke="#3d3d3d" stroke-width="1.3"/>
<line x1="961.9" y1="830.4" x2="961.9" y2="833.0" stroke="#4a4a4a" stroke-width="1.1"/>
<text transform="translate(967.0,839.6999999999999) rotate(-90)" font-size="14" text-anchor="end" fill="#4a4a4a" stroke="#4a4a4a" stroke-width="0.28">chr03</text>
<line x1="984.4" y1="763.4" x2="984.4" y2="771.1" stroke="#3d3d3d" stroke-width="1.3"/>
<line x1="984.4" y1="777.2" x2="984.4" y2="783.0" stroke="#3d3d3d" stroke-width="1.3"/>
<rect x="975.8" y="771.1" width="17.2" height="6.1" fill="#ffffff" stroke="#3d3d3d" stroke-width="1.3"/>
<line x1="975.8" y1="774.1" x2="993.0" y2="774.1" stroke="#3d3d3d" stroke-width="1.3"/>
<line x1="984.4" y1="830.4" x2="984.4" y2="833.0" stroke="#4a4a4a" stroke-width="1.1"/>
<text transform="translate(989.5,839.6999999999999) rotate(-90)" font-size="14" text-anchor="end" fill="#4a4a4a" stroke="#4a4a4a" stroke-width="0.28">chr04</text>
<line x1="1006.9" y1="727.1" x2="1006.9" y2="742.1" stroke="#7a4c9e" stroke-width="1.15"/>
<line x1="1006.9" y1="754.4" x2="1006.9" y2="771.4" stroke="#7a4c9e" stroke-width="1.15"/>
<rect x="998.3" y="742.1" width="17.2" height="12.3" fill="#ffffff" stroke="#7a4c9e" stroke-width="1.15"/>
<line x1="998.3" y1="748.9" x2="1015.5" y2="748.9" stroke="#7a4c9e" stroke-width="1.15"/>
<line x1="1006.9" y1="830.4" x2="1006.9" y2="833.0" stroke="#4a4a4a" stroke-width="1.1"/>
<text transform="translate(1012.0,839.6999999999999) rotate(-90)" font-size="14" text-anchor="end" fill="#4a4a4a" stroke="#4a4a4a" stroke-width="0.28">chr05</text>
<line x1="1029.4" y1="740.0" x2="1029.4" y2="749.5" stroke="#3d3d3d" stroke-width="1.3"/>
<line x1="1029.4" y1="760.0" x2="1029.4" y2="771.4" stroke="#3d3d3d" stroke-width="1.3"/>
<rect x="1020.8" y="749.5" width="17.2" height="10.5" fill="#ffffff" stroke="#3d3d3d" stroke-width="1.3"/>
<line x1="1020.8" y1="756.3" x2="1038.0" y2="756.3" stroke="#3d3d3d" stroke-width="1.3"/>
<line x1="1029.4" y1="830.4" x2="1029.4" y2="833.0" stroke="#4a4a4a" stroke-width="1.1"/>
<text transform="translate(1034.5,839.6999999999999) rotate(-90)" font-size="14" text-anchor="end" fill="#4a4a4a" stroke="#4a4a4a" stroke-width="0.28">chr06</text>
<line x1="1051.9" y1="764.6" x2="1051.9" y2="770.4" stroke="#3d3d3d" stroke-width="1.3"/>
<line x1="1051.9" y1="776.3" x2="1051.9" y2="780.9" stroke="#3d3d3d" stroke-width="1.3"/>
<rect x="1043.3" y="770.4" width="17.2" height="5.8" fill="#ffffff" stroke="#3d3d3d" stroke-width="1.3"/>
<line x1="1043.3" y1="773.2" x2="1060.5" y2="773.2" stroke="#3d3d3d" stroke-width="1.3"/>
<line x1="1051.9" y1="830.4" x2="1051.9" y2="833.0" stroke="#4a4a4a" stroke-width="1.1"/>
<text transform="translate(1057.0,839.6999999999999) rotate(-90)" font-size="14" text-anchor="end" fill="#4a4a4a" stroke="#4a4a4a" stroke-width="0.28">chr07</text>
<line x1="1074.4" y1="757.8" x2="1074.4" y2="764.9" stroke="#3d3d3d" stroke-width="1.3"/>
<line x1="1074.4" y1="771.4" x2="1074.4" y2="777.8" stroke="#3d3d3d" stroke-width="1.3"/>
<rect x="1065.8" y="764.9" width="17.2" height="6.5" fill="#ffffff" stroke="#3d3d3d" stroke-width="1.3"/>
<line x1="1065.8" y1="767.7" x2="1083.0" y2="767.7" stroke="#3d3d3d" stroke-width="1.3"/>
<line x1="1074.4" y1="830.4" x2="1074.4" y2="833.0" stroke="#4a4a4a" stroke-width="1.1"/>
<text transform="translate(1079.5,839.6999999999999) rotate(-90)" font-size="14" text-anchor="end" fill="#4a4a4a" stroke="#4a4a4a" stroke-width="0.28">chr08</text>
<line x1="1096.9" y1="751.1" x2="1096.9" y2="760.9" stroke="#3d3d3d" stroke-width="1.3"/>
<line x1="1096.9" y1="767.4" x2="1096.9" y2="769.2" stroke="#3d3d3d" stroke-width="1.3"/>
<rect x="1088.3" y="760.9" width="17.2" height="6.5" fill="#ffffff" stroke="#3d3d3d" stroke-width="1.3"/>
<line x1="1088.3" y1="764.3" x2="1105.5" y2="764.3" stroke="#3d3d3d" stroke-width="1.3"/>
<line x1="1096.9" y1="830.4" x2="1096.9" y2="833.0" stroke="#4a4a4a" stroke-width="1.1"/>
<text transform="translate(1102.0,839.6999999999999) rotate(-90)" font-size="14" text-anchor="end" fill="#4a4a4a" stroke="#4a4a4a" stroke-width="0.28">chr09</text>
<line x1="1119.4" y1="761.2" x2="1119.4" y2="767.7" stroke="#3d3d3d" stroke-width="1.3"/>
<line x1="1119.4" y1="772.9" x2="1119.4" y2="780.0" stroke="#3d3d3d" stroke-width="1.3"/>
<rect x="1110.8" y="767.7" width="17.2" height="5.2" fill="#ffffff" stroke="#3d3d3d" stroke-width="1.3"/>
<line x1="1110.8" y1="770.4" x2="1128.0" y2="770.4" stroke="#3d3d3d" stroke-width="1.3"/>
<line x1="1119.4" y1="830.4" x2="1119.4" y2="833.0" stroke="#4a4a4a" stroke-width="1.1"/>
<text transform="translate(1124.5,839.6999999999999) rotate(-90)" font-size="14" text-anchor="end" fill="#4a4a4a" stroke="#4a4a4a" stroke-width="0.28">chr10</text>
<line x1="1141.9" y1="758.4" x2="1141.9" y2="765.8" stroke="#3d3d3d" stroke-width="1.3"/>
<line x1="1141.9" y1="772.3" x2="1141.9" y2="779.7" stroke="#3d3d3d" stroke-width="1.3"/>
<rect x="1133.3" y="765.8" width="17.2" height="6.5" fill="#ffffff" stroke="#3d3d3d" stroke-width="1.3"/>
<line x1="1133.3" y1="768.9" x2="1150.5" y2="768.9" stroke="#3d3d3d" stroke-width="1.3"/>
<line x1="1141.9" y1="830.4" x2="1141.9" y2="833.0" stroke="#4a4a4a" stroke-width="1.1"/>
<text transform="translate(1147.0,839.6999999999999) rotate(-90)" font-size="14" text-anchor="end" fill="#4a4a4a" stroke="#4a4a4a" stroke-width="0.28">chr11</text>
<line x1="1164.4" y1="734.8" x2="1164.4" y2="746.1" stroke="#e0483a" stroke-width="1.15"/>
<line x1="1164.4" y1="753.8" x2="1164.4" y2="761.5" stroke="#e0483a" stroke-width="1.15"/>
<rect x="1155.8" y="746.1" width="17.2" height="7.7" fill="#ffffff" stroke="#e0483a" stroke-width="1.15"/>
<line x1="1155.8" y1="750.1" x2="1173.0" y2="750.1" stroke="#e0483a" stroke-width="1.15"/>
<line x1="1164.4" y1="830.4" x2="1164.4" y2="833.0" stroke="#4a4a4a" stroke-width="1.1"/>
<text transform="translate(1169.5,839.6999999999999) rotate(-90)" font-size="14" text-anchor="end" fill="#4a4a4a" stroke="#4a4a4a" stroke-width="0.28">chr12</text>
<line x1="1186.9" y1="726.2" x2="1186.9" y2="738.8" stroke="#e0483a" stroke-width="1.15"/>
<line x1="1186.9" y1="747.7" x2="1186.9" y2="756.0" stroke="#e0483a" stroke-width="1.15"/>
<rect x="1178.3" y="738.8" width="17.2" height="8.9" fill="#ffffff" stroke="#e0483a" stroke-width="1.15"/>
<line x1="1178.3" y1="743.1" x2="1195.5" y2="743.1" stroke="#e0483a" stroke-width="1.15"/>
<line x1="1186.9" y1="830.4" x2="1186.9" y2="833.0" stroke="#4a4a4a" stroke-width="1.1"/>
<text transform="translate(1192.0,839.6999999999999) rotate(-90)" font-size="14" text-anchor="end" fill="#4a4a4a" stroke="#4a4a4a" stroke-width="0.28">chr13</text>
<line x1="1209.4" y1="757.8" x2="1209.4" y2="767.4" stroke="#3d3d3d" stroke-width="1.3"/>
<line x1="1209.4" y1="772.9" x2="1209.4" y2="781.2" stroke="#3d3d3d" stroke-width="1.3"/>
<rect x="1200.8" y="767.4" width="17.2" height="5.5" fill="#ffffff" stroke="#3d3d3d" stroke-width="1.3"/>
<line x1="1200.8" y1="770.4" x2="1218.0" y2="770.4" stroke="#3d3d3d" stroke-width="1.3"/>
<line x1="1209.4" y1="830.4" x2="1209.4" y2="833.0" stroke="#4a4a4a" stroke-width="1.1"/>
<text transform="translate(1214.5,839.6999999999999) rotate(-90)" font-size="14" text-anchor="end" fill="#4a4a4a" stroke="#4a4a4a" stroke-width="0.28">chr14</text>
<line x1="1231.9" y1="759.7" x2="1231.9" y2="769.2" stroke="#3d3d3d" stroke-width="1.3"/>
<line x1="1231.9" y1="776.0" x2="1231.9" y2="781.2" stroke="#3d3d3d" stroke-width="1.3"/>
<rect x="1223.3" y="769.2" width="17.2" height="6.8" fill="#ffffff" stroke="#3d3d3d" stroke-width="1.3"/>
<line x1="1223.3" y1="772.9" x2="1240.5" y2="772.9" stroke="#3d3d3d" stroke-width="1.3"/>
<line x1="1231.9" y1="830.4" x2="1231.9" y2="833.0" stroke="#4a4a4a" stroke-width="1.1"/>
<text transform="translate(1237.0,839.6999999999999) rotate(-90)" font-size="14" text-anchor="end" fill="#4a4a4a" stroke="#4a4a4a" stroke-width="0.28">chr15</text>
<line x1="1254.4" y1="762.8" x2="1254.4" y2="769.5" stroke="#3d3d3d" stroke-width="1.3"/>
<line x1="1254.4" y1="774.7" x2="1254.4" y2="779.0" stroke="#3d3d3d" stroke-width="1.3"/>
<rect x="1245.8" y="769.5" width="17.2" height="5.2" fill="#ffffff" stroke="#3d3d3d" stroke-width="1.3"/>
<line x1="1245.8" y1="772.3" x2="1263.0" y2="772.3" stroke="#3d3d3d" stroke-width="1.3"/>
<line x1="1254.4" y1="830.4" x2="1254.4" y2="833.0" stroke="#4a4a4a" stroke-width="1.1"/>
<text transform="translate(1259.5,839.6999999999999) rotate(-90)" font-size="14" text-anchor="end" fill="#4a4a4a" stroke="#4a4a4a" stroke-width="0.28">chr16</text>
<rect x="903.0" y="668.8" width="364.6" height="161.60000000000002" fill="none" stroke="#3c3c3c" stroke-width="1.5"/>
<line x1="900.2" y1="830.4" x2="903.0" y2="830.4" stroke="#4a4a4a" stroke-width="1.1"/>
<text x="896.2" y="834.7" font-size="14.4" text-anchor="end" fill="#4a4a4a" stroke="#4a4a4a" stroke-width="0.28">0</text>
<line x1="900.2" y1="799.6" x2="903.0" y2="799.6" stroke="#4a4a4a" stroke-width="1.1"/>
<text x="896.2" y="803.9" font-size="14.4" text-anchor="end" fill="#4a4a4a" stroke="#4a4a4a" stroke-width="0.28">100</text>
<line x1="900.2" y1="768.9" x2="903.0" y2="768.9" stroke="#4a4a4a" stroke-width="1.1"/>
<text x="896.2" y="773.2" font-size="14.4" text-anchor="end" fill="#4a4a4a" stroke="#4a4a4a" stroke-width="0.28">200</text>
<line x1="900.2" y1="738.1" x2="903.0" y2="738.1" stroke="#4a4a4a" stroke-width="1.1"/>
<text x="896.2" y="742.4" font-size="14.4" text-anchor="end" fill="#4a4a4a" stroke="#4a4a4a" stroke-width="0.28">300</text>
<line x1="900.2" y1="707.4" x2="903.0" y2="707.4" stroke="#4a4a4a" stroke-width="1.1"/>
<text x="896.2" y="711.7" font-size="14.4" text-anchor="end" fill="#4a4a4a" stroke="#4a4a4a" stroke-width="0.28">400</text>
<line x1="900.2" y1="676.6" x2="903.0" y2="676.6" stroke="#4a4a4a" stroke-width="1.1"/>
<text x="896.2" y="680.9" font-size="14.4" text-anchor="end" fill="#4a4a4a" stroke="#4a4a4a" stroke-width="0.28">500</text>
<text transform="translate(866.1,739.5) rotate(-90)" font-size="14.5" text-anchor="middle" fill="#231f20" stroke="#231f20" stroke-width="0.28">coverage depth</text>
<text x="1085.8" y="689.3" font-size="14.3" text-anchor="middle" fill="#231f20" stroke="#231f20" stroke-width="0.28">yWJS321</text>
<text x="0.6" y="903.5" font-size="24" font-weight="bold" fill="#231f20">d</text>
<circle cx="151.4" cy="1042.4" r="128.05" fill="none" stroke="#faf8c6" stroke-width="32.099999999999994"/>
<circle cx="151.4" cy="1042.4" r="144.1" fill="none" stroke="#3a3a3a" stroke-width="0.9"/>
<circle cx="151.4" cy="1042.4" r="112.0" fill="none" stroke="#3a3a3a" stroke-width="0.9"/>
<line x1="262.93" y1="1052.65" x2="294.90" y2="1055.59" stroke="#333" stroke-width="0.7"/>
<line x1="262.76" y1="1054.40" x2="294.67" y2="1057.84" stroke="#333" stroke-width="0.7"/>
<line x1="262.85" y1="1053.52" x2="294.79" y2="1056.71" stroke="#fbf8d8" stroke-width="0.9"/>
<text x="150.4" y="1049.7" font-size="23.5" text-anchor="middle" fill="#231f20" stroke="#231f20" stroke-width="0.28">yWJS1</text>
<path d="M549.55,931.27 A144.1,144.1 0 0 1 569.77,951.71 L544.80,971.89 A112.0,112.0 0 0 0 529.09,956.00 Z" fill="#ee8a42"/>
<path d="M569.69,951.61 A144.1,144.1 0 0 1 576.95,961.41 L550.39,979.43 A112.0,112.0 0 0 0 544.74,971.82 Z" fill="#e84d2e"/>
<path d="M576.88,961.30 A144.1,144.1 0 0 1 598.88,1013.45 L567.43,1019.88 A112.0,112.0 0 0 0 550.33,979.35 Z" fill="#ee8a42"/>
<path d="M598.86,1013.32 A144.1,144.1 0 0 1 599.54,1016.91 L567.95,1022.56 A112.0,112.0 0 0 0 567.41,1019.78 Z" fill="#faf8c6"/>
<path d="M599.52,1016.78 A144.1,144.1 0 0 1 553.65,1149.81 L532.28,1125.86 A112.0,112.0 0 0 0 567.93,1022.47 Z" fill="#ee8a42"/>
<path d="M553.75,1149.72 A144.1,144.1 0 0 1 527.89,1168.15 L512.25,1140.11 A112.0,112.0 0 0 0 532.35,1125.79 Z" fill="#faf8c6"/>
<path d="M528.00,1168.09 A144.1,144.1 0 0 1 522.11,1171.20 L507.76,1142.49 A112.0,112.0 0 0 0 512.34,1140.07 Z" fill="#ee8a42"/>
<path d="M522.22,1171.15 A144.1,144.1 0 1 1 549.65,931.35 L529.17,956.06 A112.0,112.0 0 1 0 507.85,1142.45 Z" fill="#faf8c6"/>
<circle cx="457.7" cy="1042.3" r="144.1" fill="none" stroke="#3a3a3a" stroke-width="0.9"/>
<circle cx="457.7" cy="1042.3" r="112.0" fill="none" stroke="#3a3a3a" stroke-width="0.9"/>
<line x1="569.23" y1="1052.55" x2="601.20" y2="1055.49" stroke="#333" stroke-width="0.7"/>
<line x1="569.06" y1="1054.30" x2="600.97" y2="1057.74" stroke="#333" stroke-width="0.7"/>
<line x1="569.15" y1="1053.42" x2="601.09" y2="1056.61" stroke="#fbf8d8" stroke-width="0.9"/>
<text x="456.7" y="1049.6" font-size="23.5" text-anchor="middle" fill="#231f20" stroke="#231f20" stroke-width="0.28">yWJS067</text>
<path d="M619.80,1042.30 A144.1,144.1 0 0 1 637.56,972.99 L665.71,988.43 A112.0,112.0 0 0 0 651.90,1042.30 Z" fill="#faf8c6"/>
<path d="M637.50,973.10 A144.1,144.1 0 0 1 659.11,943.38 L682.46,965.42 A112.0,112.0 0 0 0 665.66,988.51 Z" fill="#ee8a42"/>
<path d="M659.03,943.47 A144.1,144.1 0 0 1 681.97,923.76 L700.22,950.16 A112.0,112.0 0 0 0 682.39,965.49 Z" fill="#faf8c6"/>
<path d="M681.87,923.83 A144.1,144.1 0 0 1 730.38,902.15 L737.85,933.37 A112.0,112.0 0 0 0 700.14,950.22 Z" fill="#ee8a42"/>
<path d="M730.26,902.18 A144.1,144.1 0 0 1 745.96,899.32 L749.96,931.17 A112.0,112.0 0 0 0 737.75,933.39 Z" fill="#e84d2e"/>
<path d="M745.84,899.34 A144.1,144.1 0 0 1 773.58,898.53 L771.42,930.55 A112.0,112.0 0 0 0 749.86,931.18 Z" fill="#ee8a42"/>
<path d="M773.45,898.52 A144.1,144.1 0 0 1 798.39,902.39 L790.71,933.56 A112.0,112.0 0 0 0 771.32,930.55 Z" fill="#faf8c6"/>
<path d="M798.27,902.36 A144.1,144.1 0 0 1 819.39,909.31 L807.03,938.94 A112.0,112.0 0 0 0 790.62,933.53 Z" fill="#ee8a42"/>
<path d="M819.28,909.27 A144.1,144.1 0 0 1 856.43,931.83 L835.82,956.44 A112.0,112.0 0 0 0 806.94,938.90 Z" fill="#faf8c6"/>
<path d="M856.33,931.75 A144.1,144.1 0 0 1 876.28,952.10 L851.25,972.20 A112.0,112.0 0 0 0 835.74,956.38 Z" fill="#ee8a42"/>
<path d="M876.20,952.01 A144.1,144.1 0 0 1 883.15,961.41 L856.59,979.43 A112.0,112.0 0 0 0 851.19,972.12 Z" fill="#e84d2e"/>
<path d="M883.08,961.30 A144.1,144.1 0 0 1 905.88,1017.65 L874.25,1023.14 A112.0,112.0 0 0 0 856.53,979.35 Z" fill="#faf8c6"/>
<path d="M905.85,1017.53 A144.1,144.1 0 0 1 907.06,1025.86 L875.17,1029.52 A112.0,112.0 0 0 0 874.23,1023.04 Z" fill="#ee8a42"/>
<path d="M907.05,1025.74 A144.1,144.1 0 0 1 907.20,1027.11 L875.28,1030.50 A112.0,112.0 0 0 0 875.16,1029.43 Z" fill="#faf8c6"/>
<path d="M907.18,1026.99 A144.1,144.1 0 0 1 907.40,1029.11 L875.43,1032.05 A112.0,112.0 0 0 0 875.27,1030.40 Z" fill="#ee8a42"/>
<path d="M907.38,1028.99 A144.1,144.1 0 0 1 907.75,1033.88 L875.71,1035.76 A112.0,112.0 0 0 0 875.42,1031.95 Z" fill="#e84d2e"/>
<path d="M907.75,1033.75 A144.1,144.1 0 0 1 859.10,1150.47 L837.89,1126.38 A112.0,112.0 0 0 0 875.70,1035.66 Z" fill="#ee8a42"/>
<path d="M859.20,1150.39 A144.1,144.1 0 0 1 835.19,1167.53 L819.31,1139.64 A112.0,112.0 0 0 0 837.97,1126.31 Z" fill="#faf8c6"/>
<path d="M835.30,1167.47 A144.1,144.1 0 0 1 829.43,1170.64 L814.83,1142.05 A112.0,112.0 0 0 0 819.39,1139.59 Z" fill="#e84d2e"/>
<path d="M829.54,1170.58 A144.1,144.1 0 0 1 817.76,1175.95 L805.77,1146.18 A112.0,112.0 0 0 0 814.92,1142.00 Z" fill="#ee8a42"/>
<path d="M817.88,1175.91 A144.1,144.1 0 0 1 813.78,1177.49 L802.67,1147.38 A112.0,112.0 0 0 0 805.86,1146.14 Z" fill="#161616"/>
<path d="M813.89,1177.45 A144.1,144.1 0 0 1 804.22,1180.64 L795.24,1149.83 A112.0,112.0 0 0 0 802.76,1147.34 Z" fill="#faf8c6"/>
<path d="M804.34,1180.61 A144.1,144.1 0 0 1 697.47,1170.18 L712.27,1141.69 A112.0,112.0 0 0 0 795.33,1149.80 Z" fill="#ee8a42"/>
<path d="M697.59,1170.23 A144.1,144.1 0 0 1 675.68,1156.24 L695.33,1130.86 A112.0,112.0 0 0 0 712.36,1141.74 Z" fill="#faf8c6"/>
<path d="M675.78,1156.32 A144.1,144.1 0 0 1 619.80,1042.17 L651.90,1042.20 A112.0,112.0 0 0 0 695.41,1130.92 Z" fill="#ee8a42"/>
<circle cx="763.9" cy="1042.3" r="144.1" fill="none" stroke="#3a3a3a" stroke-width="0.9"/>
<circle cx="763.9" cy="1042.3" r="112.0" fill="none" stroke="#3a3a3a" stroke-width="0.9"/>
<line x1="875.43" y1="1052.55" x2="907.40" y2="1055.49" stroke="#333" stroke-width="0.7"/>
<line x1="875.26" y1="1054.30" x2="907.17" y2="1057.74" stroke="#333" stroke-width="0.7"/>
<line x1="875.35" y1="1053.42" x2="907.29" y2="1056.61" stroke="#fbf8d8" stroke-width="0.9"/>
<text x="762.9" y="1049.6" font-size="23.5" text-anchor="middle" fill="#231f20" stroke="#231f20" stroke-width="0.28">yWJS184</text>
<path d="M926.52,1039.79 A144.1,144.1 0 0 1 944.02,973.43 L972.22,988.77 A112.0,112.0 0 0 0 958.62,1040.35 Z" fill="#faf8c6"/>
<path d="M943.96,973.54 A144.1,144.1 0 0 1 964.10,945.23 L987.83,966.85 A112.0,112.0 0 0 0 972.17,988.86 Z" fill="#ee8a42"/>
<path d="M964.02,945.32 A144.1,144.1 0 0 1 987.43,924.62 L1005.96,950.84 A112.0,112.0 0 0 0 987.76,966.92 Z" fill="#faf8c6"/>
<path d="M987.33,924.69 A144.1,144.1 0 0 1 1037.33,902.09 L1044.74,933.33 A112.0,112.0 0 0 0 1005.88,950.89 Z" fill="#ee8a42"/>
<path d="M1037.21,902.12 A144.1,144.1 0 0 1 1052.91,899.29 L1056.85,931.15 A112.0,112.0 0 0 0 1044.64,933.35 Z" fill="#e84d2e"/>
<path d="M1052.79,899.30 A144.1,144.1 0 0 1 1096.74,900.59 L1090.91,932.16 A112.0,112.0 0 0 0 1056.76,931.16 Z" fill="#ee8a42"/>
<path d="M1096.61,900.57 A144.1,144.1 0 0 1 1150.45,922.35 L1132.66,949.07 A112.0,112.0 0 0 0 1090.82,932.14 Z" fill="#e84d2e"/>
<path d="M1150.34,922.28 A144.1,144.1 0 0 1 1152.12,923.47 L1133.96,949.94 A112.0,112.0 0 0 0 1132.58,949.01 Z" fill="#ee8a42"/>
<path d="M1152.01,923.40 A144.1,144.1 0 0 1 1162.36,931.19 L1141.92,955.94 A112.0,112.0 0 0 0 1133.88,949.89 Z" fill="#e84d2e"/>
<path d="M1162.26,931.11 A144.1,144.1 0 0 1 1163.90,932.48 L1143.11,956.94 A112.0,112.0 0 0 0 1141.84,955.88 Z" fill="#ee8a42"/>
<path d="M1163.80,932.40 A144.1,144.1 0 0 1 1209.63,1004.40 L1178.66,1012.84 A112.0,112.0 0 0 0 1143.04,956.88 Z" fill="#e84d2e"/>
<path d="M1209.59,1004.28 A144.1,144.1 0 0 1 1210.02,1005.86 L1178.96,1013.97 A112.0,112.0 0 0 0 1178.63,1012.75 Z" fill="#faf8c6"/>
<path d="M1209.98,1005.73 A144.1,144.1 0 0 1 1211.98,1014.43 L1180.49,1020.64 A112.0,112.0 0 0 0 1178.93,1013.88 Z" fill="#e84d2e"/>
<path d="M1211.96,1014.31 A144.1,144.1 0 0 1 1213.90,1027.11 L1181.98,1030.50 A112.0,112.0 0 0 0 1180.47,1020.55 Z" fill="#ee8a42"/>
<path d="M1213.88,1026.99 A144.1,144.1 0 0 1 1214.37,1032.62 L1182.35,1034.78 A112.0,112.0 0 0 0 1181.97,1030.40 Z" fill="#e84d2e"/>
<path d="M1214.37,1032.50 A144.1,144.1 0 0 1 1165.80,1150.47 L1144.59,1126.38 A112.0,112.0 0 0 0 1182.34,1034.68 Z" fill="#ee8a42"/>
<path d="M1165.90,1150.39 A144.1,144.1 0 0 1 1139.91,1168.64 L1124.47,1140.49 A112.0,112.0 0 0 0 1144.67,1126.31 Z" fill="#faf8c6"/>
<path d="M1140.02,1168.58 A144.1,144.1 0 0 1 1134.11,1171.65 L1119.96,1142.84 A112.0,112.0 0 0 0 1124.56,1140.45 Z" fill="#e84d2e"/>
<path d="M1134.22,1171.59 A144.1,144.1 0 0 1 1123.06,1176.51 L1111.38,1146.61 A112.0,112.0 0 0 0 1120.05,1142.79 Z" fill="#ee8a42"/>
<path d="M1123.18,1176.47 A144.1,144.1 0 0 1 1119.29,1177.92 L1108.45,1147.71 A112.0,112.0 0 0 0 1111.47,1146.58 Z" fill="#161616"/>
<path d="M1119.41,1177.88 A144.1,144.1 0 0 1 1110.20,1180.85 L1101.38,1149.99 A112.0,112.0 0 0 0 1108.54,1147.68 Z" fill="#faf8c6"/>
<path d="M1110.32,1180.82 A144.1,144.1 0 0 1 1003.28,1169.71 L1018.28,1141.33 A112.0,112.0 0 0 0 1101.47,1149.96 Z" fill="#ee8a42"/>
<path d="M1003.39,1169.77 A144.1,144.1 0 0 1 980.60,1154.84 L1000.65,1129.77 A112.0,112.0 0 0 0 1018.36,1141.37 Z" fill="#faf8c6"/>
<path d="M980.70,1154.92 A144.1,144.1 0 0 1 926.52,1039.66 L958.62,1040.25 A112.0,112.0 0 0 0 1000.73,1129.83 Z" fill="#ee8a42"/>
<circle cx="1070.6" cy="1042.3" r="144.1" fill="none" stroke="#3a3a3a" stroke-width="0.9"/>
<circle cx="1070.6" cy="1042.3" r="112.0" fill="none" stroke="#3a3a3a" stroke-width="0.9"/>
<line x1="1182.13" y1="1052.55" x2="1214.10" y2="1055.49" stroke="#333" stroke-width="0.7"/>
<line x1="1181.96" y1="1054.30" x2="1213.87" y2="1057.74" stroke="#333" stroke-width="0.7"/>
<line x1="1182.05" y1="1053.42" x2="1213.99" y2="1056.61" stroke="#fbf8d8" stroke-width="0.9"/>
<text x="1069.6" y="1049.6" font-size="23.5" text-anchor="middle" fill="#231f20" stroke="#231f20" stroke-width="0.28">yWJS321</text>
<rect x="1228.1" y="898.8" width="25" height="20" fill="#e84d2e" stroke="#111" stroke-width="2"/>
<text x="1259.5" y="914.0" font-size="15" fill="#231f20" stroke="#231f20" stroke-width="0.28">3</text>
<rect x="1228.1" y="925.2" width="25" height="20" fill="#ee8a42" stroke="#111" stroke-width="2"/>
<text x="1259.5" y="940.4" font-size="15" fill="#231f20" stroke="#231f20" stroke-width="0.28">2</text>
<rect x="1228.1" y="951.6" width="25" height="20" fill="#faf8c6" stroke="#111" stroke-width="2"/>
<text x="1259.5" y="966.8" font-size="15" fill="#231f20" stroke="#231f20" stroke-width="0.28">1</text>
<rect x="1228.1" y="978.0" width="25" height="20" fill="#161616" stroke="#111" stroke-width="2"/>
<text x="1259.5" y="993.2" font-size="15" fill="#231f20" stroke="#231f20" stroke-width="0.28">0</text>
<path d="M1214,1056.6 L1249.4,1053.4 L1246.9,1072 Z" fill="#161616"/>
<text x="1224.3" y="1095.3" font-size="16.2" fill="#231f20" stroke="#231f20" stroke-width="0.28">CEN5</text>
</svg>
</body></html>
